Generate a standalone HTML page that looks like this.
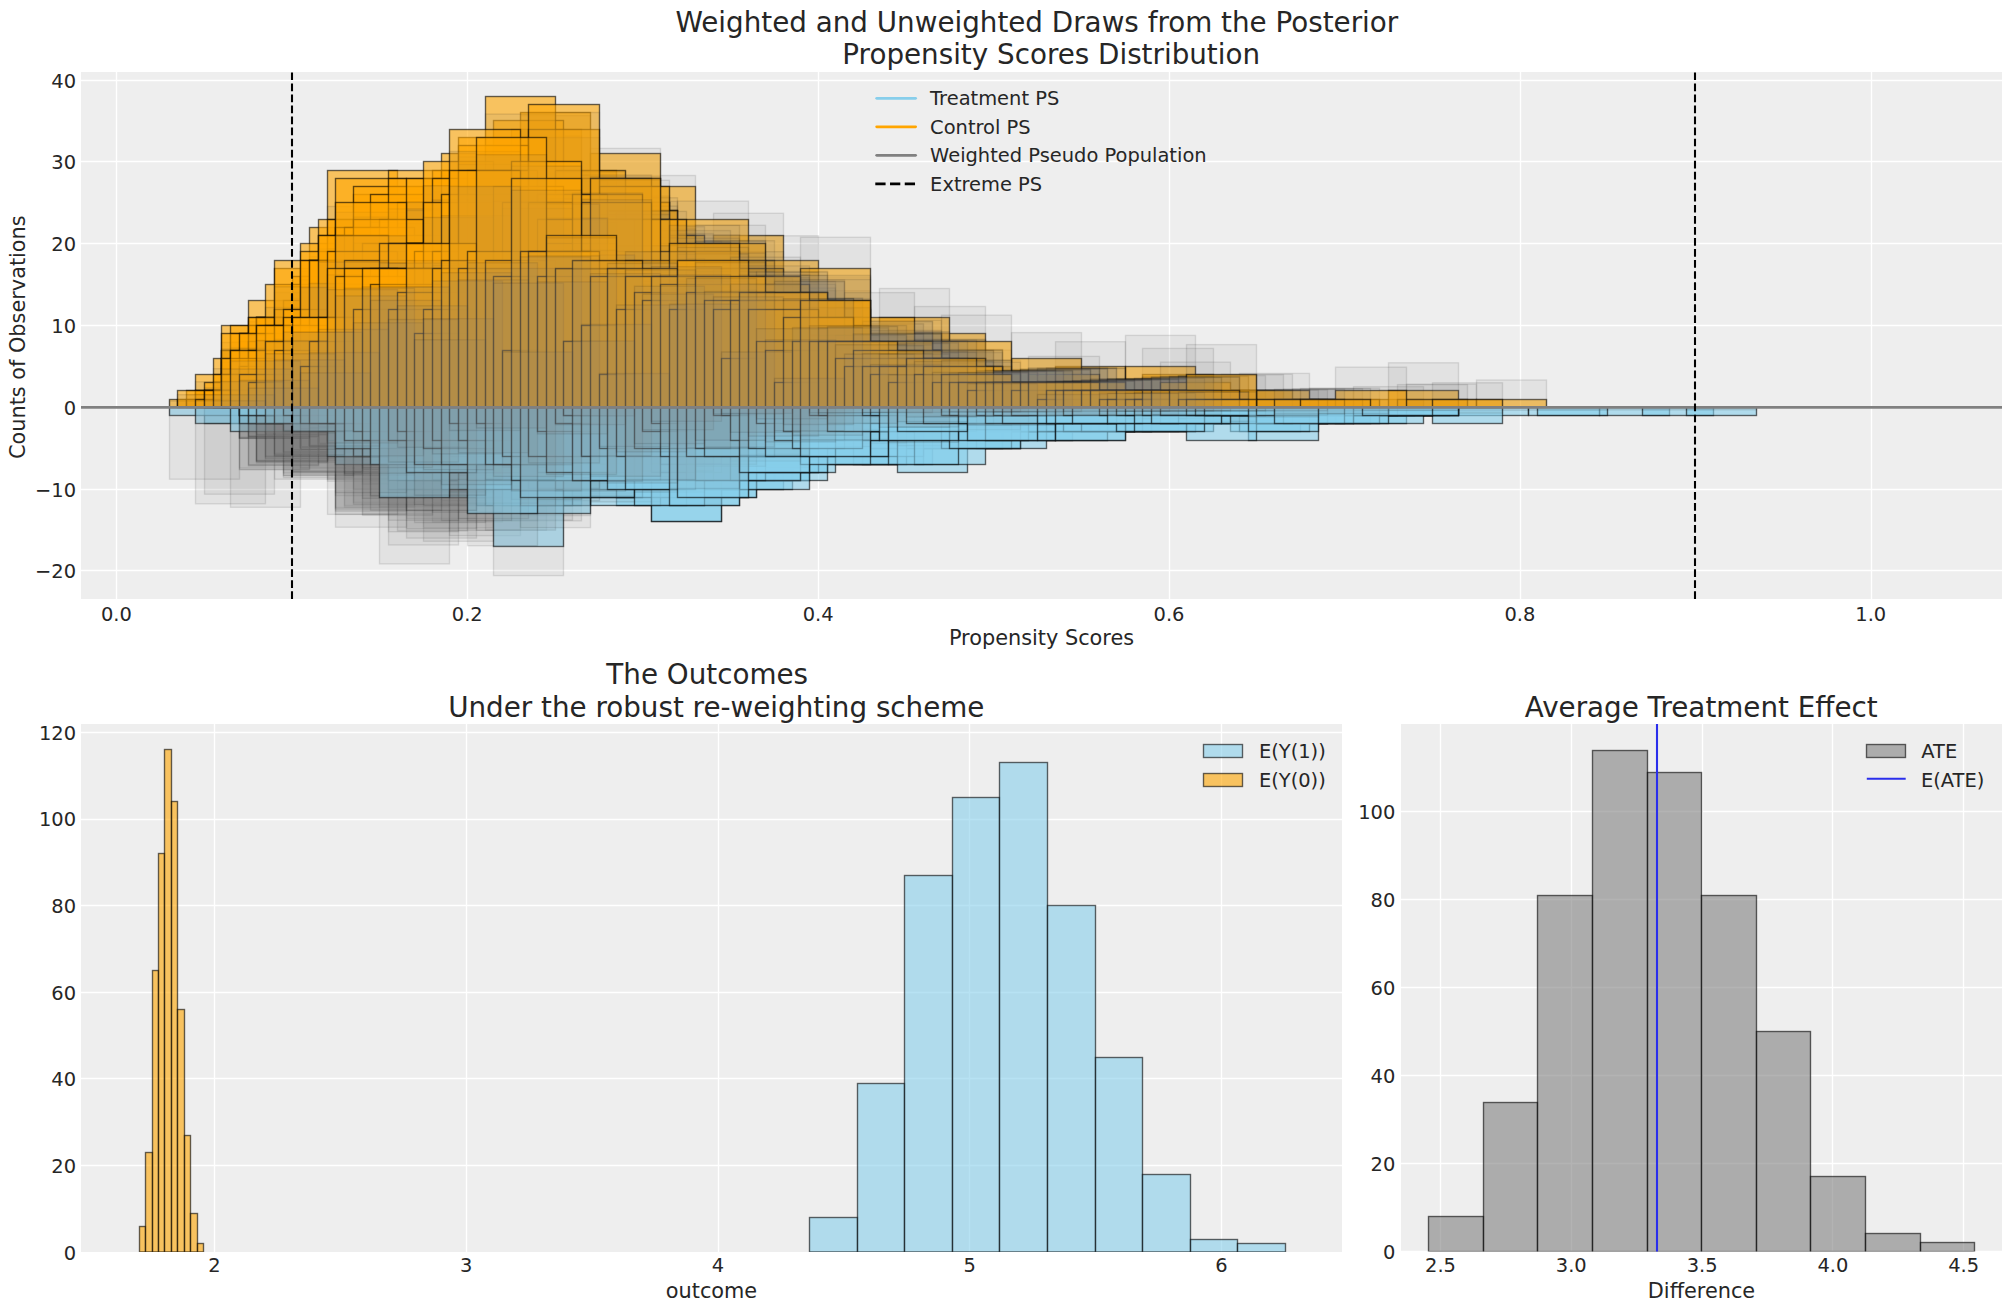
<!DOCTYPE html><html><head><meta charset="utf-8"><title>Propensity Scores</title><style>html,body{margin:0;padding:0;background:#fff}svg{display:block}</style></head><body><svg width="2011" height="1311" viewBox="0 0 2011 1311" font-family='"DejaVu Sans","Liberation Sans",sans-serif' fill="#262626">
<rect width="2011" height="1311" fill="#fff"/>
<rect x="81" y="72" width="1921" height="527" fill="#eee"/>
<g stroke="#fff" stroke-width="1.39"><line x1="116.5" x2="116.5" y1="72" y2="599"/><line x1="467.5" x2="467.5" y1="72" y2="599"/><line x1="818.5" x2="818.5" y1="72" y2="599"/><line x1="1169.5" x2="1169.5" y1="72" y2="599"/><line x1="1520.5" x2="1520.5" y1="72" y2="599"/><line x1="1871.5" x2="1871.5" y1="72" y2="599"/><line x1="81" x2="2002" y1="80.5" y2="80.5"/><line x1="81" x2="2002" y1="161.5" y2="161.5"/><line x1="81" x2="2002" y1="243.5" y2="243.5"/><line x1="81" x2="2002" y1="325.5" y2="325.5"/><line x1="81" x2="2002" y1="407.5" y2="407.5"/><line x1="81" x2="2002" y1="489.5" y2="489.5"/><line x1="81" x2="2002" y1="570.5" y2="570.5"/></g>
<clipPath id="c1"><rect x="81" y="72" width="1921" height="527"/></clipPath>
<g clip-path="url(#c1)" stroke-width="1.39" stroke-linejoin="miter">
<g fill="#ffa500" fill-opacity=".6" stroke="#000" stroke-opacity=".6"><rect x="204.5" y="399.5" width="70" height="7.9"/><rect x="213.5" y="358.5" width="70" height="48.9"/><rect x="221.5" y="325.5" width="71" height="81.9"/><rect x="230.5" y="358.5" width="70" height="48.9"/><rect x="239.5" y="374.5" width="70" height="32.9"/><rect x="248.5" y="300.5" width="70" height="106.9"/><rect x="256.5" y="350.5" width="71" height="56.9"/><rect x="265.5" y="350.5" width="70" height="56.9"/><rect x="274.5" y="374.5" width="70" height="32.9"/><rect x="283.5" y="317.5" width="70" height="89.9"/><rect x="292.5" y="284.5" width="70" height="122.9"/><rect x="300.5" y="341.5" width="70" height="65.9"/><rect x="309.5" y="227.5" width="70" height="179.9"/><rect x="318.5" y="251.5" width="70" height="155.9"/><rect x="327.5" y="170.5" width="70" height="236.9"/><rect x="335.5" y="235.5" width="71" height="171.9"/><rect x="344.5" y="309.5" width="70" height="97.9"/><rect x="353.5" y="260.5" width="70" height="146.9"/><rect x="362.5" y="300.5" width="70" height="106.9"/><rect x="370.5" y="382.5" width="71" height="24.9"/><rect x="379.5" y="317.5" width="70" height="89.9"/><rect x="388.5" y="309.5" width="70" height="97.9"/><rect x="397.5" y="202.5" width="70" height="204.9"/><rect x="406.5" y="235.5" width="70" height="171.9"/><rect x="414.5" y="227.5" width="71" height="179.9"/><rect x="423.5" y="219.5" width="70" height="187.9"/><rect x="432.5" y="268.5" width="70" height="138.9"/><rect x="441.5" y="210.5" width="70" height="196.9"/><rect x="449.5" y="210.5" width="71" height="196.9"/><rect x="458.5" y="366.5" width="70" height="40.9"/><rect x="467.5" y="194.5" width="70" height="212.9"/><rect x="476.5" y="284.5" width="70" height="122.9"/><rect x="485.5" y="260.5" width="70" height="146.9"/><rect x="493.5" y="210.5" width="70" height="196.9"/><rect x="502.5" y="260.5" width="70" height="146.9"/><rect x="511.5" y="309.5" width="70" height="97.9"/><rect x="520.5" y="219.5" width="70" height="187.9"/><rect x="528.5" y="186.5" width="71" height="220.9"/><rect x="537.5" y="243.5" width="70" height="163.9"/><rect x="546.5" y="227.5" width="70" height="179.9"/><rect x="555.5" y="194.5" width="70" height="212.9"/><rect x="563.5" y="292.5" width="71" height="114.9"/><rect x="572.5" y="186.5" width="70" height="220.9"/><rect x="581.5" y="260.5" width="70" height="146.9"/><rect x="590.5" y="178.5" width="70" height="228.9"/><rect x="599.5" y="260.5" width="70" height="146.9"/><rect x="607.5" y="210.5" width="70" height="196.9"/><rect x="616.5" y="366.5" width="70" height="40.9"/><rect x="625.5" y="186.5" width="70" height="220.9"/><rect x="634.5" y="243.5" width="70" height="163.9"/><rect x="642.5" y="317.5" width="71" height="89.9"/><rect x="651.5" y="325.5" width="70" height="81.9"/><rect x="660.5" y="292.5" width="70" height="114.9"/><rect x="669.5" y="366.5" width="70" height="40.9"/><rect x="677.5" y="309.5" width="71" height="97.9"/><rect x="686.5" y="309.5" width="70" height="97.9"/><rect x="695.5" y="284.5" width="70" height="122.9"/><rect x="704.5" y="300.5" width="70" height="106.9"/><rect x="713.5" y="235.5" width="70" height="171.9"/><rect x="721.5" y="317.5" width="71" height="89.9"/><rect x="730.5" y="292.5" width="70" height="114.9"/><rect x="739.5" y="300.5" width="70" height="106.9"/><rect x="748.5" y="317.5" width="70" height="89.9"/><rect x="756.5" y="317.5" width="71" height="89.9"/><rect x="765.5" y="317.5" width="70" height="89.9"/><rect x="774.5" y="358.5" width="70" height="48.9"/><rect x="783.5" y="317.5" width="70" height="89.9"/><rect x="792.5" y="341.5" width="70" height="65.9"/><rect x="800.5" y="309.5" width="70" height="97.9"/><rect x="809.5" y="366.5" width="70" height="40.9"/><rect x="818.5" y="350.5" width="70" height="56.9"/><rect x="827.5" y="366.5" width="70" height="40.9"/><rect x="835.5" y="350.5" width="71" height="56.9"/><rect x="844.5" y="350.5" width="70" height="56.9"/><rect x="853.5" y="341.5" width="70" height="65.9"/><rect x="862.5" y="358.5" width="70" height="48.9"/><rect x="870.5" y="358.5" width="71" height="48.9"/><rect x="879.5" y="358.5" width="70" height="48.9"/><rect x="888.5" y="366.5" width="70" height="40.9"/><rect x="897.5" y="374.5" width="70" height="32.9"/><rect x="906.5" y="358.5" width="70" height="48.9"/><rect x="914.5" y="333.5" width="71" height="73.9"/><rect x="923.5" y="366.5" width="70" height="40.9"/><rect x="932.5" y="399.5" width="70" height="7.9"/><rect x="941.5" y="382.5" width="70" height="24.9"/><rect x="949.5" y="382.5" width="71" height="24.9"/><rect x="958.5" y="382.5" width="70" height="24.9"/><rect x="967.5" y="390.5" width="70" height="16.9"/><rect x="976.5" y="382.5" width="70" height="24.9"/><rect x="985.5" y="399.5" width="70" height="7.9"/><rect x="993.5" y="390.5" width="70" height="16.9"/><rect x="1002.5" y="382.5" width="70" height="24.9"/><rect x="1011.5" y="382.5" width="70" height="24.9"/><rect x="1020.5" y="390.5" width="70" height="16.9"/><rect x="1028.5" y="390.5" width="71" height="16.9"/><rect x="1037.5" y="390.5" width="70" height="16.9"/><rect x="1046.5" y="390.5" width="70" height="16.9"/><rect x="1055.5" y="390.5" width="70" height="16.9"/><rect x="1063.5" y="399.5" width="71" height="7.9"/><rect x="1072.5" y="399.5" width="70" height="7.9"/><rect x="1081.5" y="390.5" width="70" height="16.9"/><rect x="1090.5" y="399.5" width="70" height="7.9"/><rect x="1099.5" y="399.5" width="70" height="7.9"/><rect x="1107.5" y="399.5" width="71" height="7.9"/><rect x="1116.5" y="390.5" width="70" height="16.9"/><rect x="1125.5" y="399.5" width="70" height="7.9"/><rect x="1134.5" y="399.5" width="70" height="7.9"/><rect x="1142.5" y="390.5" width="71" height="16.9"/><rect x="1151.5" y="399.5" width="70" height="7.9"/><rect x="1160.5" y="399.5" width="70" height="7.9"/><rect x="1169.5" y="399.5" width="70" height="7.9"/><rect x="1178.5" y="399.5" width="70" height="7.9"/><rect x="1186.5" y="399.5" width="70" height="7.9"/><rect x="1265.5" y="399.5" width="70" height="7.9"/><rect x="1353.5" y="399.5" width="70" height="7.9"/><rect x="1406.5" y="399.5" width="70" height="7.9"/></g>
<g fill="#87ceeb" fill-opacity=".6" stroke="#000" stroke-opacity=".6"><rect x="239.5" y="407.4" width="70" height="16.1"/><rect x="248.5" y="407.4" width="70" height="16.1"/><rect x="256.5" y="407.4" width="71" height="16.1"/><rect x="265.5" y="407.4" width="70" height="16.1"/><rect x="283.5" y="407.4" width="70" height="16.1"/><rect x="300.5" y="407.4" width="70" height="8.1"/><rect x="309.5" y="407.4" width="70" height="8.1"/><rect x="318.5" y="407.4" width="70" height="8.1"/><rect x="327.5" y="407.4" width="70" height="33.1"/><rect x="335.5" y="407.4" width="71" height="24.1"/><rect x="344.5" y="407.4" width="70" height="49.1"/><rect x="353.5" y="407.4" width="70" height="49.1"/><rect x="362.5" y="407.4" width="70" height="33.1"/><rect x="370.5" y="407.4" width="71" height="41.1"/><rect x="379.5" y="407.4" width="70" height="24.1"/><rect x="388.5" y="407.4" width="70" height="57.1"/><rect x="397.5" y="407.4" width="70" height="16.1"/><rect x="406.5" y="407.4" width="70" height="16.1"/><rect x="414.5" y="407.4" width="71" height="16.1"/><rect x="423.5" y="407.4" width="70" height="90.1"/><rect x="432.5" y="407.4" width="70" height="82.1"/><rect x="441.5" y="407.4" width="70" height="8.1"/><rect x="449.5" y="407.4" width="71" height="57.1"/><rect x="458.5" y="407.4" width="70" height="65.1"/><rect x="467.5" y="407.4" width="70" height="16.1"/><rect x="476.5" y="407.4" width="70" height="65.1"/><rect x="485.5" y="407.4" width="70" height="65.1"/><rect x="493.5" y="407.4" width="70" height="16.1"/><rect x="502.5" y="407.4" width="70" height="57.1"/><rect x="511.5" y="407.4" width="70" height="57.1"/><rect x="520.5" y="407.4" width="70" height="41.1"/><rect x="528.5" y="407.4" width="71" height="57.1"/><rect x="546.5" y="407.4" width="70" height="65.1"/><rect x="555.5" y="407.4" width="70" height="65.1"/><rect x="563.5" y="407.4" width="71" height="82.1"/><rect x="572.5" y="407.4" width="70" height="57.1"/><rect x="581.5" y="407.4" width="70" height="33.1"/><rect x="590.5" y="407.4" width="70" height="73.1"/><rect x="599.5" y="407.4" width="70" height="33.1"/><rect x="607.5" y="407.4" width="70" height="41.1"/><rect x="616.5" y="407.4" width="70" height="16.1"/><rect x="625.5" y="407.4" width="70" height="49.1"/><rect x="634.5" y="407.4" width="70" height="16.1"/><rect x="642.5" y="407.4" width="71" height="73.1"/><rect x="651.5" y="407.4" width="70" height="16.1"/><rect x="660.5" y="407.4" width="70" height="33.1"/><rect x="669.5" y="407.4" width="70" height="57.1"/><rect x="686.5" y="407.4" width="70" height="90.1"/><rect x="695.5" y="407.4" width="70" height="41.1"/><rect x="704.5" y="407.4" width="70" height="41.1"/><rect x="713.5" y="407.4" width="70" height="82.1"/><rect x="721.5" y="407.4" width="71" height="24.1"/><rect x="730.5" y="407.4" width="70" height="41.1"/><rect x="739.5" y="407.4" width="70" height="41.1"/><rect x="748.5" y="407.4" width="70" height="33.1"/><rect x="756.5" y="407.4" width="71" height="16.1"/><rect x="765.5" y="407.4" width="70" height="16.1"/><rect x="774.5" y="407.4" width="70" height="33.1"/><rect x="783.5" y="407.4" width="70" height="33.1"/><rect x="800.5" y="407.4" width="70" height="33.1"/><rect x="809.5" y="407.4" width="70" height="8.1"/><rect x="818.5" y="407.4" width="70" height="57.1"/><rect x="835.5" y="407.4" width="71" height="16.1"/><rect x="844.5" y="407.4" width="70" height="24.1"/><rect x="853.5" y="407.4" width="70" height="33.1"/><rect x="862.5" y="407.4" width="70" height="8.1"/><rect x="870.5" y="407.4" width="71" height="16.1"/><rect x="879.5" y="407.4" width="70" height="16.1"/><rect x="888.5" y="407.4" width="70" height="8.1"/><rect x="897.5" y="407.4" width="70" height="24.1"/><rect x="906.5" y="407.4" width="70" height="24.1"/><rect x="914.5" y="407.4" width="71" height="16.1"/><rect x="923.5" y="407.4" width="70" height="16.1"/><rect x="932.5" y="407.4" width="70" height="8.1"/><rect x="941.5" y="407.4" width="70" height="33.1"/><rect x="949.5" y="407.4" width="71" height="41.1"/><rect x="967.5" y="407.4" width="70" height="24.1"/><rect x="976.5" y="407.4" width="70" height="24.1"/><rect x="985.5" y="407.4" width="70" height="24.1"/><rect x="993.5" y="407.4" width="70" height="24.1"/><rect x="1002.5" y="407.4" width="70" height="16.1"/><rect x="1011.5" y="407.4" width="70" height="24.1"/><rect x="1020.5" y="407.4" width="70" height="8.1"/><rect x="1028.5" y="407.4" width="71" height="8.1"/><rect x="1046.5" y="407.4" width="70" height="8.1"/><rect x="1055.5" y="407.4" width="70" height="8.1"/><rect x="1063.5" y="407.4" width="71" height="16.1"/><rect x="1072.5" y="407.4" width="70" height="8.1"/><rect x="1081.5" y="407.4" width="70" height="24.1"/><rect x="1099.5" y="407.4" width="70" height="16.1"/><rect x="1107.5" y="407.4" width="71" height="8.1"/><rect x="1142.5" y="407.4" width="71" height="8.1"/><rect x="1178.5" y="407.4" width="70" height="16.1"/><rect x="1195.5" y="407.4" width="70" height="8.1"/><rect x="1230.5" y="407.4" width="70" height="24.1"/><rect x="1256.5" y="407.4" width="71" height="8.1"/><rect x="1274.5" y="407.4" width="70" height="8.1"/><rect x="1300.5" y="407.4" width="70" height="16.1"/><rect x="1309.5" y="407.4" width="70" height="8.1"/><rect x="1344.5" y="407.4" width="70" height="8.1"/><rect x="1353.5" y="407.4" width="70" height="8.1"/><rect x="1379.5" y="407.4" width="70" height="8.1"/><rect x="1388.5" y="407.4" width="70" height="8.1"/><rect x="1458.5" y="407.4" width="70" height="8.1"/><rect x="1599.5" y="407.4" width="70" height="8.1"/></g>
<g fill="#808080" fill-opacity=".1" stroke="#000" stroke-opacity=".1"><rect x="204.5" y="400.9" width="70" height="6.4"/><rect x="213.5" y="368.7" width="70" height="38.7"/><rect x="221.5" y="342.5" width="71" height="64.8"/><rect x="230.5" y="367.3" width="70" height="40.1"/><rect x="239.5" y="381.2" width="70" height="26.1"/><rect x="248.5" y="321.7" width="70" height="85.6"/><rect x="256.5" y="360.5" width="71" height="46.8"/><rect x="265.5" y="361.7" width="70" height="45.6"/><rect x="274.5" y="379.9" width="70" height="27.5"/><rect x="283.5" y="332.9" width="70" height="74.5"/><rect x="292.5" y="305.4" width="70" height="101.9"/><rect x="300.5" y="352.6" width="70" height="54.8"/><rect x="309.5" y="256.7" width="70" height="150.6"/><rect x="318.5" y="275.4" width="70" height="131.9"/><rect x="327.5" y="206.5" width="70" height="200.8"/><rect x="335.5" y="261" width="71" height="146.3"/><rect x="344.5" y="324.3" width="70" height="83"/><rect x="353.5" y="280.7" width="70" height="126.6"/><rect x="362.5" y="313.3" width="70" height="94.1"/><rect x="370.5" y="386.2" width="71" height="21.1"/><rect x="379.5" y="328" width="70" height="79.3"/><rect x="388.5" y="319.6" width="70" height="87.7"/><rect x="397.5" y="226" width="70" height="181.4"/><rect x="406.5" y="255.1" width="70" height="152.2"/><rect x="414.5" y="245" width="71" height="162.3"/><rect x="423.5" y="234.2" width="70" height="173.2"/><rect x="432.5" y="280.4" width="70" height="127"/><rect x="441.5" y="229.5" width="70" height="177.8"/><rect x="449.5" y="226.9" width="71" height="180.5"/><rect x="458.5" y="370.5" width="70" height="36.9"/><rect x="467.5" y="207.8" width="70" height="199.6"/><rect x="476.5" y="292.5" width="70" height="114.8"/><rect x="485.5" y="269" width="70" height="138.3"/><rect x="493.5" y="220.9" width="70" height="186.5"/><rect x="502.5" y="266.3" width="70" height="141"/><rect x="511.5" y="314.4" width="70" height="92.9"/><rect x="520.5" y="219.5" width="70" height="187.8"/><rect x="528.5" y="195.8" width="71" height="211.6"/><rect x="537.5" y="246.7" width="70" height="160.7"/><rect x="546.5" y="229.7" width="70" height="177.7"/><rect x="555.5" y="201.4" width="70" height="206"/><rect x="563.5" y="293.3" width="71" height="114"/><rect x="572.5" y="188.4" width="70" height="218.9"/><rect x="581.5" y="261.3" width="70" height="146.1"/><rect x="590.5" y="180.2" width="70" height="227.2"/><rect x="599.5" y="256.3" width="70" height="151"/><rect x="607.5" y="201.4" width="70" height="205.9"/><rect x="616.5" y="364.3" width="70" height="43.1"/><rect x="625.5" y="175.5" width="70" height="231.9"/><rect x="634.5" y="233.6" width="70" height="173.8"/><rect x="642.5" y="314.9" width="71" height="92.5"/><rect x="651.5" y="319.3" width="70" height="88"/><rect x="660.5" y="284.9" width="70" height="122.5"/><rect x="669.5" y="362.5" width="70" height="44.9"/><rect x="677.5" y="298.7" width="71" height="108.6"/><rect x="686.5" y="299" width="70" height="108.3"/><rect x="695.5" y="271.5" width="70" height="135.8"/><rect x="704.5" y="288.8" width="70" height="118.6"/><rect x="713.5" y="213.3" width="70" height="194.1"/><rect x="721.5" y="305.6" width="71" height="101.7"/><rect x="730.5" y="275.5" width="70" height="131.9"/><rect x="739.5" y="283" width="70" height="124.4"/><rect x="748.5" y="300.5" width="70" height="106.9"/><rect x="756.5" y="304.1" width="71" height="103.3"/><rect x="765.5" y="300.8" width="70" height="106.6"/><rect x="774.5" y="349.9" width="70" height="57.4"/><rect x="783.5" y="299.9" width="70" height="107.5"/><rect x="792.5" y="327.3" width="70" height="80.1"/><rect x="800.5" y="290.7" width="70" height="116.7"/><rect x="809.5" y="356.9" width="70" height="50.5"/><rect x="818.5" y="336.4" width="70" height="71"/><rect x="827.5" y="355.5" width="70" height="51.8"/><rect x="835.5" y="335" width="71" height="72.3"/><rect x="844.5" y="334.2" width="70" height="73.2"/><rect x="853.5" y="323.7" width="70" height="83.7"/><rect x="862.5" y="342.7" width="70" height="64.7"/><rect x="870.5" y="342.5" width="71" height="64.8"/><rect x="879.5" y="342.3" width="70" height="65"/><rect x="888.5" y="355.5" width="70" height="51.8"/><rect x="897.5" y="363" width="70" height="44.4"/><rect x="906.5" y="341.5" width="70" height="65.8"/><rect x="914.5" y="306.5" width="71" height="100.8"/><rect x="923.5" y="350.6" width="70" height="56.7"/><rect x="932.5" y="395.9" width="70" height="11.5"/><rect x="941.5" y="373" width="70" height="34.3"/><rect x="949.5" y="372.4" width="71" height="34.9"/><rect x="958.5" y="372.3" width="70" height="35.1"/><rect x="967.5" y="384.2" width="70" height="23.1"/><rect x="976.5" y="371.3" width="70" height="36.1"/><rect x="985.5" y="395.4" width="70" height="11.9"/><rect x="993.5" y="382.9" width="70" height="24.4"/><rect x="1002.5" y="369.9" width="70" height="37.5"/><rect x="1011.5" y="369.3" width="70" height="38.1"/><rect x="1020.5" y="382" width="70" height="25.3"/><rect x="1028.5" y="381.8" width="71" height="25.5"/><rect x="1037.5" y="381.7" width="70" height="25.7"/><rect x="1046.5" y="381.7" width="70" height="25.6"/><rect x="1055.5" y="380.9" width="70" height="26.4"/><rect x="1063.5" y="394" width="71" height="13.3"/><rect x="1072.5" y="394.1" width="70" height="13.3"/><rect x="1081.5" y="380.2" width="70" height="27.2"/><rect x="1090.5" y="393.9" width="70" height="13.5"/><rect x="1099.5" y="393.4" width="70" height="14"/><rect x="1107.5" y="393.5" width="71" height="13.9"/><rect x="1116.5" y="379.3" width="70" height="28"/><rect x="1125.5" y="393.2" width="70" height="14.2"/><rect x="1134.5" y="392.9" width="70" height="14.4"/><rect x="1142.5" y="378.3" width="71" height="29"/><rect x="1151.5" y="392.4" width="70" height="14.9"/><rect x="1160.5" y="392.2" width="70" height="15.1"/><rect x="1169.5" y="391.4" width="70" height="15.9"/><rect x="1178.5" y="392.3" width="70" height="15.1"/><rect x="1186.5" y="391.8" width="70" height="15.6"/><rect x="1265.5" y="389.6" width="70" height="17.7"/><rect x="1353.5" y="386.6" width="70" height="20.8"/><rect x="1406.5" y="384.2" width="70" height="23.1"/><rect x="239.5" y="407.4" width="70" height="62.2"/><rect x="248.5" y="407.4" width="70" height="57.5"/><rect x="256.5" y="407.4" width="71" height="54.1"/><rect x="265.5" y="407.4" width="70" height="48.6"/><rect x="283.5" y="407.4" width="70" height="45.2"/><rect x="300.5" y="407.4" width="70" height="21.1"/><rect x="309.5" y="407.4" width="70" height="19.8"/><rect x="318.5" y="407.4" width="70" height="18"/><rect x="327.5" y="407.4" width="70" height="73.8"/><rect x="335.5" y="407.4" width="71" height="50.6"/><rect x="344.5" y="407.4" width="70" height="98.1"/><rect x="353.5" y="407.4" width="70" height="95"/><rect x="362.5" y="407.4" width="70" height="62.7"/><rect x="370.5" y="407.4" width="71" height="73.4"/><rect x="379.5" y="407.4" width="70" height="43"/><rect x="388.5" y="407.4" width="70" height="98"/><rect x="397.5" y="407.4" width="70" height="26.6"/><rect x="406.5" y="407.4" width="70" height="24.8"/><rect x="414.5" y="407.4" width="71" height="25.8"/><rect x="423.5" y="407.4" width="70" height="133.9"/><rect x="432.5" y="407.4" width="70" height="114.6"/><rect x="441.5" y="407.4" width="70" height="11.4"/><rect x="449.5" y="407.4" width="71" height="77.8"/><rect x="458.5" y="407.4" width="70" height="86.5"/><rect x="467.5" y="407.4" width="70" height="21.2"/><rect x="476.5" y="407.4" width="70" height="83.7"/><rect x="485.5" y="407.4" width="70" height="84"/><rect x="493.5" y="407.4" width="70" height="20.1"/><rect x="502.5" y="407.4" width="70" height="67.9"/><rect x="511.5" y="407.4" width="70" height="69.1"/><rect x="520.5" y="407.4" width="70" height="46.3"/><rect x="528.5" y="407.4" width="71" height="66.4"/><rect x="546.5" y="407.4" width="70" height="67.1"/><rect x="555.5" y="407.4" width="70" height="70"/><rect x="563.5" y="407.4" width="71" height="83.1"/><rect x="572.5" y="407.4" width="70" height="56.9"/><rect x="581.5" y="407.4" width="70" height="32"/><rect x="590.5" y="407.4" width="70" height="71"/><rect x="599.5" y="407.4" width="70" height="31.3"/><rect x="607.5" y="407.4" width="70" height="37.9"/><rect x="616.5" y="407.4" width="70" height="14.5"/><rect x="625.5" y="407.4" width="70" height="44.4"/><rect x="634.5" y="407.4" width="70" height="14.6"/><rect x="642.5" y="407.4" width="71" height="63.4"/><rect x="651.5" y="407.4" width="70" height="14.1"/><rect x="660.5" y="407.4" width="70" height="27.8"/><rect x="669.5" y="407.4" width="70" height="45.6"/><rect x="686.5" y="407.4" width="70" height="70.9"/><rect x="695.5" y="407.4" width="70" height="32.8"/><rect x="704.5" y="407.4" width="70" height="30.8"/><rect x="713.5" y="407.4" width="70" height="62.6"/><rect x="721.5" y="407.4" width="71" height="18.3"/><rect x="730.5" y="407.4" width="70" height="30.7"/><rect x="739.5" y="407.4" width="70" height="29.7"/><rect x="748.5" y="407.4" width="70" height="23.4"/><rect x="756.5" y="407.4" width="71" height="11.6"/><rect x="765.5" y="407.4" width="70" height="11.3"/><rect x="774.5" y="407.4" width="70" height="22.2"/><rect x="783.5" y="407.4" width="70" height="22.1"/><rect x="800.5" y="407.4" width="70" height="21.7"/><rect x="809.5" y="407.4" width="70" height="5.2"/><rect x="818.5" y="407.4" width="70" height="37.3"/><rect x="835.5" y="407.4" width="71" height="10.5"/><rect x="844.5" y="407.4" width="70" height="15.6"/><rect x="853.5" y="407.4" width="70" height="20.3"/><rect x="862.5" y="407.4" width="70" height="5"/><rect x="870.5" y="407.4" width="71" height="9.7"/><rect x="879.5" y="407.4" width="70" height="9.7"/><rect x="888.5" y="407.4" width="70" height="4.9"/><rect x="897.5" y="407.4" width="70" height="14.5"/><rect x="906.5" y="407.4" width="70" height="14.6"/><rect x="914.5" y="407.4" width="71" height="9.8"/><rect x="923.5" y="407.4" width="70" height="9.6"/><rect x="932.5" y="407.4" width="70" height="4.5"/><rect x="941.5" y="407.4" width="70" height="17.9"/><rect x="949.5" y="407.4" width="71" height="22.3"/><rect x="967.5" y="407.4" width="70" height="13.3"/><rect x="976.5" y="407.4" width="70" height="13"/><rect x="985.5" y="407.4" width="70" height="12.6"/><rect x="993.5" y="407.4" width="70" height="12.8"/><rect x="1002.5" y="407.4" width="70" height="8.4"/><rect x="1011.5" y="407.4" width="70" height="12.9"/><rect x="1020.5" y="407.4" width="70" height="4.3"/><rect x="1028.5" y="407.4" width="71" height="4"/><rect x="1046.5" y="407.4" width="70" height="4.1"/><rect x="1055.5" y="407.4" width="70" height="4"/><rect x="1063.5" y="407.4" width="71" height="7.8"/><rect x="1072.5" y="407.4" width="70" height="3.9"/><rect x="1081.5" y="407.4" width="70" height="11.7"/><rect x="1099.5" y="407.4" width="70" height="7.7"/><rect x="1107.5" y="407.4" width="71" height="3.7"/><rect x="1142.5" y="407.4" width="71" height="3.7"/><rect x="1178.5" y="407.4" width="70" height="7.1"/><rect x="1195.5" y="407.4" width="70" height="3.5"/><rect x="1230.5" y="407.4" width="70" height="9.9"/><rect x="1256.5" y="407.4" width="71" height="3.2"/><rect x="1274.5" y="407.4" width="70" height="3.2"/><rect x="1300.5" y="407.4" width="70" height="6.1"/><rect x="1309.5" y="407.4" width="70" height="3.1"/><rect x="1344.5" y="407.4" width="70" height="3"/><rect x="1353.5" y="407.4" width="70" height="3"/><rect x="1379.5" y="407.4" width="70" height="3.1"/><rect x="1388.5" y="407.4" width="70" height="2.9"/><rect x="1458.5" y="407.4" width="70" height="2.8"/><rect x="1599.5" y="407.4" width="70" height="2.5"/></g>
<g fill="#ffa500" fill-opacity=".6" stroke="#000" stroke-opacity=".6"><rect x="195.5" y="374.5" width="70" height="32.9"/><rect x="213.5" y="390.5" width="70" height="16.9"/><rect x="221.5" y="350.5" width="71" height="56.9"/><rect x="230.5" y="325.5" width="70" height="81.9"/><rect x="239.5" y="341.5" width="70" height="65.9"/><rect x="248.5" y="374.5" width="70" height="32.9"/><rect x="256.5" y="317.5" width="71" height="89.9"/><rect x="265.5" y="350.5" width="70" height="56.9"/><rect x="274.5" y="268.5" width="70" height="138.9"/><rect x="283.5" y="333.5" width="70" height="73.9"/><rect x="292.5" y="276.5" width="70" height="130.9"/><rect x="300.5" y="243.5" width="70" height="163.9"/><rect x="309.5" y="300.5" width="70" height="106.9"/><rect x="318.5" y="358.5" width="70" height="48.9"/><rect x="327.5" y="309.5" width="70" height="97.9"/><rect x="335.5" y="235.5" width="71" height="171.9"/><rect x="344.5" y="325.5" width="70" height="81.9"/><rect x="353.5" y="243.5" width="70" height="163.9"/><rect x="362.5" y="260.5" width="70" height="146.9"/><rect x="370.5" y="260.5" width="71" height="146.9"/><rect x="379.5" y="292.5" width="70" height="114.9"/><rect x="388.5" y="186.5" width="70" height="220.9"/><rect x="397.5" y="300.5" width="70" height="106.9"/><rect x="406.5" y="260.5" width="70" height="146.9"/><rect x="414.5" y="276.5" width="71" height="130.9"/><rect x="423.5" y="317.5" width="70" height="89.9"/><rect x="432.5" y="284.5" width="70" height="122.9"/><rect x="441.5" y="219.5" width="70" height="187.9"/><rect x="449.5" y="325.5" width="71" height="81.9"/><rect x="458.5" y="186.5" width="70" height="220.9"/><rect x="467.5" y="284.5" width="70" height="122.9"/><rect x="476.5" y="178.5" width="70" height="228.9"/><rect x="485.5" y="145.5" width="70" height="261.9"/><rect x="493.5" y="284.5" width="70" height="122.9"/><rect x="502.5" y="202.5" width="70" height="204.9"/><rect x="511.5" y="260.5" width="70" height="146.9"/><rect x="520.5" y="194.5" width="70" height="212.9"/><rect x="528.5" y="251.5" width="71" height="155.9"/><rect x="537.5" y="309.5" width="70" height="97.9"/><rect x="546.5" y="170.5" width="70" height="236.9"/><rect x="555.5" y="309.5" width="70" height="97.9"/><rect x="563.5" y="276.5" width="71" height="130.9"/><rect x="572.5" y="227.5" width="70" height="179.9"/><rect x="581.5" y="243.5" width="70" height="163.9"/><rect x="590.5" y="350.5" width="70" height="56.9"/><rect x="599.5" y="202.5" width="70" height="204.9"/><rect x="607.5" y="210.5" width="70" height="196.9"/><rect x="616.5" y="276.5" width="70" height="130.9"/><rect x="625.5" y="309.5" width="70" height="97.9"/><rect x="634.5" y="300.5" width="70" height="106.9"/><rect x="642.5" y="243.5" width="71" height="163.9"/><rect x="651.5" y="251.5" width="70" height="155.9"/><rect x="660.5" y="260.5" width="70" height="146.9"/><rect x="669.5" y="284.5" width="70" height="122.9"/><rect x="677.5" y="219.5" width="71" height="187.9"/><rect x="686.5" y="366.5" width="70" height="40.9"/><rect x="695.5" y="260.5" width="70" height="146.9"/><rect x="704.5" y="260.5" width="70" height="146.9"/><rect x="713.5" y="284.5" width="70" height="122.9"/><rect x="721.5" y="325.5" width="71" height="81.9"/><rect x="730.5" y="325.5" width="70" height="81.9"/><rect x="739.5" y="358.5" width="70" height="48.9"/><rect x="748.5" y="260.5" width="70" height="146.9"/><rect x="756.5" y="382.5" width="71" height="24.9"/><rect x="765.5" y="309.5" width="70" height="97.9"/><rect x="774.5" y="317.5" width="70" height="89.9"/><rect x="783.5" y="366.5" width="70" height="40.9"/><rect x="792.5" y="366.5" width="70" height="40.9"/><rect x="800.5" y="300.5" width="70" height="106.9"/><rect x="809.5" y="358.5" width="70" height="48.9"/><rect x="818.5" y="374.5" width="70" height="32.9"/><rect x="827.5" y="374.5" width="70" height="32.9"/><rect x="835.5" y="366.5" width="71" height="40.9"/><rect x="844.5" y="382.5" width="70" height="24.9"/><rect x="853.5" y="341.5" width="70" height="65.9"/><rect x="862.5" y="366.5" width="70" height="40.9"/><rect x="870.5" y="350.5" width="71" height="56.9"/><rect x="879.5" y="317.5" width="70" height="89.9"/><rect x="888.5" y="374.5" width="70" height="32.9"/><rect x="897.5" y="358.5" width="70" height="48.9"/><rect x="906.5" y="366.5" width="70" height="40.9"/><rect x="914.5" y="358.5" width="71" height="48.9"/><rect x="923.5" y="390.5" width="70" height="16.9"/><rect x="932.5" y="374.5" width="70" height="32.9"/><rect x="941.5" y="390.5" width="70" height="16.9"/><rect x="949.5" y="390.5" width="71" height="16.9"/><rect x="958.5" y="382.5" width="70" height="24.9"/><rect x="967.5" y="399.5" width="70" height="7.9"/><rect x="976.5" y="399.5" width="70" height="7.9"/><rect x="985.5" y="390.5" width="70" height="16.9"/><rect x="993.5" y="390.5" width="70" height="16.9"/><rect x="1002.5" y="382.5" width="70" height="24.9"/><rect x="1011.5" y="390.5" width="70" height="16.9"/><rect x="1020.5" y="399.5" width="70" height="7.9"/><rect x="1028.5" y="382.5" width="71" height="24.9"/><rect x="1037.5" y="382.5" width="70" height="24.9"/><rect x="1046.5" y="382.5" width="70" height="24.9"/><rect x="1055.5" y="366.5" width="70" height="40.9"/><rect x="1063.5" y="390.5" width="71" height="16.9"/><rect x="1072.5" y="399.5" width="70" height="7.9"/><rect x="1081.5" y="390.5" width="70" height="16.9"/><rect x="1090.5" y="390.5" width="70" height="16.9"/><rect x="1099.5" y="390.5" width="70" height="16.9"/><rect x="1125.5" y="399.5" width="70" height="7.9"/><rect x="1134.5" y="399.5" width="70" height="7.9"/><rect x="1142.5" y="374.5" width="71" height="32.9"/><rect x="1151.5" y="390.5" width="70" height="16.9"/><rect x="1160.5" y="399.5" width="70" height="7.9"/><rect x="1169.5" y="390.5" width="70" height="16.9"/><rect x="1178.5" y="399.5" width="70" height="7.9"/><rect x="1186.5" y="399.5" width="70" height="7.9"/><rect x="1195.5" y="390.5" width="70" height="16.9"/><rect x="1309.5" y="399.5" width="70" height="7.9"/><rect x="1388.5" y="390.5" width="70" height="16.9"/><rect x="1397.5" y="399.5" width="70" height="7.9"/></g>
<g fill="#87ceeb" fill-opacity=".6" stroke="#000" stroke-opacity=".6"><rect x="248.5" y="407.4" width="70" height="8.1"/><rect x="256.5" y="407.4" width="71" height="16.1"/><rect x="265.5" y="407.4" width="70" height="16.1"/><rect x="274.5" y="407.4" width="70" height="24.1"/><rect x="283.5" y="407.4" width="70" height="24.1"/><rect x="292.5" y="407.4" width="70" height="8.1"/><rect x="300.5" y="407.4" width="70" height="16.1"/><rect x="309.5" y="407.4" width="70" height="16.1"/><rect x="327.5" y="407.4" width="70" height="24.1"/><rect x="335.5" y="407.4" width="71" height="41.1"/><rect x="344.5" y="407.4" width="70" height="33.1"/><rect x="353.5" y="407.4" width="70" height="33.1"/><rect x="362.5" y="407.4" width="70" height="41.1"/><rect x="370.5" y="407.4" width="71" height="41.1"/><rect x="379.5" y="407.4" width="70" height="24.1"/><rect x="388.5" y="407.4" width="70" height="33.1"/><rect x="397.5" y="407.4" width="70" height="8.1"/><rect x="406.5" y="407.4" width="70" height="82.1"/><rect x="414.5" y="407.4" width="71" height="41.1"/><rect x="423.5" y="407.4" width="70" height="82.1"/><rect x="432.5" y="407.4" width="70" height="65.1"/><rect x="441.5" y="407.4" width="70" height="33.1"/><rect x="449.5" y="407.4" width="71" height="8.1"/><rect x="458.5" y="407.4" width="70" height="65.1"/><rect x="467.5" y="407.4" width="70" height="24.1"/><rect x="476.5" y="407.4" width="70" height="65.1"/><rect x="485.5" y="407.4" width="70" height="41.1"/><rect x="493.5" y="407.4" width="70" height="8.1"/><rect x="502.5" y="407.4" width="70" height="65.1"/><rect x="511.5" y="407.4" width="70" height="24.1"/><rect x="520.5" y="407.4" width="70" height="8.1"/><rect x="528.5" y="407.4" width="71" height="16.1"/><rect x="537.5" y="407.4" width="70" height="57.1"/><rect x="546.5" y="407.4" width="70" height="65.1"/><rect x="555.5" y="407.4" width="70" height="73.1"/><rect x="563.5" y="407.4" width="71" height="33.1"/><rect x="572.5" y="407.4" width="70" height="73.1"/><rect x="581.5" y="407.4" width="70" height="16.1"/><rect x="599.5" y="407.4" width="70" height="41.1"/><rect x="607.5" y="407.4" width="70" height="8.1"/><rect x="616.5" y="407.4" width="70" height="41.1"/><rect x="625.5" y="407.4" width="70" height="65.1"/><rect x="634.5" y="407.4" width="70" height="82.1"/><rect x="642.5" y="407.4" width="71" height="49.1"/><rect x="651.5" y="407.4" width="70" height="114.1"/><rect x="660.5" y="407.4" width="70" height="57.1"/><rect x="669.5" y="407.4" width="70" height="98.1"/><rect x="677.5" y="407.4" width="71" height="90.1"/><rect x="686.5" y="407.4" width="70" height="65.1"/><rect x="695.5" y="407.4" width="70" height="33.1"/><rect x="704.5" y="407.4" width="70" height="65.1"/><rect x="713.5" y="407.4" width="70" height="49.1"/><rect x="730.5" y="407.4" width="70" height="65.1"/><rect x="739.5" y="407.4" width="70" height="41.1"/><rect x="748.5" y="407.4" width="70" height="41.1"/><rect x="756.5" y="407.4" width="71" height="65.1"/><rect x="765.5" y="407.4" width="70" height="41.1"/><rect x="774.5" y="407.4" width="70" height="41.1"/><rect x="783.5" y="407.4" width="70" height="41.1"/><rect x="792.5" y="407.4" width="70" height="8.1"/><rect x="800.5" y="407.4" width="70" height="41.1"/><rect x="809.5" y="407.4" width="70" height="8.1"/><rect x="818.5" y="407.4" width="70" height="8.1"/><rect x="827.5" y="407.4" width="70" height="41.1"/><rect x="835.5" y="407.4" width="71" height="16.1"/><rect x="844.5" y="407.4" width="70" height="16.1"/><rect x="853.5" y="407.4" width="70" height="33.1"/><rect x="862.5" y="407.4" width="70" height="57.1"/><rect x="870.5" y="407.4" width="71" height="16.1"/><rect x="888.5" y="407.4" width="70" height="8.1"/><rect x="897.5" y="407.4" width="70" height="8.1"/><rect x="906.5" y="407.4" width="70" height="16.1"/><rect x="914.5" y="407.4" width="71" height="8.1"/><rect x="932.5" y="407.4" width="70" height="8.1"/><rect x="949.5" y="407.4" width="71" height="8.1"/><rect x="958.5" y="407.4" width="70" height="8.1"/><rect x="967.5" y="407.4" width="70" height="16.1"/><rect x="976.5" y="407.4" width="70" height="8.1"/><rect x="985.5" y="407.4" width="70" height="16.1"/><rect x="993.5" y="407.4" width="70" height="24.1"/><rect x="1002.5" y="407.4" width="70" height="8.1"/><rect x="1011.5" y="407.4" width="70" height="8.1"/><rect x="1028.5" y="407.4" width="71" height="24.1"/><rect x="1055.5" y="407.4" width="70" height="8.1"/><rect x="1116.5" y="407.4" width="70" height="8.1"/><rect x="1151.5" y="407.4" width="70" height="8.1"/><rect x="1178.5" y="407.4" width="70" height="8.1"/><rect x="1195.5" y="407.4" width="70" height="8.1"/><rect x="1274.5" y="407.4" width="70" height="8.1"/><rect x="1292.5" y="407.4" width="70" height="8.1"/><rect x="1335.5" y="407.4" width="71" height="16.1"/><rect x="1344.5" y="407.4" width="70" height="8.1"/><rect x="1379.5" y="407.4" width="70" height="8.1"/><rect x="1388.5" y="407.4" width="70" height="8.1"/><rect x="1528.5" y="407.4" width="71" height="8.1"/></g>
<g fill="#808080" fill-opacity=".1" stroke="#000" stroke-opacity=".1"><rect x="195.5" y="381.8" width="70" height="25.5"/><rect x="213.5" y="394.9" width="70" height="12.5"/><rect x="221.5" y="362.3" width="71" height="45"/><rect x="230.5" y="342.2" width="70" height="65.2"/><rect x="239.5" y="355.3" width="70" height="52.1"/><rect x="248.5" y="381.3" width="70" height="26"/><rect x="256.5" y="334.5" width="71" height="72.9"/><rect x="265.5" y="359.3" width="70" height="48"/><rect x="274.5" y="292.5" width="70" height="114.9"/><rect x="283.5" y="346.2" width="70" height="61.2"/><rect x="292.5" y="298.4" width="70" height="108.9"/><rect x="300.5" y="271.2" width="70" height="136.2"/><rect x="309.5" y="315.9" width="70" height="91.4"/><rect x="318.5" y="366.3" width="70" height="41.1"/><rect x="327.5" y="327.2" width="70" height="80.1"/><rect x="335.5" y="260.3" width="71" height="147.1"/><rect x="344.5" y="336.5" width="70" height="70.9"/><rect x="353.5" y="266.4" width="70" height="140.9"/><rect x="362.5" y="278.8" width="70" height="128.5"/><rect x="370.5" y="278.3" width="71" height="129"/><rect x="379.5" y="306.6" width="70" height="100.8"/><rect x="388.5" y="206.7" width="70" height="200.7"/><rect x="397.5" y="311" width="70" height="96.4"/><rect x="406.5" y="274.9" width="70" height="132.5"/><rect x="414.5" y="289.6" width="71" height="117.8"/><rect x="423.5" y="326.7" width="70" height="80.7"/><rect x="432.5" y="297.9" width="70" height="109.5"/><rect x="441.5" y="238.8" width="70" height="168.5"/><rect x="449.5" y="333.5" width="71" height="73.8"/><rect x="458.5" y="203.9" width="70" height="203.5"/><rect x="467.5" y="293.7" width="70" height="113.7"/><rect x="476.5" y="190.6" width="70" height="216.7"/><rect x="485.5" y="160.1" width="70" height="247.2"/><rect x="493.5" y="294.6" width="70" height="112.8"/><rect x="502.5" y="212" width="70" height="195.4"/><rect x="511.5" y="267.4" width="70" height="140"/><rect x="520.5" y="193.8" width="70" height="213.5"/><rect x="528.5" y="257.1" width="71" height="150.3"/><rect x="537.5" y="310.4" width="70" height="97"/><rect x="546.5" y="172.5" width="70" height="234.9"/><rect x="555.5" y="310.6" width="70" height="96.7"/><rect x="563.5" y="275.1" width="71" height="132.2"/><rect x="572.5" y="232" width="70" height="175.4"/><rect x="581.5" y="244.2" width="70" height="163.1"/><rect x="590.5" y="350.4" width="70" height="57"/><rect x="599.5" y="196.1" width="70" height="211.2"/><rect x="607.5" y="197.8" width="70" height="209.5"/><rect x="616.5" y="272" width="70" height="135.3"/><rect x="625.5" y="306.2" width="70" height="101.1"/><rect x="634.5" y="297" width="70" height="110.3"/><rect x="642.5" y="233.4" width="71" height="173.9"/><rect x="651.5" y="241.4" width="70" height="166"/><rect x="660.5" y="247.6" width="70" height="159.7"/><rect x="669.5" y="275.4" width="70" height="132"/><rect x="677.5" y="201.1" width="71" height="206.3"/><rect x="686.5" y="361.5" width="70" height="45.9"/><rect x="695.5" y="240.5" width="70" height="166.8"/><rect x="704.5" y="240.7" width="70" height="166.6"/><rect x="713.5" y="270.8" width="70" height="136.5"/><rect x="721.5" y="312.5" width="71" height="94.8"/><rect x="730.5" y="309" width="70" height="98.4"/><rect x="739.5" y="351.5" width="70" height="55.9"/><rect x="748.5" y="235.8" width="70" height="171.6"/><rect x="756.5" y="378.6" width="71" height="28.7"/><rect x="765.5" y="290.4" width="70" height="116.9"/><rect x="774.5" y="299.6" width="70" height="107.8"/><rect x="783.5" y="357.7" width="70" height="49.7"/><rect x="792.5" y="358.2" width="70" height="49.1"/><rect x="800.5" y="277" width="70" height="130.3"/><rect x="809.5" y="347.4" width="70" height="59.9"/><rect x="818.5" y="366.5" width="70" height="40.8"/><rect x="827.5" y="366.3" width="70" height="41"/><rect x="835.5" y="356.2" width="71" height="51.1"/><rect x="844.5" y="376.1" width="70" height="31.2"/><rect x="853.5" y="323.9" width="70" height="83.5"/><rect x="862.5" y="354.1" width="70" height="53.3"/><rect x="870.5" y="332.2" width="71" height="75.1"/><rect x="879.5" y="288.5" width="70" height="118.8"/><rect x="888.5" y="365.3" width="70" height="42.1"/><rect x="897.5" y="341.6" width="70" height="65.7"/><rect x="906.5" y="352.5" width="70" height="54.9"/><rect x="914.5" y="340.8" width="71" height="66.5"/><rect x="923.5" y="384.4" width="70" height="22.9"/><rect x="932.5" y="361.2" width="70" height="46.1"/><rect x="941.5" y="384.3" width="70" height="23"/><rect x="949.5" y="383.6" width="71" height="23.8"/><rect x="958.5" y="371.5" width="70" height="35.9"/><rect x="967.5" y="395.4" width="70" height="11.9"/><rect x="976.5" y="395.4" width="70" height="12"/><rect x="985.5" y="382.5" width="70" height="24.8"/><rect x="993.5" y="383.3" width="70" height="24"/><rect x="1002.5" y="371" width="70" height="36.3"/><rect x="1011.5" y="382.8" width="70" height="24.5"/><rect x="1020.5" y="394.8" width="70" height="12.5"/><rect x="1028.5" y="369.2" width="71" height="38.1"/><rect x="1037.5" y="368" width="70" height="39.3"/><rect x="1046.5" y="368.4" width="70" height="39"/><rect x="1055.5" y="341.7" width="70" height="65.7"/><rect x="1063.5" y="380.2" width="71" height="27.1"/><rect x="1072.5" y="393.6" width="70" height="13.7"/><rect x="1081.5" y="380.2" width="70" height="27.2"/><rect x="1090.5" y="380.2" width="70" height="27.1"/><rect x="1099.5" y="379" width="70" height="28.3"/><rect x="1125.5" y="392.8" width="70" height="14.6"/><rect x="1134.5" y="392.7" width="70" height="14.6"/><rect x="1142.5" y="348.4" width="71" height="58.9"/><rect x="1151.5" y="377.3" width="70" height="30.1"/><rect x="1160.5" y="392.2" width="70" height="15.1"/><rect x="1169.5" y="376.8" width="70" height="30.5"/><rect x="1178.5" y="391.8" width="70" height="15.6"/><rect x="1186.5" y="391.9" width="70" height="15.5"/><rect x="1195.5" y="375.6" width="70" height="31.8"/><rect x="1309.5" y="388.2" width="70" height="19.1"/><rect x="1388.5" y="362.8" width="70" height="44.6"/><rect x="1397.5" y="384.6" width="70" height="22.7"/><rect x="248.5" y="407.4" width="70" height="28.9"/><rect x="256.5" y="407.4" width="71" height="53.9"/><rect x="265.5" y="407.4" width="70" height="50.7"/><rect x="274.5" y="407.4" width="70" height="71.8"/><rect x="283.5" y="407.4" width="70" height="65.6"/><rect x="292.5" y="407.4" width="70" height="21.8"/><rect x="300.5" y="407.4" width="70" height="41"/><rect x="309.5" y="407.4" width="70" height="39.2"/><rect x="327.5" y="407.4" width="70" height="53.1"/><rect x="335.5" y="407.4" width="71" height="88.2"/><rect x="344.5" y="407.4" width="70" height="66.9"/><rect x="353.5" y="407.4" width="70" height="63.9"/><rect x="362.5" y="407.4" width="70" height="76.7"/><rect x="370.5" y="407.4" width="71" height="76.5"/><rect x="379.5" y="407.4" width="70" height="43.2"/><rect x="388.5" y="407.4" width="70" height="56"/><rect x="397.5" y="407.4" width="70" height="13.1"/><rect x="406.5" y="407.4" width="70" height="130.7"/><rect x="414.5" y="407.4" width="71" height="61.5"/><rect x="423.5" y="407.4" width="70" height="120.4"/><rect x="432.5" y="407.4" width="70" height="95.7"/><rect x="441.5" y="407.4" width="70" height="45.9"/><rect x="449.5" y="407.4" width="71" height="10.8"/><rect x="458.5" y="407.4" width="70" height="85.7"/><rect x="467.5" y="407.4" width="70" height="31.6"/><rect x="476.5" y="407.4" width="70" height="84.2"/><rect x="485.5" y="407.4" width="70" height="50.2"/><rect x="493.5" y="407.4" width="70" height="10.1"/><rect x="502.5" y="407.4" width="70" height="77.7"/><rect x="511.5" y="407.4" width="70" height="27.9"/><rect x="520.5" y="407.4" width="70" height="9.6"/><rect x="528.5" y="407.4" width="71" height="18.1"/><rect x="537.5" y="407.4" width="70" height="61.6"/><rect x="546.5" y="407.4" width="70" height="68.7"/><rect x="555.5" y="407.4" width="70" height="76.7"/><rect x="563.5" y="407.4" width="71" height="33.2"/><rect x="572.5" y="407.4" width="70" height="74.2"/><rect x="581.5" y="407.4" width="70" height="16.3"/><rect x="599.5" y="407.4" width="70" height="38.2"/><rect x="607.5" y="407.4" width="70" height="7.8"/><rect x="616.5" y="407.4" width="70" height="37.2"/><rect x="625.5" y="407.4" width="70" height="59.3"/><rect x="634.5" y="407.4" width="70" height="69.1"/><rect x="642.5" y="407.4" width="71" height="43.6"/><rect x="651.5" y="407.4" width="70" height="96.7"/><rect x="660.5" y="407.4" width="70" height="49"/><rect x="669.5" y="407.4" width="70" height="79.4"/><rect x="677.5" y="407.4" width="71" height="73.1"/><rect x="686.5" y="407.4" width="70" height="54"/><rect x="695.5" y="407.4" width="70" height="26.5"/><rect x="704.5" y="407.4" width="70" height="51.3"/><rect x="713.5" y="407.4" width="70" height="38.2"/><rect x="730.5" y="407.4" width="70" height="48.1"/><rect x="739.5" y="407.4" width="70" height="30"/><rect x="748.5" y="407.4" width="70" height="28.4"/><rect x="756.5" y="407.4" width="71" height="46.3"/><rect x="765.5" y="407.4" width="70" height="29"/><rect x="774.5" y="407.4" width="70" height="29"/><rect x="783.5" y="407.4" width="70" height="28"/><rect x="792.5" y="407.4" width="70" height="5.7"/><rect x="800.5" y="407.4" width="70" height="28.8"/><rect x="809.5" y="407.4" width="70" height="5.4"/><rect x="818.5" y="407.4" width="70" height="5.4"/><rect x="827.5" y="407.4" width="70" height="26.7"/><rect x="835.5" y="407.4" width="71" height="10.7"/><rect x="844.5" y="407.4" width="70" height="9.9"/><rect x="853.5" y="407.4" width="70" height="20.5"/><rect x="862.5" y="407.4" width="70" height="34.8"/><rect x="870.5" y="407.4" width="71" height="9.7"/><rect x="888.5" y="407.4" width="70" height="4.8"/><rect x="897.5" y="407.4" width="70" height="4.8"/><rect x="906.5" y="407.4" width="70" height="9.4"/><rect x="914.5" y="407.4" width="71" height="4.5"/><rect x="932.5" y="407.4" width="70" height="4.7"/><rect x="949.5" y="407.4" width="71" height="4.6"/><rect x="958.5" y="407.4" width="70" height="4.6"/><rect x="967.5" y="407.4" width="70" height="8.8"/><rect x="976.5" y="407.4" width="70" height="4.3"/><rect x="985.5" y="407.4" width="70" height="8.5"/><rect x="993.5" y="407.4" width="70" height="13.1"/><rect x="1002.5" y="407.4" width="70" height="4.3"/><rect x="1011.5" y="407.4" width="70" height="4.2"/><rect x="1028.5" y="407.4" width="71" height="12.2"/><rect x="1055.5" y="407.4" width="70" height="4"/><rect x="1116.5" y="407.4" width="70" height="3.7"/><rect x="1151.5" y="407.4" width="70" height="3.6"/><rect x="1178.5" y="407.4" width="70" height="3.5"/><rect x="1195.5" y="407.4" width="70" height="3.4"/><rect x="1274.5" y="407.4" width="70" height="3.2"/><rect x="1292.5" y="407.4" width="70" height="3.2"/><rect x="1335.5" y="407.4" width="71" height="6.2"/><rect x="1344.5" y="407.4" width="70" height="3.1"/><rect x="1379.5" y="407.4" width="70" height="3"/><rect x="1388.5" y="407.4" width="70" height="2.9"/><rect x="1528.5" y="407.4" width="71" height="2.7"/></g>
<g fill="#ffa500" fill-opacity=".6" stroke="#000" stroke-opacity=".6"><rect x="195.5" y="390.5" width="70" height="16.9"/><rect x="204.5" y="399.5" width="70" height="7.9"/><rect x="213.5" y="390.5" width="70" height="16.9"/><rect x="221.5" y="350.5" width="71" height="56.9"/><rect x="230.5" y="390.5" width="70" height="16.9"/><rect x="239.5" y="333.5" width="70" height="73.9"/><rect x="248.5" y="317.5" width="70" height="89.9"/><rect x="256.5" y="317.5" width="71" height="89.9"/><rect x="265.5" y="366.5" width="70" height="40.9"/><rect x="274.5" y="317.5" width="70" height="89.9"/><rect x="283.5" y="300.5" width="70" height="106.9"/><rect x="292.5" y="309.5" width="70" height="97.9"/><rect x="300.5" y="276.5" width="70" height="130.9"/><rect x="309.5" y="366.5" width="70" height="40.9"/><rect x="318.5" y="219.5" width="70" height="187.9"/><rect x="327.5" y="219.5" width="70" height="187.9"/><rect x="335.5" y="325.5" width="71" height="81.9"/><rect x="344.5" y="268.5" width="70" height="138.9"/><rect x="353.5" y="194.5" width="70" height="212.9"/><rect x="362.5" y="260.5" width="70" height="146.9"/><rect x="370.5" y="276.5" width="71" height="130.9"/><rect x="379.5" y="243.5" width="70" height="163.9"/><rect x="388.5" y="170.5" width="70" height="236.9"/><rect x="397.5" y="317.5" width="70" height="89.9"/><rect x="406.5" y="309.5" width="70" height="97.9"/><rect x="414.5" y="227.5" width="71" height="179.9"/><rect x="423.5" y="251.5" width="70" height="155.9"/><rect x="432.5" y="210.5" width="70" height="196.9"/><rect x="441.5" y="153.5" width="70" height="253.9"/><rect x="449.5" y="202.5" width="71" height="204.9"/><rect x="458.5" y="268.5" width="70" height="138.9"/><rect x="467.5" y="235.5" width="70" height="171.9"/><rect x="476.5" y="202.5" width="70" height="204.9"/><rect x="485.5" y="202.5" width="70" height="204.9"/><rect x="493.5" y="251.5" width="70" height="155.9"/><rect x="502.5" y="202.5" width="70" height="204.9"/><rect x="511.5" y="129.5" width="70" height="277.9"/><rect x="520.5" y="112.5" width="70" height="294.9"/><rect x="528.5" y="227.5" width="71" height="179.9"/><rect x="537.5" y="276.5" width="70" height="130.9"/><rect x="546.5" y="350.5" width="70" height="56.9"/><rect x="555.5" y="235.5" width="70" height="171.9"/><rect x="563.5" y="276.5" width="71" height="130.9"/><rect x="572.5" y="292.5" width="70" height="114.9"/><rect x="581.5" y="227.5" width="70" height="179.9"/><rect x="590.5" y="235.5" width="70" height="171.9"/><rect x="599.5" y="251.5" width="70" height="155.9"/><rect x="607.5" y="309.5" width="70" height="97.9"/><rect x="616.5" y="251.5" width="70" height="155.9"/><rect x="625.5" y="325.5" width="70" height="81.9"/><rect x="634.5" y="235.5" width="70" height="171.9"/><rect x="642.5" y="276.5" width="71" height="130.9"/><rect x="651.5" y="333.5" width="70" height="73.9"/><rect x="660.5" y="300.5" width="70" height="106.9"/><rect x="669.5" y="325.5" width="70" height="81.9"/><rect x="677.5" y="292.5" width="71" height="114.9"/><rect x="686.5" y="309.5" width="70" height="97.9"/><rect x="695.5" y="309.5" width="70" height="97.9"/><rect x="704.5" y="325.5" width="70" height="81.9"/><rect x="713.5" y="268.5" width="70" height="138.9"/><rect x="721.5" y="333.5" width="71" height="73.9"/><rect x="730.5" y="300.5" width="70" height="106.9"/><rect x="739.5" y="309.5" width="70" height="97.9"/><rect x="748.5" y="399.5" width="70" height="7.9"/><rect x="756.5" y="333.5" width="71" height="73.9"/><rect x="765.5" y="309.5" width="70" height="97.9"/><rect x="774.5" y="333.5" width="70" height="73.9"/><rect x="783.5" y="333.5" width="70" height="73.9"/><rect x="792.5" y="317.5" width="70" height="89.9"/><rect x="800.5" y="268.5" width="70" height="138.9"/><rect x="809.5" y="350.5" width="70" height="56.9"/><rect x="818.5" y="358.5" width="70" height="48.9"/><rect x="827.5" y="341.5" width="70" height="65.9"/><rect x="835.5" y="374.5" width="71" height="32.9"/><rect x="844.5" y="358.5" width="70" height="48.9"/><rect x="853.5" y="358.5" width="70" height="48.9"/><rect x="862.5" y="350.5" width="70" height="56.9"/><rect x="870.5" y="341.5" width="71" height="65.9"/><rect x="879.5" y="358.5" width="70" height="48.9"/><rect x="888.5" y="366.5" width="70" height="40.9"/><rect x="897.5" y="374.5" width="70" height="32.9"/><rect x="906.5" y="366.5" width="70" height="40.9"/><rect x="914.5" y="358.5" width="71" height="48.9"/><rect x="923.5" y="366.5" width="70" height="40.9"/><rect x="932.5" y="399.5" width="70" height="7.9"/><rect x="941.5" y="366.5" width="70" height="40.9"/><rect x="949.5" y="390.5" width="71" height="16.9"/><rect x="967.5" y="382.5" width="70" height="24.9"/><rect x="976.5" y="390.5" width="70" height="16.9"/><rect x="985.5" y="382.5" width="70" height="24.9"/><rect x="993.5" y="390.5" width="70" height="16.9"/><rect x="1002.5" y="382.5" width="70" height="24.9"/><rect x="1011.5" y="382.5" width="70" height="24.9"/><rect x="1020.5" y="390.5" width="70" height="16.9"/><rect x="1028.5" y="390.5" width="71" height="16.9"/><rect x="1037.5" y="390.5" width="70" height="16.9"/><rect x="1046.5" y="382.5" width="70" height="24.9"/><rect x="1055.5" y="399.5" width="70" height="7.9"/><rect x="1063.5" y="399.5" width="71" height="7.9"/><rect x="1072.5" y="399.5" width="70" height="7.9"/><rect x="1081.5" y="390.5" width="70" height="16.9"/><rect x="1090.5" y="399.5" width="70" height="7.9"/><rect x="1099.5" y="399.5" width="70" height="7.9"/><rect x="1107.5" y="390.5" width="71" height="16.9"/><rect x="1116.5" y="390.5" width="70" height="16.9"/><rect x="1125.5" y="366.5" width="70" height="40.9"/><rect x="1142.5" y="399.5" width="71" height="7.9"/><rect x="1151.5" y="399.5" width="70" height="7.9"/><rect x="1160.5" y="399.5" width="70" height="7.9"/><rect x="1178.5" y="390.5" width="70" height="16.9"/><rect x="1186.5" y="399.5" width="70" height="7.9"/><rect x="1213.5" y="390.5" width="70" height="16.9"/><rect x="1283.5" y="399.5" width="70" height="7.9"/></g>
<g fill="#87ceeb" fill-opacity=".6" stroke="#000" stroke-opacity=".6"><rect x="239.5" y="407.4" width="70" height="8.1"/><rect x="256.5" y="407.4" width="71" height="16.1"/><rect x="265.5" y="407.4" width="70" height="8.1"/><rect x="274.5" y="407.4" width="70" height="16.1"/><rect x="283.5" y="407.4" width="70" height="24.1"/><rect x="292.5" y="407.4" width="70" height="24.1"/><rect x="309.5" y="407.4" width="70" height="16.1"/><rect x="318.5" y="407.4" width="70" height="16.1"/><rect x="327.5" y="407.4" width="70" height="16.1"/><rect x="335.5" y="407.4" width="71" height="49.1"/><rect x="344.5" y="407.4" width="70" height="49.1"/><rect x="353.5" y="407.4" width="70" height="24.1"/><rect x="362.5" y="407.4" width="70" height="57.1"/><rect x="370.5" y="407.4" width="71" height="33.1"/><rect x="379.5" y="407.4" width="70" height="57.1"/><rect x="388.5" y="407.4" width="70" height="33.1"/><rect x="397.5" y="407.4" width="70" height="8.1"/><rect x="406.5" y="407.4" width="70" height="73.1"/><rect x="414.5" y="407.4" width="71" height="24.1"/><rect x="423.5" y="407.4" width="70" height="8.1"/><rect x="432.5" y="407.4" width="70" height="49.1"/><rect x="441.5" y="407.4" width="70" height="8.1"/><rect x="449.5" y="407.4" width="71" height="41.1"/><rect x="458.5" y="407.4" width="70" height="73.1"/><rect x="467.5" y="407.4" width="70" height="41.1"/><rect x="476.5" y="407.4" width="70" height="24.1"/><rect x="493.5" y="407.4" width="70" height="8.1"/><rect x="502.5" y="407.4" width="70" height="57.1"/><rect x="511.5" y="407.4" width="70" height="98.1"/><rect x="520.5" y="407.4" width="70" height="73.1"/><rect x="528.5" y="407.4" width="71" height="24.1"/><rect x="537.5" y="407.4" width="70" height="16.1"/><rect x="546.5" y="407.4" width="70" height="24.1"/><rect x="555.5" y="407.4" width="70" height="33.1"/><rect x="563.5" y="407.4" width="71" height="41.1"/><rect x="572.5" y="407.4" width="70" height="73.1"/><rect x="581.5" y="407.4" width="70" height="65.1"/><rect x="590.5" y="407.4" width="70" height="33.1"/><rect x="599.5" y="407.4" width="70" height="24.1"/><rect x="607.5" y="407.4" width="70" height="65.1"/><rect x="616.5" y="407.4" width="70" height="82.1"/><rect x="625.5" y="407.4" width="70" height="73.1"/><rect x="634.5" y="407.4" width="70" height="24.1"/><rect x="642.5" y="407.4" width="71" height="65.1"/><rect x="651.5" y="407.4" width="70" height="90.1"/><rect x="660.5" y="407.4" width="70" height="8.1"/><rect x="669.5" y="407.4" width="70" height="57.1"/><rect x="677.5" y="407.4" width="71" height="33.1"/><rect x="686.5" y="407.4" width="70" height="57.1"/><rect x="695.5" y="407.4" width="70" height="49.1"/><rect x="704.5" y="407.4" width="70" height="8.1"/><rect x="713.5" y="407.4" width="70" height="16.1"/><rect x="721.5" y="407.4" width="71" height="82.1"/><rect x="730.5" y="407.4" width="70" height="57.1"/><rect x="739.5" y="407.4" width="70" height="73.1"/><rect x="748.5" y="407.4" width="70" height="41.1"/><rect x="765.5" y="407.4" width="70" height="24.1"/><rect x="783.5" y="407.4" width="70" height="49.1"/><rect x="792.5" y="407.4" width="70" height="41.1"/><rect x="800.5" y="407.4" width="70" height="33.1"/><rect x="809.5" y="407.4" width="70" height="24.1"/><rect x="818.5" y="407.4" width="70" height="41.1"/><rect x="827.5" y="407.4" width="70" height="33.1"/><rect x="835.5" y="407.4" width="71" height="33.1"/><rect x="844.5" y="407.4" width="70" height="8.1"/><rect x="853.5" y="407.4" width="70" height="8.1"/><rect x="862.5" y="407.4" width="70" height="8.1"/><rect x="870.5" y="407.4" width="71" height="16.1"/><rect x="879.5" y="407.4" width="70" height="8.1"/><rect x="888.5" y="407.4" width="70" height="24.1"/><rect x="897.5" y="407.4" width="70" height="24.1"/><rect x="906.5" y="407.4" width="70" height="24.1"/><rect x="914.5" y="407.4" width="71" height="8.1"/><rect x="923.5" y="407.4" width="70" height="16.1"/><rect x="932.5" y="407.4" width="70" height="41.1"/><rect x="941.5" y="407.4" width="70" height="24.1"/><rect x="958.5" y="407.4" width="70" height="16.1"/><rect x="967.5" y="407.4" width="70" height="16.1"/><rect x="976.5" y="407.4" width="70" height="8.1"/><rect x="985.5" y="407.4" width="70" height="33.1"/><rect x="1002.5" y="407.4" width="70" height="8.1"/><rect x="1011.5" y="407.4" width="70" height="24.1"/><rect x="1020.5" y="407.4" width="70" height="16.1"/><rect x="1037.5" y="407.4" width="70" height="8.1"/><rect x="1055.5" y="407.4" width="70" height="8.1"/><rect x="1063.5" y="407.4" width="71" height="24.1"/><rect x="1072.5" y="407.4" width="70" height="8.1"/><rect x="1090.5" y="407.4" width="70" height="8.1"/><rect x="1107.5" y="407.4" width="71" height="24.1"/><rect x="1116.5" y="407.4" width="70" height="16.1"/><rect x="1142.5" y="407.4" width="71" height="16.1"/><rect x="1151.5" y="407.4" width="70" height="8.1"/><rect x="1169.5" y="407.4" width="70" height="16.1"/><rect x="1178.5" y="407.4" width="70" height="16.1"/><rect x="1195.5" y="407.4" width="70" height="8.1"/><rect x="1213.5" y="407.4" width="70" height="8.1"/><rect x="1221.5" y="407.4" width="71" height="8.1"/><rect x="1239.5" y="407.4" width="70" height="8.1"/><rect x="1248.5" y="407.4" width="70" height="33.1"/><rect x="1256.5" y="407.4" width="71" height="8.1"/><rect x="1283.5" y="407.4" width="70" height="8.1"/><rect x="1300.5" y="407.4" width="70" height="8.1"/><rect x="1318.5" y="407.4" width="70" height="8.1"/></g>
<g fill="#808080" fill-opacity=".1" stroke="#000" stroke-opacity=".1"><rect x="195.5" y="394.3" width="70" height="13"/><rect x="204.5" y="401" width="70" height="6.4"/><rect x="213.5" y="394.4" width="70" height="12.9"/><rect x="221.5" y="362.2" width="71" height="45.1"/><rect x="230.5" y="394.3" width="70" height="13.1"/><rect x="239.5" y="346.8" width="70" height="60.5"/><rect x="248.5" y="334.1" width="70" height="73.2"/><rect x="256.5" y="333.8" width="71" height="73.5"/><rect x="265.5" y="374.2" width="70" height="33.1"/><rect x="274.5" y="334.4" width="70" height="73"/><rect x="283.5" y="318.6" width="70" height="88.8"/><rect x="292.5" y="324.6" width="70" height="82.8"/><rect x="300.5" y="299.6" width="70" height="107.8"/><rect x="309.5" y="373.2" width="70" height="34.1"/><rect x="318.5" y="249" width="70" height="158.4"/><rect x="327.5" y="248.8" width="70" height="158.6"/><rect x="335.5" y="336.8" width="71" height="70.6"/><rect x="344.5" y="290.2" width="70" height="117.2"/><rect x="353.5" y="221.1" width="70" height="186.2"/><rect x="362.5" y="276.8" width="70" height="130.5"/><rect x="370.5" y="295.6" width="71" height="111.8"/><rect x="379.5" y="263.6" width="70" height="143.7"/><rect x="388.5" y="198.2" width="70" height="209.2"/><rect x="397.5" y="328.7" width="70" height="78.7"/><rect x="406.5" y="317.2" width="70" height="90.2"/><rect x="414.5" y="242.1" width="71" height="165.2"/><rect x="423.5" y="268" width="70" height="139.3"/><rect x="432.5" y="229" width="70" height="178.4"/><rect x="441.5" y="175.5" width="70" height="231.8"/><rect x="449.5" y="215.5" width="71" height="191.9"/><rect x="458.5" y="276.4" width="70" height="130.9"/><rect x="467.5" y="246.6" width="70" height="160.7"/><rect x="476.5" y="218.7" width="70" height="188.7"/><rect x="485.5" y="219" width="70" height="188.4"/><rect x="493.5" y="259.8" width="70" height="147.5"/><rect x="502.5" y="210" width="70" height="197.4"/><rect x="511.5" y="136.1" width="70" height="271.2"/><rect x="520.5" y="115.6" width="70" height="291.7"/><rect x="528.5" y="231.9" width="71" height="175.4"/><rect x="537.5" y="279.1" width="70" height="128.3"/><rect x="546.5" y="349.8" width="70" height="57.6"/><rect x="555.5" y="236.8" width="70" height="170.6"/><rect x="563.5" y="274.6" width="71" height="132.7"/><rect x="572.5" y="295.9" width="70" height="111.4"/><rect x="581.5" y="221.2" width="70" height="186.1"/><rect x="590.5" y="230.9" width="70" height="176.4"/><rect x="599.5" y="246.5" width="70" height="160.9"/><rect x="607.5" y="304.2" width="70" height="103.2"/><rect x="616.5" y="244.9" width="70" height="162.5"/><rect x="625.5" y="323.3" width="70" height="84.1"/><rect x="634.5" y="226.7" width="70" height="180.7"/><rect x="642.5" y="264.3" width="71" height="143.1"/><rect x="651.5" y="328.5" width="70" height="78.9"/><rect x="660.5" y="292.3" width="70" height="115"/><rect x="669.5" y="318.9" width="70" height="88.5"/><rect x="677.5" y="282" width="71" height="125.4"/><rect x="686.5" y="299.8" width="70" height="107.5"/><rect x="695.5" y="299.8" width="70" height="107.6"/><rect x="704.5" y="315.6" width="70" height="91.8"/><rect x="713.5" y="251.7" width="70" height="155.7"/><rect x="721.5" y="324.9" width="71" height="82.5"/><rect x="730.5" y="283.2" width="70" height="124.2"/><rect x="739.5" y="294.1" width="70" height="113.2"/><rect x="748.5" y="397.8" width="70" height="9.6"/><rect x="756.5" y="318.7" width="71" height="88.6"/><rect x="765.5" y="288" width="70" height="119.3"/><rect x="774.5" y="320.1" width="70" height="87.3"/><rect x="783.5" y="318.1" width="70" height="89.2"/><rect x="792.5" y="298.1" width="70" height="109.2"/><rect x="800.5" y="237.3" width="70" height="170"/><rect x="809.5" y="336.4" width="70" height="71"/><rect x="818.5" y="346.8" width="70" height="60.6"/><rect x="827.5" y="326.1" width="70" height="81.2"/><rect x="835.5" y="365.9" width="71" height="41.4"/><rect x="844.5" y="344.4" width="70" height="62.9"/><rect x="853.5" y="343.6" width="70" height="63.8"/><rect x="862.5" y="333.1" width="70" height="74.2"/><rect x="870.5" y="320.3" width="71" height="87"/><rect x="879.5" y="342.9" width="70" height="64.5"/><rect x="888.5" y="353.1" width="70" height="54.2"/><rect x="897.5" y="362.8" width="70" height="44.5"/><rect x="906.5" y="352.5" width="70" height="54.9"/><rect x="914.5" y="339.5" width="71" height="67.8"/><rect x="923.5" y="350.1" width="70" height="57.2"/><rect x="932.5" y="396" width="70" height="11.3"/><rect x="941.5" y="350.2" width="70" height="57.1"/><rect x="949.5" y="384" width="71" height="23.3"/><rect x="967.5" y="372" width="70" height="35.4"/><rect x="976.5" y="383.5" width="70" height="23.8"/><rect x="985.5" y="371.9" width="70" height="35.5"/><rect x="993.5" y="382.8" width="70" height="24.5"/><rect x="1002.5" y="369.9" width="70" height="37.5"/><rect x="1011.5" y="369.4" width="70" height="37.9"/><rect x="1020.5" y="382.2" width="70" height="25.2"/><rect x="1028.5" y="381.7" width="71" height="25.7"/><rect x="1037.5" y="381" width="70" height="26.3"/><rect x="1046.5" y="367.9" width="70" height="39.5"/><rect x="1055.5" y="394.2" width="70" height="13.2"/><rect x="1063.5" y="394" width="71" height="13.3"/><rect x="1072.5" y="393.8" width="70" height="13.5"/><rect x="1081.5" y="380" width="70" height="27.3"/><rect x="1090.5" y="393.6" width="70" height="13.7"/><rect x="1099.5" y="393.2" width="70" height="14.1"/><rect x="1107.5" y="379.2" width="71" height="28.1"/><rect x="1116.5" y="378.6" width="70" height="28.8"/><rect x="1125.5" y="335.4" width="70" height="71.9"/><rect x="1142.5" y="392.6" width="71" height="14.8"/><rect x="1151.5" y="392.5" width="70" height="14.8"/><rect x="1160.5" y="392.4" width="70" height="15"/><rect x="1178.5" y="376.1" width="70" height="31.3"/><rect x="1186.5" y="391.4" width="70" height="15.9"/><rect x="1213.5" y="374.7" width="70" height="32.6"/><rect x="1283.5" y="389.1" width="70" height="18.3"/><rect x="239.5" y="407.4" width="70" height="31.3"/><rect x="256.5" y="407.4" width="71" height="55.4"/><rect x="265.5" y="407.4" width="70" height="24.9"/><rect x="274.5" y="407.4" width="70" height="45.6"/><rect x="283.5" y="407.4" width="70" height="67.9"/><rect x="292.5" y="407.4" width="70" height="64.7"/><rect x="309.5" y="407.4" width="70" height="39.6"/><rect x="318.5" y="407.4" width="70" height="38.5"/><rect x="327.5" y="407.4" width="70" height="36.4"/><rect x="335.5" y="407.4" width="71" height="100.1"/><rect x="344.5" y="407.4" width="70" height="99.8"/><rect x="353.5" y="407.4" width="70" height="48"/><rect x="362.5" y="407.4" width="70" height="106.7"/><rect x="370.5" y="407.4" width="71" height="59.1"/><rect x="379.5" y="407.4" width="70" height="99.5"/><rect x="388.5" y="407.4" width="70" height="56"/><rect x="397.5" y="407.4" width="70" height="13.1"/><rect x="406.5" y="407.4" width="70" height="111.1"/><rect x="414.5" y="407.4" width="71" height="37.6"/><rect x="423.5" y="407.4" width="70" height="12"/><rect x="432.5" y="407.4" width="70" height="70.7"/><rect x="441.5" y="407.4" width="70" height="11.7"/><rect x="449.5" y="407.4" width="71" height="54.9"/><rect x="458.5" y="407.4" width="70" height="98.5"/><rect x="467.5" y="407.4" width="70" height="52.1"/><rect x="476.5" y="407.4" width="70" height="30.6"/><rect x="493.5" y="407.4" width="70" height="9.7"/><rect x="502.5" y="407.4" width="70" height="68.4"/><rect x="511.5" y="407.4" width="70" height="113.5"/><rect x="520.5" y="407.4" width="70" height="83.1"/><rect x="528.5" y="407.4" width="71" height="27.1"/><rect x="537.5" y="407.4" width="70" height="17.6"/><rect x="546.5" y="407.4" width="70" height="26.5"/><rect x="555.5" y="407.4" width="70" height="34.8"/><rect x="563.5" y="407.4" width="71" height="42.3"/><rect x="572.5" y="407.4" width="70" height="75.5"/><rect x="581.5" y="407.4" width="70" height="64.3"/><rect x="590.5" y="407.4" width="70" height="32.3"/><rect x="599.5" y="407.4" width="70" height="23.6"/><rect x="607.5" y="407.4" width="70" height="61"/><rect x="616.5" y="407.4" width="70" height="76.5"/><rect x="625.5" y="407.4" width="70" height="65"/><rect x="634.5" y="407.4" width="70" height="21.3"/><rect x="642.5" y="407.4" width="71" height="55.5"/><rect x="651.5" y="407.4" width="70" height="77.4"/><rect x="660.5" y="407.4" width="70" height="6.7"/><rect x="669.5" y="407.4" width="70" height="48.2"/><rect x="677.5" y="407.4" width="71" height="26"/><rect x="686.5" y="407.4" width="70" height="45.6"/><rect x="695.5" y="407.4" width="70" height="38.7"/><rect x="704.5" y="407.4" width="70" height="6.4"/><rect x="713.5" y="407.4" width="70" height="12.4"/><rect x="721.5" y="407.4" width="71" height="62.5"/><rect x="730.5" y="407.4" width="70" height="43.3"/><rect x="739.5" y="407.4" width="70" height="54"/><rect x="748.5" y="407.4" width="70" height="28.6"/><rect x="765.5" y="407.4" width="70" height="17.2"/><rect x="783.5" y="407.4" width="70" height="33.8"/><rect x="792.5" y="407.4" width="70" height="26.6"/><rect x="800.5" y="407.4" width="70" height="22.2"/><rect x="809.5" y="407.4" width="70" height="15.8"/><rect x="818.5" y="407.4" width="70" height="26.9"/><rect x="827.5" y="407.4" width="70" height="21.1"/><rect x="835.5" y="407.4" width="71" height="20.5"/><rect x="844.5" y="407.4" width="70" height="5.2"/><rect x="853.5" y="407.4" width="70" height="5.1"/><rect x="862.5" y="407.4" width="70" height="5"/><rect x="870.5" y="407.4" width="71" height="9.9"/><rect x="879.5" y="407.4" width="70" height="4.9"/><rect x="888.5" y="407.4" width="70" height="14.4"/><rect x="897.5" y="407.4" width="70" height="14.1"/><rect x="906.5" y="407.4" width="70" height="14.2"/><rect x="914.5" y="407.4" width="71" height="4.5"/><rect x="923.5" y="407.4" width="70" height="9.1"/><rect x="932.5" y="407.4" width="70" height="22.9"/><rect x="941.5" y="407.4" width="70" height="13.8"/><rect x="958.5" y="407.4" width="70" height="9"/><rect x="967.5" y="407.4" width="70" height="8.8"/><rect x="976.5" y="407.4" width="70" height="4.3"/><rect x="985.5" y="407.4" width="70" height="17.4"/><rect x="1002.5" y="407.4" width="70" height="4.2"/><rect x="1011.5" y="407.4" width="70" height="12.5"/><rect x="1020.5" y="407.4" width="70" height="8.7"/><rect x="1037.5" y="407.4" width="70" height="4.1"/><rect x="1055.5" y="407.4" width="70" height="4"/><rect x="1063.5" y="407.4" width="71" height="11.7"/><rect x="1072.5" y="407.4" width="70" height="3.9"/><rect x="1090.5" y="407.4" width="70" height="3.8"/><rect x="1107.5" y="407.4" width="71" height="11.2"/><rect x="1116.5" y="407.4" width="70" height="7.6"/><rect x="1142.5" y="407.4" width="71" height="7.6"/><rect x="1151.5" y="407.4" width="70" height="3.6"/><rect x="1169.5" y="407.4" width="70" height="7.3"/><rect x="1178.5" y="407.4" width="70" height="7.2"/><rect x="1195.5" y="407.4" width="70" height="3.5"/><rect x="1213.5" y="407.4" width="70" height="3.4"/><rect x="1221.5" y="407.4" width="71" height="3.5"/><rect x="1239.5" y="407.4" width="70" height="3.3"/><rect x="1248.5" y="407.4" width="70" height="13.2"/><rect x="1256.5" y="407.4" width="71" height="3.3"/><rect x="1283.5" y="407.4" width="70" height="3.3"/><rect x="1300.5" y="407.4" width="70" height="3.3"/><rect x="1318.5" y="407.4" width="70" height="3"/></g>
<g fill="#ffa500" fill-opacity=".6" stroke="#000" stroke-opacity=".6"><rect x="169.5" y="399.5" width="70" height="7.9"/><rect x="204.5" y="382.5" width="70" height="24.9"/><rect x="221.5" y="358.5" width="71" height="48.9"/><rect x="230.5" y="350.5" width="70" height="56.9"/><rect x="248.5" y="366.5" width="70" height="40.9"/><rect x="256.5" y="317.5" width="71" height="89.9"/><rect x="265.5" y="358.5" width="70" height="48.9"/><rect x="274.5" y="341.5" width="70" height="65.9"/><rect x="283.5" y="350.5" width="70" height="56.9"/><rect x="292.5" y="309.5" width="70" height="97.9"/><rect x="300.5" y="292.5" width="70" height="114.9"/><rect x="309.5" y="292.5" width="70" height="114.9"/><rect x="318.5" y="292.5" width="70" height="114.9"/><rect x="327.5" y="292.5" width="70" height="114.9"/><rect x="335.5" y="276.5" width="71" height="130.9"/><rect x="344.5" y="260.5" width="70" height="146.9"/><rect x="353.5" y="243.5" width="70" height="163.9"/><rect x="362.5" y="358.5" width="70" height="48.9"/><rect x="370.5" y="276.5" width="71" height="130.9"/><rect x="379.5" y="309.5" width="70" height="97.9"/><rect x="388.5" y="292.5" width="70" height="114.9"/><rect x="397.5" y="210.5" width="70" height="196.9"/><rect x="406.5" y="325.5" width="70" height="81.9"/><rect x="414.5" y="219.5" width="71" height="187.9"/><rect x="423.5" y="284.5" width="70" height="122.9"/><rect x="432.5" y="276.5" width="70" height="130.9"/><rect x="441.5" y="202.5" width="70" height="204.9"/><rect x="449.5" y="227.5" width="71" height="179.9"/><rect x="458.5" y="260.5" width="70" height="146.9"/><rect x="467.5" y="260.5" width="70" height="146.9"/><rect x="476.5" y="276.5" width="70" height="130.9"/><rect x="485.5" y="309.5" width="70" height="97.9"/><rect x="493.5" y="325.5" width="70" height="81.9"/><rect x="502.5" y="300.5" width="70" height="106.9"/><rect x="511.5" y="251.5" width="70" height="155.9"/><rect x="520.5" y="186.5" width="70" height="220.9"/><rect x="528.5" y="227.5" width="71" height="179.9"/><rect x="537.5" y="235.5" width="70" height="171.9"/><rect x="546.5" y="300.5" width="70" height="106.9"/><rect x="555.5" y="194.5" width="70" height="212.9"/><rect x="563.5" y="268.5" width="71" height="138.9"/><rect x="572.5" y="243.5" width="70" height="163.9"/><rect x="581.5" y="227.5" width="70" height="179.9"/><rect x="590.5" y="268.5" width="70" height="138.9"/><rect x="599.5" y="202.5" width="70" height="204.9"/><rect x="607.5" y="210.5" width="70" height="196.9"/><rect x="616.5" y="260.5" width="70" height="146.9"/><rect x="625.5" y="243.5" width="70" height="163.9"/><rect x="634.5" y="284.5" width="70" height="122.9"/><rect x="642.5" y="309.5" width="71" height="97.9"/><rect x="651.5" y="292.5" width="70" height="114.9"/><rect x="660.5" y="251.5" width="70" height="155.9"/><rect x="669.5" y="317.5" width="70" height="89.9"/><rect x="677.5" y="276.5" width="71" height="130.9"/><rect x="686.5" y="300.5" width="70" height="106.9"/><rect x="695.5" y="300.5" width="70" height="106.9"/><rect x="704.5" y="292.5" width="70" height="114.9"/><rect x="713.5" y="309.5" width="70" height="97.9"/><rect x="721.5" y="341.5" width="71" height="65.9"/><rect x="730.5" y="300.5" width="70" height="106.9"/><rect x="739.5" y="292.5" width="70" height="114.9"/><rect x="748.5" y="350.5" width="70" height="56.9"/><rect x="756.5" y="292.5" width="71" height="114.9"/><rect x="765.5" y="350.5" width="70" height="56.9"/><rect x="774.5" y="300.5" width="70" height="106.9"/><rect x="783.5" y="317.5" width="70" height="89.9"/><rect x="792.5" y="317.5" width="70" height="89.9"/><rect x="800.5" y="317.5" width="70" height="89.9"/><rect x="809.5" y="350.5" width="70" height="56.9"/><rect x="818.5" y="374.5" width="70" height="32.9"/><rect x="827.5" y="350.5" width="70" height="56.9"/><rect x="835.5" y="350.5" width="71" height="56.9"/><rect x="844.5" y="358.5" width="70" height="48.9"/><rect x="853.5" y="374.5" width="70" height="32.9"/><rect x="862.5" y="350.5" width="70" height="56.9"/><rect x="870.5" y="350.5" width="71" height="56.9"/><rect x="879.5" y="350.5" width="70" height="56.9"/><rect x="888.5" y="374.5" width="70" height="32.9"/><rect x="897.5" y="382.5" width="70" height="24.9"/><rect x="906.5" y="366.5" width="70" height="40.9"/><rect x="923.5" y="366.5" width="70" height="40.9"/><rect x="932.5" y="366.5" width="70" height="40.9"/><rect x="941.5" y="390.5" width="70" height="16.9"/><rect x="949.5" y="374.5" width="71" height="32.9"/><rect x="958.5" y="390.5" width="70" height="16.9"/><rect x="967.5" y="390.5" width="70" height="16.9"/><rect x="976.5" y="390.5" width="70" height="16.9"/><rect x="985.5" y="382.5" width="70" height="24.9"/><rect x="993.5" y="382.5" width="70" height="24.9"/><rect x="1002.5" y="390.5" width="70" height="16.9"/><rect x="1011.5" y="382.5" width="70" height="24.9"/><rect x="1020.5" y="390.5" width="70" height="16.9"/><rect x="1028.5" y="390.5" width="71" height="16.9"/><rect x="1037.5" y="399.5" width="70" height="7.9"/><rect x="1046.5" y="390.5" width="70" height="16.9"/><rect x="1055.5" y="390.5" width="70" height="16.9"/><rect x="1063.5" y="390.5" width="71" height="16.9"/><rect x="1072.5" y="390.5" width="70" height="16.9"/><rect x="1081.5" y="399.5" width="70" height="7.9"/><rect x="1090.5" y="399.5" width="70" height="7.9"/><rect x="1099.5" y="399.5" width="70" height="7.9"/><rect x="1107.5" y="390.5" width="71" height="16.9"/><rect x="1116.5" y="399.5" width="70" height="7.9"/><rect x="1125.5" y="390.5" width="70" height="16.9"/><rect x="1142.5" y="390.5" width="71" height="16.9"/><rect x="1151.5" y="399.5" width="70" height="7.9"/><rect x="1169.5" y="399.5" width="70" height="7.9"/><rect x="1178.5" y="399.5" width="70" height="7.9"/><rect x="1186.5" y="390.5" width="70" height="16.9"/><rect x="1230.5" y="399.5" width="70" height="7.9"/><rect x="1292.5" y="399.5" width="70" height="7.9"/></g>
<g fill="#87ceeb" fill-opacity=".6" stroke="#000" stroke-opacity=".6"><rect x="204.5" y="407.4" width="70" height="16.1"/><rect x="239.5" y="407.4" width="70" height="8.1"/><rect x="248.5" y="407.4" width="70" height="8.1"/><rect x="265.5" y="407.4" width="70" height="8.1"/><rect x="274.5" y="407.4" width="70" height="16.1"/><rect x="283.5" y="407.4" width="70" height="24.1"/><rect x="292.5" y="407.4" width="70" height="24.1"/><rect x="309.5" y="407.4" width="70" height="16.1"/><rect x="318.5" y="407.4" width="70" height="16.1"/><rect x="335.5" y="407.4" width="71" height="49.1"/><rect x="344.5" y="407.4" width="70" height="33.1"/><rect x="353.5" y="407.4" width="70" height="16.1"/><rect x="362.5" y="407.4" width="70" height="24.1"/><rect x="370.5" y="407.4" width="71" height="49.1"/><rect x="379.5" y="407.4" width="70" height="16.1"/><rect x="388.5" y="407.4" width="70" height="49.1"/><rect x="397.5" y="407.4" width="70" height="49.1"/><rect x="406.5" y="407.4" width="70" height="16.1"/><rect x="414.5" y="407.4" width="71" height="49.1"/><rect x="423.5" y="407.4" width="70" height="41.1"/><rect x="432.5" y="407.4" width="70" height="41.1"/><rect x="441.5" y="407.4" width="70" height="49.1"/><rect x="449.5" y="407.4" width="71" height="90.1"/><rect x="467.5" y="407.4" width="70" height="8.1"/><rect x="476.5" y="407.4" width="70" height="73.1"/><rect x="485.5" y="407.4" width="70" height="33.1"/><rect x="493.5" y="407.4" width="70" height="57.1"/><rect x="502.5" y="407.4" width="70" height="82.1"/><rect x="511.5" y="407.4" width="70" height="49.1"/><rect x="520.5" y="407.4" width="70" height="16.1"/><rect x="537.5" y="407.4" width="70" height="8.1"/><rect x="546.5" y="407.4" width="70" height="82.1"/><rect x="555.5" y="407.4" width="70" height="49.1"/><rect x="563.5" y="407.4" width="71" height="41.1"/><rect x="572.5" y="407.4" width="70" height="73.1"/><rect x="581.5" y="407.4" width="70" height="49.1"/><rect x="590.5" y="407.4" width="70" height="82.1"/><rect x="599.5" y="407.4" width="70" height="16.1"/><rect x="607.5" y="407.4" width="70" height="16.1"/><rect x="616.5" y="407.4" width="70" height="98.1"/><rect x="625.5" y="407.4" width="70" height="24.1"/><rect x="634.5" y="407.4" width="70" height="24.1"/><rect x="642.5" y="407.4" width="71" height="65.1"/><rect x="651.5" y="407.4" width="70" height="16.1"/><rect x="660.5" y="407.4" width="70" height="41.1"/><rect x="669.5" y="407.4" width="70" height="82.1"/><rect x="677.5" y="407.4" width="71" height="24.1"/><rect x="686.5" y="407.4" width="70" height="41.1"/><rect x="695.5" y="407.4" width="70" height="49.1"/><rect x="704.5" y="407.4" width="70" height="24.1"/><rect x="713.5" y="407.4" width="70" height="33.1"/><rect x="721.5" y="407.4" width="71" height="73.1"/><rect x="730.5" y="407.4" width="70" height="57.1"/><rect x="739.5" y="407.4" width="70" height="41.1"/><rect x="748.5" y="407.4" width="70" height="65.1"/><rect x="756.5" y="407.4" width="71" height="33.1"/><rect x="774.5" y="407.4" width="70" height="8.1"/><rect x="783.5" y="407.4" width="70" height="24.1"/><rect x="792.5" y="407.4" width="70" height="33.1"/><rect x="800.5" y="407.4" width="70" height="24.1"/><rect x="809.5" y="407.4" width="70" height="16.1"/><rect x="818.5" y="407.4" width="70" height="16.1"/><rect x="835.5" y="407.4" width="71" height="16.1"/><rect x="844.5" y="407.4" width="70" height="16.1"/><rect x="853.5" y="407.4" width="70" height="16.1"/><rect x="862.5" y="407.4" width="70" height="24.1"/><rect x="879.5" y="407.4" width="70" height="41.1"/><rect x="888.5" y="407.4" width="70" height="41.1"/><rect x="897.5" y="407.4" width="70" height="24.1"/><rect x="906.5" y="407.4" width="70" height="24.1"/><rect x="914.5" y="407.4" width="71" height="16.1"/><rect x="923.5" y="407.4" width="70" height="24.1"/><rect x="949.5" y="407.4" width="71" height="41.1"/><rect x="958.5" y="407.4" width="70" height="24.1"/><rect x="967.5" y="407.4" width="70" height="24.1"/><rect x="985.5" y="407.4" width="70" height="33.1"/><rect x="993.5" y="407.4" width="70" height="16.1"/><rect x="1002.5" y="407.4" width="70" height="33.1"/><rect x="1011.5" y="407.4" width="70" height="8.1"/><rect x="1020.5" y="407.4" width="70" height="16.1"/><rect x="1055.5" y="407.4" width="70" height="8.1"/><rect x="1063.5" y="407.4" width="71" height="24.1"/><rect x="1072.5" y="407.4" width="70" height="16.1"/><rect x="1125.5" y="407.4" width="70" height="24.1"/><rect x="1142.5" y="407.4" width="71" height="8.1"/><rect x="1151.5" y="407.4" width="70" height="16.1"/><rect x="1160.5" y="407.4" width="70" height="16.1"/><rect x="1221.5" y="407.4" width="71" height="16.1"/><rect x="1230.5" y="407.4" width="70" height="8.1"/><rect x="1265.5" y="407.4" width="70" height="8.1"/><rect x="1300.5" y="407.4" width="70" height="8.1"/><rect x="1309.5" y="407.4" width="70" height="8.1"/><rect x="1344.5" y="407.4" width="70" height="8.1"/><rect x="1362.5" y="407.4" width="70" height="8.1"/><rect x="1388.5" y="407.4" width="70" height="8.1"/></g>
<g fill="#808080" fill-opacity=".1" stroke="#000" stroke-opacity=".1"><rect x="169.5" y="401.1" width="70" height="6.3"/><rect x="204.5" y="388.1" width="70" height="19.2"/><rect x="221.5" y="368.5" width="71" height="38.9"/><rect x="230.5" y="361.8" width="70" height="45.5"/><rect x="248.5" y="375.1" width="70" height="32.2"/><rect x="256.5" y="335.3" width="71" height="72"/><rect x="265.5" y="367.7" width="70" height="39.7"/><rect x="274.5" y="353.2" width="70" height="54.2"/><rect x="283.5" y="359.4" width="70" height="47.9"/><rect x="292.5" y="329.3" width="70" height="78"/><rect x="300.5" y="311.8" width="70" height="95.5"/><rect x="309.5" y="311.7" width="70" height="95.6"/><rect x="318.5" y="310.8" width="70" height="96.6"/><rect x="327.5" y="310.4" width="70" height="96.9"/><rect x="335.5" y="297.3" width="71" height="110.1"/><rect x="344.5" y="286.2" width="70" height="121.2"/><rect x="353.5" y="265.7" width="70" height="141.7"/><rect x="362.5" y="364.9" width="70" height="42.4"/><rect x="370.5" y="292.2" width="71" height="115.1"/><rect x="379.5" y="320.8" width="70" height="86.6"/><rect x="388.5" y="306.8" width="70" height="100.5"/><rect x="397.5" y="231.6" width="70" height="175.8"/><rect x="406.5" y="334.6" width="70" height="72.7"/><rect x="414.5" y="238.5" width="71" height="168.9"/><rect x="423.5" y="297.8" width="70" height="109.5"/><rect x="432.5" y="287.9" width="70" height="119.4"/><rect x="441.5" y="219.5" width="70" height="187.8"/><rect x="449.5" y="243.4" width="71" height="164"/><rect x="458.5" y="271" width="70" height="136.4"/><rect x="467.5" y="266.8" width="70" height="140.5"/><rect x="476.5" y="285.4" width="70" height="121.9"/><rect x="485.5" y="316.4" width="70" height="91"/><rect x="493.5" y="328" width="70" height="79.3"/><rect x="502.5" y="302.7" width="70" height="104.7"/><rect x="511.5" y="257.4" width="70" height="150"/><rect x="520.5" y="193.6" width="70" height="213.8"/><rect x="528.5" y="230.2" width="71" height="177.2"/><rect x="537.5" y="239.6" width="70" height="167.7"/><rect x="546.5" y="301" width="70" height="106.3"/><rect x="555.5" y="196.7" width="70" height="210.7"/><rect x="563.5" y="272.9" width="71" height="134.5"/><rect x="572.5" y="243.5" width="70" height="163.9"/><rect x="581.5" y="224.1" width="70" height="183.3"/><rect x="590.5" y="261.5" width="70" height="145.9"/><rect x="599.5" y="197.5" width="70" height="209.9"/><rect x="607.5" y="206.1" width="70" height="201.2"/><rect x="616.5" y="253.7" width="70" height="153.7"/><rect x="625.5" y="235.9" width="70" height="171.5"/><rect x="634.5" y="278.7" width="70" height="128.7"/><rect x="642.5" y="300.9" width="71" height="106.4"/><rect x="651.5" y="283.7" width="70" height="123.6"/><rect x="660.5" y="241.4" width="70" height="166"/><rect x="669.5" y="309.2" width="70" height="98.1"/><rect x="677.5" y="262" width="71" height="145.3"/><rect x="686.5" y="292.4" width="70" height="114.9"/><rect x="695.5" y="291.8" width="70" height="115.5"/><rect x="704.5" y="279.4" width="70" height="127.9"/><rect x="713.5" y="297.4" width="70" height="110"/><rect x="721.5" y="334" width="71" height="73.4"/><rect x="730.5" y="286.3" width="70" height="121.1"/><rect x="739.5" y="277.7" width="70" height="129.7"/><rect x="748.5" y="338.8" width="70" height="68.5"/><rect x="756.5" y="272.4" width="71" height="135"/><rect x="765.5" y="339" width="70" height="68.4"/><rect x="774.5" y="281.7" width="70" height="125.7"/><rect x="783.5" y="298.3" width="70" height="109.1"/><rect x="792.5" y="302.5" width="70" height="104.9"/><rect x="800.5" y="298.5" width="70" height="108.8"/><rect x="809.5" y="336.4" width="70" height="70.9"/><rect x="818.5" y="367.1" width="70" height="40.3"/><rect x="827.5" y="335.6" width="70" height="71.7"/><rect x="835.5" y="337.2" width="71" height="70.1"/><rect x="844.5" y="345" width="70" height="62.3"/><rect x="853.5" y="365.1" width="70" height="42.3"/><rect x="862.5" y="332.5" width="70" height="74.9"/><rect x="870.5" y="332.5" width="71" height="74.8"/><rect x="879.5" y="332.5" width="70" height="74.8"/><rect x="888.5" y="362.9" width="70" height="44.4"/><rect x="897.5" y="374.8" width="70" height="32.5"/><rect x="906.5" y="352.4" width="70" height="55"/><rect x="923.5" y="350.7" width="70" height="56.7"/><rect x="932.5" y="349.9" width="70" height="57.5"/><rect x="941.5" y="384.6" width="70" height="22.8"/><rect x="949.5" y="360.5" width="71" height="46.9"/><rect x="958.5" y="383.7" width="70" height="23.6"/><rect x="967.5" y="384.1" width="70" height="23.3"/><rect x="976.5" y="383.2" width="70" height="24.1"/><rect x="985.5" y="371.6" width="70" height="35.8"/><rect x="993.5" y="370" width="70" height="37.4"/><rect x="1002.5" y="382.1" width="70" height="25.3"/><rect x="1011.5" y="370.7" width="70" height="36.7"/><rect x="1020.5" y="383" width="70" height="24.4"/><rect x="1028.5" y="382.2" width="71" height="25.1"/><rect x="1037.5" y="394.6" width="70" height="12.8"/><rect x="1046.5" y="381.4" width="70" height="25.9"/><rect x="1055.5" y="381.2" width="70" height="26.1"/><rect x="1063.5" y="380.3" width="71" height="27.1"/><rect x="1072.5" y="380.4" width="70" height="27"/><rect x="1081.5" y="393.7" width="70" height="13.7"/><rect x="1090.5" y="394" width="70" height="13.3"/><rect x="1099.5" y="393.4" width="70" height="14"/><rect x="1107.5" y="379.4" width="71" height="27.9"/><rect x="1116.5" y="393.1" width="70" height="14.2"/><rect x="1125.5" y="378.6" width="70" height="28.7"/><rect x="1142.5" y="378.5" width="71" height="28.9"/><rect x="1151.5" y="392.3" width="70" height="15"/><rect x="1169.5" y="392" width="70" height="15.4"/><rect x="1178.5" y="391.9" width="70" height="15.5"/><rect x="1186.5" y="375.3" width="70" height="32"/><rect x="1230.5" y="390.6" width="70" height="16.8"/><rect x="1292.5" y="388.8" width="70" height="18.6"/><rect x="204.5" y="407.4" width="70" height="86.8"/><rect x="239.5" y="407.4" width="70" height="30.9"/><rect x="248.5" y="407.4" width="70" height="28.7"/><rect x="265.5" y="407.4" width="70" height="25.7"/><rect x="274.5" y="407.4" width="70" height="48"/><rect x="283.5" y="407.4" width="70" height="70.2"/><rect x="292.5" y="407.4" width="70" height="63.5"/><rect x="309.5" y="407.4" width="70" height="39.3"/><rect x="318.5" y="407.4" width="70" height="37.5"/><rect x="335.5" y="407.4" width="71" height="101.2"/><rect x="344.5" y="407.4" width="70" height="65.8"/><rect x="353.5" y="407.4" width="70" height="32"/><rect x="362.5" y="407.4" width="70" height="46.3"/><rect x="370.5" y="407.4" width="71" height="89.1"/><rect x="379.5" y="407.4" width="70" height="28.6"/><rect x="388.5" y="407.4" width="70" height="87.4"/><rect x="397.5" y="407.4" width="70" height="80.1"/><rect x="406.5" y="407.4" width="70" height="25.4"/><rect x="414.5" y="407.4" width="71" height="74.7"/><rect x="423.5" y="407.4" width="70" height="57.5"/><rect x="432.5" y="407.4" width="70" height="59.8"/><rect x="441.5" y="407.4" width="70" height="68.5"/><rect x="449.5" y="407.4" width="71" height="123"/><rect x="467.5" y="407.4" width="70" height="10.8"/><rect x="476.5" y="407.4" width="70" height="97.2"/><rect x="485.5" y="407.4" width="70" height="39.9"/><rect x="493.5" y="407.4" width="70" height="70.7"/><rect x="502.5" y="407.4" width="70" height="98"/><rect x="511.5" y="407.4" width="70" height="57.6"/><rect x="520.5" y="407.4" width="70" height="18.6"/><rect x="537.5" y="407.4" width="70" height="9.1"/><rect x="546.5" y="407.4" width="70" height="86.3"/><rect x="555.5" y="407.4" width="70" height="48.5"/><rect x="563.5" y="407.4" width="71" height="42.2"/><rect x="572.5" y="407.4" width="70" height="73"/><rect x="581.5" y="407.4" width="70" height="49.5"/><rect x="590.5" y="407.4" width="70" height="78.1"/><rect x="599.5" y="407.4" width="70" height="15.6"/><rect x="607.5" y="407.4" width="70" height="14.5"/><rect x="616.5" y="407.4" width="70" height="90.3"/><rect x="625.5" y="407.4" width="70" height="22.1"/><rect x="634.5" y="407.4" width="70" height="22.2"/><rect x="642.5" y="407.4" width="71" height="57.3"/><rect x="651.5" y="407.4" width="70" height="14.1"/><rect x="660.5" y="407.4" width="70" height="34.6"/><rect x="669.5" y="407.4" width="70" height="65.1"/><rect x="677.5" y="407.4" width="71" height="20.4"/><rect x="686.5" y="407.4" width="70" height="32.9"/><rect x="695.5" y="407.4" width="70" height="39"/><rect x="704.5" y="407.4" width="70" height="19.3"/><rect x="713.5" y="407.4" width="70" height="24.8"/><rect x="721.5" y="407.4" width="71" height="55.4"/><rect x="730.5" y="407.4" width="70" height="42.7"/><rect x="739.5" y="407.4" width="70" height="30.3"/><rect x="748.5" y="407.4" width="70" height="48.6"/><rect x="756.5" y="407.4" width="71" height="23.5"/><rect x="774.5" y="407.4" width="70" height="5.6"/><rect x="783.5" y="407.4" width="70" height="17.5"/><rect x="792.5" y="407.4" width="70" height="22.7"/><rect x="800.5" y="407.4" width="70" height="16.7"/><rect x="809.5" y="407.4" width="70" height="10.6"/><rect x="818.5" y="407.4" width="70" height="10.8"/><rect x="835.5" y="407.4" width="71" height="10.3"/><rect x="844.5" y="407.4" width="70" height="10.2"/><rect x="853.5" y="407.4" width="70" height="9.9"/><rect x="862.5" y="407.4" width="70" height="15.1"/><rect x="879.5" y="407.4" width="70" height="24.2"/><rect x="888.5" y="407.4" width="70" height="24.7"/><rect x="897.5" y="407.4" width="70" height="14.4"/><rect x="906.5" y="407.4" width="70" height="14.2"/><rect x="914.5" y="407.4" width="71" height="9.4"/><rect x="923.5" y="407.4" width="70" height="14.1"/><rect x="949.5" y="407.4" width="71" height="22.2"/><rect x="958.5" y="407.4" width="70" height="12.6"/><rect x="967.5" y="407.4" width="70" height="12.4"/><rect x="985.5" y="407.4" width="70" height="17.3"/><rect x="993.5" y="407.4" width="70" height="8.5"/><rect x="1002.5" y="407.4" width="70" height="16.9"/><rect x="1011.5" y="407.4" width="70" height="4.1"/><rect x="1020.5" y="407.4" width="70" height="8.1"/><rect x="1055.5" y="407.4" width="70" height="4"/><rect x="1063.5" y="407.4" width="71" height="12"/><rect x="1072.5" y="407.4" width="70" height="7.6"/><rect x="1125.5" y="407.4" width="70" height="11.1"/><rect x="1142.5" y="407.4" width="71" height="3.6"/><rect x="1151.5" y="407.4" width="70" height="7.3"/><rect x="1160.5" y="407.4" width="70" height="7.2"/><rect x="1221.5" y="407.4" width="71" height="6.8"/><rect x="1230.5" y="407.4" width="70" height="3.3"/><rect x="1265.5" y="407.4" width="70" height="3.3"/><rect x="1300.5" y="407.4" width="70" height="3.2"/><rect x="1309.5" y="407.4" width="70" height="3.1"/><rect x="1344.5" y="407.4" width="70" height="3"/><rect x="1362.5" y="407.4" width="70" height="3"/><rect x="1388.5" y="407.4" width="70" height="3"/></g>
<g fill="#ffa500" fill-opacity=".6" stroke="#000" stroke-opacity=".6"><rect x="177.5" y="399.5" width="71" height="7.9"/><rect x="186.5" y="390.5" width="70" height="16.9"/><rect x="204.5" y="399.5" width="70" height="7.9"/><rect x="213.5" y="390.5" width="70" height="16.9"/><rect x="221.5" y="382.5" width="71" height="24.9"/><rect x="230.5" y="333.5" width="70" height="73.9"/><rect x="239.5" y="350.5" width="70" height="56.9"/><rect x="248.5" y="325.5" width="70" height="81.9"/><rect x="256.5" y="333.5" width="71" height="73.9"/><rect x="265.5" y="317.5" width="70" height="89.9"/><rect x="274.5" y="366.5" width="70" height="40.9"/><rect x="283.5" y="317.5" width="70" height="89.9"/><rect x="292.5" y="325.5" width="70" height="81.9"/><rect x="300.5" y="276.5" width="70" height="130.9"/><rect x="309.5" y="341.5" width="70" height="65.9"/><rect x="318.5" y="292.5" width="70" height="114.9"/><rect x="327.5" y="309.5" width="70" height="97.9"/><rect x="335.5" y="178.5" width="71" height="228.9"/><rect x="344.5" y="284.5" width="70" height="122.9"/><rect x="353.5" y="186.5" width="70" height="220.9"/><rect x="362.5" y="235.5" width="70" height="171.9"/><rect x="370.5" y="194.5" width="71" height="212.9"/><rect x="379.5" y="317.5" width="70" height="89.9"/><rect x="388.5" y="309.5" width="70" height="97.9"/><rect x="397.5" y="350.5" width="70" height="56.9"/><rect x="406.5" y="227.5" width="70" height="179.9"/><rect x="414.5" y="276.5" width="71" height="130.9"/><rect x="423.5" y="186.5" width="70" height="220.9"/><rect x="432.5" y="276.5" width="70" height="130.9"/><rect x="441.5" y="235.5" width="70" height="171.9"/><rect x="449.5" y="374.5" width="71" height="32.9"/><rect x="458.5" y="194.5" width="70" height="212.9"/><rect x="467.5" y="399.5" width="70" height="7.9"/><rect x="476.5" y="194.5" width="70" height="212.9"/><rect x="485.5" y="276.5" width="70" height="130.9"/><rect x="493.5" y="120.5" width="70" height="286.9"/><rect x="502.5" y="300.5" width="70" height="106.9"/><rect x="511.5" y="210.5" width="70" height="196.9"/><rect x="520.5" y="186.5" width="70" height="220.9"/><rect x="528.5" y="276.5" width="71" height="130.9"/><rect x="537.5" y="178.5" width="70" height="228.9"/><rect x="546.5" y="219.5" width="70" height="187.9"/><rect x="555.5" y="178.5" width="70" height="228.9"/><rect x="563.5" y="276.5" width="71" height="130.9"/><rect x="572.5" y="219.5" width="70" height="187.9"/><rect x="581.5" y="284.5" width="70" height="122.9"/><rect x="590.5" y="153.5" width="70" height="253.9"/><rect x="599.5" y="219.5" width="70" height="187.9"/><rect x="607.5" y="292.5" width="70" height="114.9"/><rect x="616.5" y="300.5" width="70" height="106.9"/><rect x="625.5" y="235.5" width="70" height="171.9"/><rect x="634.5" y="333.5" width="70" height="73.9"/><rect x="642.5" y="317.5" width="71" height="89.9"/><rect x="651.5" y="284.5" width="70" height="122.9"/><rect x="660.5" y="276.5" width="70" height="130.9"/><rect x="669.5" y="251.5" width="70" height="155.9"/><rect x="677.5" y="317.5" width="71" height="89.9"/><rect x="686.5" y="284.5" width="70" height="122.9"/><rect x="695.5" y="243.5" width="70" height="163.9"/><rect x="704.5" y="300.5" width="70" height="106.9"/><rect x="713.5" y="309.5" width="70" height="97.9"/><rect x="721.5" y="333.5" width="71" height="73.9"/><rect x="730.5" y="300.5" width="70" height="106.9"/><rect x="739.5" y="333.5" width="70" height="73.9"/><rect x="748.5" y="325.5" width="70" height="81.9"/><rect x="756.5" y="333.5" width="71" height="73.9"/><rect x="765.5" y="317.5" width="70" height="89.9"/><rect x="774.5" y="374.5" width="70" height="32.9"/><rect x="783.5" y="317.5" width="70" height="89.9"/><rect x="792.5" y="317.5" width="70" height="89.9"/><rect x="800.5" y="350.5" width="70" height="56.9"/><rect x="809.5" y="366.5" width="70" height="40.9"/><rect x="818.5" y="350.5" width="70" height="56.9"/><rect x="827.5" y="358.5" width="70" height="48.9"/><rect x="835.5" y="358.5" width="71" height="48.9"/><rect x="844.5" y="366.5" width="70" height="40.9"/><rect x="853.5" y="374.5" width="70" height="32.9"/><rect x="862.5" y="350.5" width="70" height="56.9"/><rect x="870.5" y="358.5" width="71" height="48.9"/><rect x="879.5" y="366.5" width="70" height="40.9"/><rect x="888.5" y="366.5" width="70" height="40.9"/><rect x="897.5" y="374.5" width="70" height="32.9"/><rect x="906.5" y="374.5" width="70" height="32.9"/><rect x="914.5" y="366.5" width="71" height="40.9"/><rect x="923.5" y="382.5" width="70" height="24.9"/><rect x="932.5" y="366.5" width="70" height="40.9"/><rect x="941.5" y="374.5" width="70" height="32.9"/><rect x="949.5" y="390.5" width="71" height="16.9"/><rect x="958.5" y="390.5" width="70" height="16.9"/><rect x="967.5" y="390.5" width="70" height="16.9"/><rect x="976.5" y="390.5" width="70" height="16.9"/><rect x="985.5" y="382.5" width="70" height="24.9"/><rect x="993.5" y="382.5" width="70" height="24.9"/><rect x="1011.5" y="358.5" width="70" height="48.9"/><rect x="1020.5" y="390.5" width="70" height="16.9"/><rect x="1028.5" y="374.5" width="71" height="32.9"/><rect x="1037.5" y="382.5" width="70" height="24.9"/><rect x="1046.5" y="399.5" width="70" height="7.9"/><rect x="1063.5" y="390.5" width="71" height="16.9"/><rect x="1072.5" y="390.5" width="70" height="16.9"/><rect x="1081.5" y="390.5" width="70" height="16.9"/><rect x="1090.5" y="399.5" width="70" height="7.9"/><rect x="1099.5" y="390.5" width="70" height="16.9"/><rect x="1107.5" y="399.5" width="71" height="7.9"/><rect x="1116.5" y="390.5" width="70" height="16.9"/><rect x="1125.5" y="399.5" width="70" height="7.9"/><rect x="1134.5" y="399.5" width="70" height="7.9"/><rect x="1142.5" y="399.5" width="71" height="7.9"/><rect x="1169.5" y="390.5" width="70" height="16.9"/><rect x="1178.5" y="390.5" width="70" height="16.9"/><rect x="1186.5" y="399.5" width="70" height="7.9"/><rect x="1221.5" y="390.5" width="71" height="16.9"/><rect x="1239.5" y="390.5" width="70" height="16.9"/><rect x="1256.5" y="399.5" width="71" height="7.9"/></g>
<g fill="#87ceeb" fill-opacity=".6" stroke="#000" stroke-opacity=".6"><rect x="239.5" y="407.4" width="70" height="16.1"/><rect x="256.5" y="407.4" width="71" height="8.1"/><rect x="274.5" y="407.4" width="70" height="8.1"/><rect x="292.5" y="407.4" width="70" height="16.1"/><rect x="300.5" y="407.4" width="70" height="8.1"/><rect x="309.5" y="407.4" width="70" height="16.1"/><rect x="318.5" y="407.4" width="70" height="16.1"/><rect x="327.5" y="407.4" width="70" height="24.1"/><rect x="335.5" y="407.4" width="71" height="49.1"/><rect x="344.5" y="407.4" width="70" height="24.1"/><rect x="353.5" y="407.4" width="70" height="41.1"/><rect x="362.5" y="407.4" width="70" height="8.1"/><rect x="370.5" y="407.4" width="71" height="24.1"/><rect x="379.5" y="407.4" width="70" height="24.1"/><rect x="388.5" y="407.4" width="70" height="82.1"/><rect x="397.5" y="407.4" width="70" height="73.1"/><rect x="406.5" y="407.4" width="70" height="73.1"/><rect x="414.5" y="407.4" width="71" height="16.1"/><rect x="423.5" y="407.4" width="70" height="49.1"/><rect x="432.5" y="407.4" width="70" height="8.1"/><rect x="441.5" y="407.4" width="70" height="65.1"/><rect x="449.5" y="407.4" width="71" height="8.1"/><rect x="458.5" y="407.4" width="70" height="41.1"/><rect x="467.5" y="407.4" width="70" height="41.1"/><rect x="476.5" y="407.4" width="70" height="33.1"/><rect x="485.5" y="407.4" width="70" height="65.1"/><rect x="493.5" y="407.4" width="70" height="24.1"/><rect x="502.5" y="407.4" width="70" height="41.1"/><rect x="511.5" y="407.4" width="70" height="16.1"/><rect x="520.5" y="407.4" width="70" height="24.1"/><rect x="528.5" y="407.4" width="71" height="65.1"/><rect x="537.5" y="407.4" width="70" height="8.1"/><rect x="546.5" y="407.4" width="70" height="57.1"/><rect x="555.5" y="407.4" width="70" height="41.1"/><rect x="563.5" y="407.4" width="71" height="65.1"/><rect x="572.5" y="407.4" width="70" height="49.1"/><rect x="581.5" y="407.4" width="70" height="65.1"/><rect x="590.5" y="407.4" width="70" height="8.1"/><rect x="599.5" y="407.4" width="70" height="33.1"/><rect x="607.5" y="407.4" width="70" height="49.1"/><rect x="616.5" y="407.4" width="70" height="49.1"/><rect x="625.5" y="407.4" width="70" height="82.1"/><rect x="634.5" y="407.4" width="70" height="73.1"/><rect x="642.5" y="407.4" width="71" height="82.1"/><rect x="651.5" y="407.4" width="70" height="73.1"/><rect x="660.5" y="407.4" width="70" height="41.1"/><rect x="669.5" y="407.4" width="70" height="65.1"/><rect x="677.5" y="407.4" width="71" height="8.1"/><rect x="686.5" y="407.4" width="70" height="82.1"/><rect x="695.5" y="407.4" width="70" height="49.1"/><rect x="704.5" y="407.4" width="70" height="73.1"/><rect x="713.5" y="407.4" width="70" height="65.1"/><rect x="721.5" y="407.4" width="71" height="33.1"/><rect x="730.5" y="407.4" width="70" height="73.1"/><rect x="739.5" y="407.4" width="70" height="73.1"/><rect x="748.5" y="407.4" width="70" height="41.1"/><rect x="756.5" y="407.4" width="71" height="73.1"/><rect x="765.5" y="407.4" width="70" height="8.1"/><rect x="774.5" y="407.4" width="70" height="41.1"/><rect x="783.5" y="407.4" width="70" height="33.1"/><rect x="792.5" y="407.4" width="70" height="33.1"/><rect x="800.5" y="407.4" width="70" height="16.1"/><rect x="835.5" y="407.4" width="71" height="33.1"/><rect x="844.5" y="407.4" width="70" height="8.1"/><rect x="853.5" y="407.4" width="70" height="57.1"/><rect x="862.5" y="407.4" width="70" height="41.1"/><rect x="879.5" y="407.4" width="70" height="16.1"/><rect x="888.5" y="407.4" width="70" height="24.1"/><rect x="897.5" y="407.4" width="70" height="8.1"/><rect x="906.5" y="407.4" width="70" height="16.1"/><rect x="914.5" y="407.4" width="71" height="16.1"/><rect x="923.5" y="407.4" width="70" height="8.1"/><rect x="941.5" y="407.4" width="70" height="8.1"/><rect x="967.5" y="407.4" width="70" height="16.1"/><rect x="976.5" y="407.4" width="70" height="41.1"/><rect x="993.5" y="407.4" width="70" height="16.1"/><rect x="1002.5" y="407.4" width="70" height="24.1"/><rect x="1011.5" y="407.4" width="70" height="16.1"/><rect x="1020.5" y="407.4" width="70" height="24.1"/><rect x="1028.5" y="407.4" width="71" height="24.1"/><rect x="1037.5" y="407.4" width="70" height="16.1"/><rect x="1046.5" y="407.4" width="70" height="8.1"/><rect x="1063.5" y="407.4" width="71" height="24.1"/><rect x="1081.5" y="407.4" width="70" height="16.1"/><rect x="1125.5" y="407.4" width="70" height="24.1"/><rect x="1134.5" y="407.4" width="70" height="8.1"/><rect x="1142.5" y="407.4" width="71" height="8.1"/><rect x="1151.5" y="407.4" width="70" height="8.1"/><rect x="1169.5" y="407.4" width="70" height="8.1"/><rect x="1178.5" y="407.4" width="70" height="8.1"/><rect x="1186.5" y="407.4" width="70" height="16.1"/><rect x="1213.5" y="407.4" width="70" height="8.1"/><rect x="1230.5" y="407.4" width="70" height="8.1"/><rect x="1239.5" y="407.4" width="70" height="8.1"/><rect x="1248.5" y="407.4" width="70" height="8.1"/><rect x="1256.5" y="407.4" width="71" height="16.1"/><rect x="1283.5" y="407.4" width="70" height="8.1"/><rect x="1353.5" y="407.4" width="70" height="8.1"/><rect x="1432.5" y="407.4" width="70" height="16.1"/></g>
<g fill="#808080" fill-opacity=".1" stroke="#000" stroke-opacity=".1"><rect x="177.5" y="401.1" width="71" height="6.3"/><rect x="186.5" y="394.7" width="70" height="12.7"/><rect x="204.5" y="400.9" width="70" height="6.4"/><rect x="213.5" y="394.4" width="70" height="13"/><rect x="221.5" y="388.3" width="71" height="19"/><rect x="230.5" y="347.6" width="70" height="59.8"/><rect x="239.5" y="362.3" width="70" height="45.1"/><rect x="248.5" y="340.8" width="70" height="66.6"/><rect x="256.5" y="347.1" width="71" height="60.2"/><rect x="265.5" y="335.2" width="70" height="72.1"/><rect x="274.5" y="373.3" width="70" height="34.1"/><rect x="283.5" y="332.6" width="70" height="74.8"/><rect x="292.5" y="339.1" width="70" height="68.2"/><rect x="300.5" y="297.9" width="70" height="109.5"/><rect x="309.5" y="352.3" width="70" height="55.1"/><rect x="318.5" y="309.9" width="70" height="97.5"/><rect x="327.5" y="322.7" width="70" height="84.7"/><rect x="335.5" y="212.3" width="71" height="195"/><rect x="344.5" y="302.3" width="70" height="105.1"/><rect x="353.5" y="217.1" width="70" height="190.2"/><rect x="362.5" y="257.3" width="70" height="150.1"/><rect x="370.5" y="222" width="71" height="185.3"/><rect x="379.5" y="328.8" width="70" height="78.5"/><rect x="388.5" y="319.9" width="70" height="87.4"/><rect x="397.5" y="357.1" width="70" height="50.2"/><rect x="406.5" y="249.5" width="70" height="157.9"/><rect x="414.5" y="288.4" width="71" height="118.9"/><rect x="423.5" y="206.8" width="70" height="200.5"/><rect x="432.5" y="288.9" width="70" height="118.4"/><rect x="441.5" y="245.9" width="70" height="161.5"/><rect x="449.5" y="377.1" width="71" height="30.3"/><rect x="458.5" y="208.8" width="70" height="198.5"/><rect x="467.5" y="399.7" width="70" height="7.6"/><rect x="476.5" y="207.3" width="70" height="200"/><rect x="485.5" y="285" width="70" height="122.4"/><rect x="493.5" y="129.3" width="70" height="278.1"/><rect x="502.5" y="307.8" width="70" height="99.5"/><rect x="511.5" y="218.6" width="70" height="188.8"/><rect x="520.5" y="199.1" width="70" height="208.3"/><rect x="528.5" y="280.2" width="71" height="127.1"/><rect x="537.5" y="181.6" width="70" height="225.7"/><rect x="546.5" y="221.1" width="70" height="186.3"/><rect x="555.5" y="177.1" width="70" height="230.3"/><rect x="563.5" y="277.3" width="71" height="130.1"/><rect x="572.5" y="216.2" width="70" height="191.2"/><rect x="581.5" y="284" width="70" height="123.3"/><rect x="590.5" y="148.4" width="70" height="258.9"/><rect x="599.5" y="213.8" width="70" height="193.5"/><rect x="607.5" y="287" width="70" height="120.3"/><rect x="616.5" y="299.6" width="70" height="107.8"/><rect x="625.5" y="229" width="70" height="178.3"/><rect x="634.5" y="330.4" width="70" height="77"/><rect x="642.5" y="310.8" width="71" height="96.6"/><rect x="651.5" y="276.4" width="70" height="131"/><rect x="660.5" y="265.1" width="70" height="142.3"/><rect x="669.5" y="234.9" width="70" height="172.5"/><rect x="677.5" y="308.1" width="71" height="99.3"/><rect x="686.5" y="271.5" width="70" height="135.9"/><rect x="695.5" y="225.3" width="70" height="182.1"/><rect x="704.5" y="290.5" width="70" height="116.9"/><rect x="713.5" y="296.9" width="70" height="110.5"/><rect x="721.5" y="321.4" width="71" height="85.9"/><rect x="730.5" y="287.1" width="70" height="120.2"/><rect x="739.5" y="322.2" width="70" height="85.2"/><rect x="748.5" y="313.3" width="70" height="94.1"/><rect x="756.5" y="320.2" width="71" height="87.1"/><rect x="765.5" y="299" width="70" height="108.3"/><rect x="774.5" y="369" width="70" height="38.4"/><rect x="783.5" y="298.9" width="70" height="108.4"/><rect x="792.5" y="298.5" width="70" height="108.9"/><rect x="800.5" y="337.8" width="70" height="69.6"/><rect x="809.5" y="357.6" width="70" height="49.7"/><rect x="818.5" y="335.7" width="70" height="71.6"/><rect x="827.5" y="345.5" width="70" height="61.9"/><rect x="835.5" y="343.8" width="71" height="63.5"/><rect x="844.5" y="355.7" width="70" height="51.7"/><rect x="853.5" y="365.2" width="70" height="42.2"/><rect x="862.5" y="333.8" width="70" height="73.6"/><rect x="870.5" y="343.6" width="71" height="63.8"/><rect x="879.5" y="351.7" width="70" height="55.7"/><rect x="888.5" y="351.9" width="70" height="55.5"/><rect x="897.5" y="363.5" width="70" height="43.9"/><rect x="906.5" y="363" width="70" height="44.3"/><rect x="914.5" y="351.2" width="71" height="56.2"/><rect x="923.5" y="372.6" width="70" height="34.7"/><rect x="932.5" y="349.3" width="70" height="58"/><rect x="941.5" y="361.2" width="70" height="46.1"/><rect x="949.5" y="384.5" width="71" height="22.9"/><rect x="958.5" y="384" width="70" height="23.4"/><rect x="967.5" y="383" width="70" height="24.3"/><rect x="976.5" y="383.7" width="70" height="23.7"/><rect x="985.5" y="371.2" width="70" height="36.2"/><rect x="993.5" y="371.7" width="70" height="35.7"/><rect x="1011.5" y="332.6" width="70" height="74.8"/><rect x="1020.5" y="381.5" width="70" height="25.9"/><rect x="1028.5" y="356.4" width="71" height="50.9"/><rect x="1037.5" y="369.3" width="70" height="38"/><rect x="1046.5" y="394.5" width="70" height="12.8"/><rect x="1063.5" y="380.8" width="71" height="26.6"/><rect x="1072.5" y="381" width="70" height="26.4"/><rect x="1081.5" y="379.9" width="70" height="27.4"/><rect x="1090.5" y="394.2" width="70" height="13.1"/><rect x="1099.5" y="379" width="70" height="28.3"/><rect x="1107.5" y="393.1" width="71" height="14.3"/><rect x="1116.5" y="379.6" width="70" height="27.8"/><rect x="1125.5" y="393.1" width="70" height="14.2"/><rect x="1134.5" y="393.1" width="70" height="14.2"/><rect x="1142.5" y="392.6" width="71" height="14.8"/><rect x="1169.5" y="376.1" width="70" height="31.3"/><rect x="1178.5" y="376.4" width="70" height="31"/><rect x="1186.5" y="391.5" width="70" height="15.8"/><rect x="1221.5" y="374.3" width="71" height="33.1"/><rect x="1239.5" y="373.4" width="70" height="34"/><rect x="1256.5" y="389.9" width="71" height="17.5"/><rect x="239.5" y="407.4" width="70" height="60.6"/><rect x="256.5" y="407.4" width="71" height="26.8"/><rect x="274.5" y="407.4" width="70" height="23.9"/><rect x="292.5" y="407.4" width="70" height="42.3"/><rect x="300.5" y="407.4" width="70" height="20.3"/><rect x="309.5" y="407.4" width="70" height="37.9"/><rect x="318.5" y="407.4" width="70" height="37.3"/><rect x="327.5" y="407.4" width="70" height="53.4"/><rect x="335.5" y="407.4" width="71" height="103.9"/><rect x="344.5" y="407.4" width="70" height="48.9"/><rect x="353.5" y="407.4" width="70" height="81.8"/><rect x="362.5" y="407.4" width="70" height="15.2"/><rect x="370.5" y="407.4" width="71" height="43.7"/><rect x="379.5" y="407.4" width="70" height="43.5"/><rect x="388.5" y="407.4" width="70" height="137.6"/><rect x="397.5" y="407.4" width="70" height="123.5"/><rect x="406.5" y="407.4" width="70" height="121.3"/><rect x="414.5" y="407.4" width="71" height="24.5"/><rect x="423.5" y="407.4" width="70" height="71"/><rect x="432.5" y="407.4" width="70" height="11.9"/><rect x="441.5" y="407.4" width="70" height="93.4"/><rect x="449.5" y="407.4" width="71" height="11.4"/><rect x="458.5" y="407.4" width="70" height="53.5"/><rect x="467.5" y="407.4" width="70" height="51.8"/><rect x="476.5" y="407.4" width="70" height="39.7"/><rect x="485.5" y="407.4" width="70" height="81.6"/><rect x="493.5" y="407.4" width="70" height="29.2"/><rect x="502.5" y="407.4" width="70" height="46.2"/><rect x="511.5" y="407.4" width="70" height="19"/><rect x="520.5" y="407.4" width="70" height="28.1"/><rect x="528.5" y="407.4" width="71" height="72.8"/><rect x="537.5" y="407.4" width="70" height="8.8"/><rect x="546.5" y="407.4" width="70" height="61.6"/><rect x="555.5" y="407.4" width="70" height="40.4"/><rect x="563.5" y="407.4" width="71" height="66.9"/><rect x="572.5" y="407.4" width="70" height="49.6"/><rect x="581.5" y="407.4" width="70" height="63.8"/><rect x="590.5" y="407.4" width="70" height="7.7"/><rect x="599.5" y="407.4" width="70" height="30.6"/><rect x="607.5" y="407.4" width="70" height="46.8"/><rect x="616.5" y="407.4" width="70" height="44.1"/><rect x="625.5" y="407.4" width="70" height="69.9"/><rect x="634.5" y="407.4" width="70" height="65"/><rect x="642.5" y="407.4" width="71" height="68.7"/><rect x="651.5" y="407.4" width="70" height="62.5"/><rect x="660.5" y="407.4" width="70" height="33.8"/><rect x="669.5" y="407.4" width="70" height="53.9"/><rect x="677.5" y="407.4" width="71" height="6.5"/><rect x="686.5" y="407.4" width="70" height="66.2"/><rect x="695.5" y="407.4" width="70" height="39.1"/><rect x="704.5" y="407.4" width="70" height="57.4"/><rect x="713.5" y="407.4" width="70" height="50.4"/><rect x="721.5" y="407.4" width="71" height="24.8"/><rect x="730.5" y="407.4" width="70" height="54.2"/><rect x="739.5" y="407.4" width="70" height="53.8"/><rect x="748.5" y="407.4" width="70" height="29.9"/><rect x="756.5" y="407.4" width="71" height="52.5"/><rect x="765.5" y="407.4" width="70" height="5.6"/><rect x="774.5" y="407.4" width="70" height="26.9"/><rect x="783.5" y="407.4" width="70" height="22.6"/><rect x="792.5" y="407.4" width="70" height="22.7"/><rect x="800.5" y="407.4" width="70" height="10.9"/><rect x="835.5" y="407.4" width="71" height="21.1"/><rect x="844.5" y="407.4" width="70" height="5.3"/><rect x="853.5" y="407.4" width="70" height="36"/><rect x="862.5" y="407.4" width="70" height="25.1"/><rect x="879.5" y="407.4" width="70" height="10.1"/><rect x="888.5" y="407.4" width="70" height="13.9"/><rect x="897.5" y="407.4" width="70" height="4.7"/><rect x="906.5" y="407.4" width="70" height="9.1"/><rect x="914.5" y="407.4" width="71" height="8.9"/><rect x="923.5" y="407.4" width="70" height="4.6"/><rect x="941.5" y="407.4" width="70" height="4.5"/><rect x="967.5" y="407.4" width="70" height="8.8"/><rect x="976.5" y="407.4" width="70" height="21.8"/><rect x="993.5" y="407.4" width="70" height="8.9"/><rect x="1002.5" y="407.4" width="70" height="12.9"/><rect x="1011.5" y="407.4" width="70" height="8.4"/><rect x="1020.5" y="407.4" width="70" height="12.5"/><rect x="1028.5" y="407.4" width="71" height="12.2"/><rect x="1037.5" y="407.4" width="70" height="8.2"/><rect x="1046.5" y="407.4" width="70" height="4.1"/><rect x="1063.5" y="407.4" width="71" height="11.7"/><rect x="1081.5" y="407.4" width="70" height="7.6"/><rect x="1125.5" y="407.4" width="70" height="10.8"/><rect x="1134.5" y="407.4" width="70" height="3.8"/><rect x="1142.5" y="407.4" width="71" height="3.7"/><rect x="1151.5" y="407.4" width="70" height="3.6"/><rect x="1169.5" y="407.4" width="70" height="3.5"/><rect x="1178.5" y="407.4" width="70" height="3.6"/><rect x="1186.5" y="407.4" width="70" height="7"/><rect x="1213.5" y="407.4" width="70" height="3.4"/><rect x="1230.5" y="407.4" width="70" height="3.4"/><rect x="1239.5" y="407.4" width="70" height="3.3"/><rect x="1248.5" y="407.4" width="70" height="3.3"/><rect x="1256.5" y="407.4" width="71" height="6.5"/><rect x="1283.5" y="407.4" width="70" height="3.2"/><rect x="1353.5" y="407.4" width="70" height="3"/><rect x="1432.5" y="407.4" width="70" height="5.7"/></g>
<g fill="#ffa500" fill-opacity=".6" stroke="#000" stroke-opacity=".6"><rect x="213.5" y="399.5" width="70" height="7.9"/><rect x="221.5" y="333.5" width="71" height="73.9"/><rect x="230.5" y="382.5" width="70" height="24.9"/><rect x="239.5" y="382.5" width="70" height="24.9"/><rect x="248.5" y="341.5" width="70" height="65.9"/><rect x="256.5" y="317.5" width="71" height="89.9"/><rect x="265.5" y="284.5" width="70" height="122.9"/><rect x="274.5" y="317.5" width="70" height="89.9"/><rect x="283.5" y="341.5" width="70" height="65.9"/><rect x="292.5" y="358.5" width="70" height="48.9"/><rect x="300.5" y="374.5" width="70" height="32.9"/><rect x="309.5" y="341.5" width="70" height="65.9"/><rect x="318.5" y="350.5" width="70" height="56.9"/><rect x="327.5" y="374.5" width="70" height="32.9"/><rect x="335.5" y="227.5" width="71" height="179.9"/><rect x="344.5" y="350.5" width="70" height="56.9"/><rect x="353.5" y="292.5" width="70" height="114.9"/><rect x="362.5" y="325.5" width="70" height="81.9"/><rect x="370.5" y="251.5" width="71" height="155.9"/><rect x="379.5" y="219.5" width="70" height="187.9"/><rect x="388.5" y="219.5" width="70" height="187.9"/><rect x="397.5" y="202.5" width="70" height="204.9"/><rect x="406.5" y="210.5" width="70" height="196.9"/><rect x="414.5" y="276.5" width="71" height="130.9"/><rect x="423.5" y="260.5" width="70" height="146.9"/><rect x="432.5" y="170.5" width="70" height="236.9"/><rect x="441.5" y="210.5" width="70" height="196.9"/><rect x="449.5" y="210.5" width="71" height="196.9"/><rect x="458.5" y="137.5" width="70" height="269.9"/><rect x="467.5" y="210.5" width="70" height="196.9"/><rect x="476.5" y="170.5" width="70" height="236.9"/><rect x="485.5" y="96.5" width="70" height="310.9"/><rect x="493.5" y="219.5" width="70" height="187.9"/><rect x="502.5" y="260.5" width="70" height="146.9"/><rect x="511.5" y="219.5" width="70" height="187.9"/><rect x="520.5" y="227.5" width="70" height="179.9"/><rect x="528.5" y="129.5" width="71" height="277.9"/><rect x="537.5" y="210.5" width="70" height="196.9"/><rect x="546.5" y="243.5" width="70" height="163.9"/><rect x="555.5" y="170.5" width="70" height="236.9"/><rect x="563.5" y="300.5" width="71" height="106.9"/><rect x="572.5" y="309.5" width="70" height="97.9"/><rect x="581.5" y="178.5" width="70" height="228.9"/><rect x="590.5" y="276.5" width="70" height="130.9"/><rect x="599.5" y="186.5" width="70" height="220.9"/><rect x="607.5" y="243.5" width="70" height="163.9"/><rect x="616.5" y="219.5" width="70" height="187.9"/><rect x="625.5" y="325.5" width="70" height="81.9"/><rect x="634.5" y="268.5" width="70" height="138.9"/><rect x="642.5" y="276.5" width="71" height="130.9"/><rect x="651.5" y="300.5" width="70" height="106.9"/><rect x="660.5" y="243.5" width="70" height="163.9"/><rect x="669.5" y="317.5" width="70" height="89.9"/><rect x="677.5" y="300.5" width="71" height="106.9"/><rect x="686.5" y="309.5" width="70" height="97.9"/><rect x="695.5" y="317.5" width="70" height="89.9"/><rect x="704.5" y="284.5" width="70" height="122.9"/><rect x="713.5" y="292.5" width="70" height="114.9"/><rect x="721.5" y="292.5" width="71" height="114.9"/><rect x="730.5" y="333.5" width="70" height="73.9"/><rect x="739.5" y="333.5" width="70" height="73.9"/><rect x="748.5" y="300.5" width="70" height="106.9"/><rect x="756.5" y="317.5" width="71" height="89.9"/><rect x="765.5" y="300.5" width="70" height="106.9"/><rect x="774.5" y="350.5" width="70" height="56.9"/><rect x="783.5" y="325.5" width="70" height="81.9"/><rect x="792.5" y="358.5" width="70" height="48.9"/><rect x="800.5" y="341.5" width="70" height="65.9"/><rect x="809.5" y="358.5" width="70" height="48.9"/><rect x="818.5" y="341.5" width="70" height="65.9"/><rect x="827.5" y="358.5" width="70" height="48.9"/><rect x="835.5" y="374.5" width="71" height="32.9"/><rect x="844.5" y="350.5" width="70" height="56.9"/><rect x="853.5" y="382.5" width="70" height="24.9"/><rect x="862.5" y="374.5" width="70" height="32.9"/><rect x="870.5" y="350.5" width="71" height="56.9"/><rect x="879.5" y="350.5" width="70" height="56.9"/><rect x="888.5" y="358.5" width="70" height="48.9"/><rect x="897.5" y="382.5" width="70" height="24.9"/><rect x="906.5" y="366.5" width="70" height="40.9"/><rect x="914.5" y="358.5" width="71" height="48.9"/><rect x="923.5" y="374.5" width="70" height="32.9"/><rect x="932.5" y="366.5" width="70" height="40.9"/><rect x="941.5" y="341.5" width="70" height="65.9"/><rect x="949.5" y="374.5" width="71" height="32.9"/><rect x="958.5" y="382.5" width="70" height="24.9"/><rect x="967.5" y="390.5" width="70" height="16.9"/><rect x="976.5" y="390.5" width="70" height="16.9"/><rect x="985.5" y="399.5" width="70" height="7.9"/><rect x="993.5" y="382.5" width="70" height="24.9"/><rect x="1002.5" y="390.5" width="70" height="16.9"/><rect x="1011.5" y="390.5" width="70" height="16.9"/><rect x="1020.5" y="390.5" width="70" height="16.9"/><rect x="1028.5" y="390.5" width="71" height="16.9"/><rect x="1037.5" y="399.5" width="70" height="7.9"/><rect x="1046.5" y="382.5" width="70" height="24.9"/><rect x="1055.5" y="382.5" width="70" height="24.9"/><rect x="1072.5" y="399.5" width="70" height="7.9"/><rect x="1081.5" y="399.5" width="70" height="7.9"/><rect x="1099.5" y="399.5" width="70" height="7.9"/><rect x="1116.5" y="399.5" width="70" height="7.9"/><rect x="1125.5" y="399.5" width="70" height="7.9"/><rect x="1134.5" y="399.5" width="70" height="7.9"/><rect x="1142.5" y="390.5" width="71" height="16.9"/><rect x="1151.5" y="390.5" width="70" height="16.9"/><rect x="1160.5" y="390.5" width="70" height="16.9"/><rect x="1169.5" y="399.5" width="70" height="7.9"/><rect x="1178.5" y="390.5" width="70" height="16.9"/><rect x="1186.5" y="399.5" width="70" height="7.9"/><rect x="1335.5" y="390.5" width="71" height="16.9"/></g>
<g fill="#87ceeb" fill-opacity=".6" stroke="#000" stroke-opacity=".6"><rect x="169.5" y="407.4" width="70" height="8.1"/><rect x="195.5" y="407.4" width="70" height="16.1"/><rect x="239.5" y="407.4" width="70" height="8.1"/><rect x="248.5" y="407.4" width="70" height="8.1"/><rect x="256.5" y="407.4" width="71" height="16.1"/><rect x="265.5" y="407.4" width="70" height="16.1"/><rect x="274.5" y="407.4" width="70" height="8.1"/><rect x="283.5" y="407.4" width="70" height="16.1"/><rect x="292.5" y="407.4" width="70" height="16.1"/><rect x="300.5" y="407.4" width="70" height="24.1"/><rect x="309.5" y="407.4" width="70" height="16.1"/><rect x="318.5" y="407.4" width="70" height="24.1"/><rect x="335.5" y="407.4" width="71" height="16.1"/><rect x="344.5" y="407.4" width="70" height="24.1"/><rect x="353.5" y="407.4" width="70" height="33.1"/><rect x="362.5" y="407.4" width="70" height="57.1"/><rect x="370.5" y="407.4" width="71" height="24.1"/><rect x="379.5" y="407.4" width="70" height="24.1"/><rect x="397.5" y="407.4" width="70" height="24.1"/><rect x="406.5" y="407.4" width="70" height="8.1"/><rect x="414.5" y="407.4" width="71" height="73.1"/><rect x="423.5" y="407.4" width="70" height="24.1"/><rect x="432.5" y="407.4" width="70" height="49.1"/><rect x="441.5" y="407.4" width="70" height="57.1"/><rect x="449.5" y="407.4" width="71" height="90.1"/><rect x="458.5" y="407.4" width="70" height="57.1"/><rect x="467.5" y="407.4" width="70" height="90.1"/><rect x="476.5" y="407.4" width="70" height="98.1"/><rect x="485.5" y="407.4" width="70" height="49.1"/><rect x="493.5" y="407.4" width="70" height="24.1"/><rect x="502.5" y="407.4" width="70" height="33.1"/><rect x="511.5" y="407.4" width="70" height="41.1"/><rect x="520.5" y="407.4" width="70" height="98.1"/><rect x="528.5" y="407.4" width="71" height="82.1"/><rect x="537.5" y="407.4" width="70" height="16.1"/><rect x="546.5" y="407.4" width="70" height="24.1"/><rect x="555.5" y="407.4" width="70" height="57.1"/><rect x="563.5" y="407.4" width="71" height="33.1"/><rect x="572.5" y="407.4" width="70" height="33.1"/><rect x="581.5" y="407.4" width="70" height="24.1"/><rect x="590.5" y="407.4" width="70" height="98.1"/><rect x="599.5" y="407.4" width="70" height="49.1"/><rect x="616.5" y="407.4" width="70" height="49.1"/><rect x="625.5" y="407.4" width="70" height="49.1"/><rect x="634.5" y="407.4" width="70" height="41.1"/><rect x="642.5" y="407.4" width="71" height="16.1"/><rect x="651.5" y="407.4" width="70" height="33.1"/><rect x="660.5" y="407.4" width="70" height="8.1"/><rect x="669.5" y="407.4" width="70" height="16.1"/><rect x="677.5" y="407.4" width="71" height="49.1"/><rect x="686.5" y="407.4" width="70" height="57.1"/><rect x="695.5" y="407.4" width="70" height="24.1"/><rect x="704.5" y="407.4" width="70" height="49.1"/><rect x="713.5" y="407.4" width="70" height="8.1"/><rect x="721.5" y="407.4" width="71" height="65.1"/><rect x="730.5" y="407.4" width="70" height="41.1"/><rect x="739.5" y="407.4" width="70" height="57.1"/><rect x="756.5" y="407.4" width="71" height="41.1"/><rect x="765.5" y="407.4" width="70" height="65.1"/><rect x="774.5" y="407.4" width="70" height="33.1"/><rect x="783.5" y="407.4" width="70" height="16.1"/><rect x="800.5" y="407.4" width="70" height="16.1"/><rect x="809.5" y="407.4" width="70" height="8.1"/><rect x="818.5" y="407.4" width="70" height="8.1"/><rect x="827.5" y="407.4" width="70" height="57.1"/><rect x="835.5" y="407.4" width="71" height="16.1"/><rect x="844.5" y="407.4" width="70" height="33.1"/><rect x="853.5" y="407.4" width="70" height="8.1"/><rect x="862.5" y="407.4" width="70" height="16.1"/><rect x="870.5" y="407.4" width="71" height="41.1"/><rect x="879.5" y="407.4" width="70" height="8.1"/><rect x="897.5" y="407.4" width="70" height="8.1"/><rect x="923.5" y="407.4" width="70" height="16.1"/><rect x="932.5" y="407.4" width="70" height="16.1"/><rect x="941.5" y="407.4" width="70" height="16.1"/><rect x="949.5" y="407.4" width="71" height="16.1"/><rect x="958.5" y="407.4" width="70" height="8.1"/><rect x="967.5" y="407.4" width="70" height="8.1"/><rect x="976.5" y="407.4" width="70" height="24.1"/><rect x="993.5" y="407.4" width="70" height="16.1"/><rect x="1002.5" y="407.4" width="70" height="16.1"/><rect x="1011.5" y="407.4" width="70" height="24.1"/><rect x="1028.5" y="407.4" width="71" height="24.1"/><rect x="1037.5" y="407.4" width="70" height="16.1"/><rect x="1046.5" y="407.4" width="70" height="16.1"/><rect x="1055.5" y="407.4" width="70" height="33.1"/><rect x="1063.5" y="407.4" width="71" height="8.1"/><rect x="1081.5" y="407.4" width="70" height="8.1"/><rect x="1099.5" y="407.4" width="70" height="8.1"/><rect x="1107.5" y="407.4" width="71" height="8.1"/><rect x="1134.5" y="407.4" width="70" height="8.1"/><rect x="1160.5" y="407.4" width="70" height="16.1"/><rect x="1204.5" y="407.4" width="70" height="8.1"/><rect x="1239.5" y="407.4" width="70" height="8.1"/><rect x="1248.5" y="407.4" width="70" height="16.1"/><rect x="1256.5" y="407.4" width="71" height="8.1"/><rect x="1265.5" y="407.4" width="70" height="8.1"/><rect x="1283.5" y="407.4" width="70" height="16.1"/><rect x="1353.5" y="407.4" width="70" height="16.1"/><rect x="1362.5" y="407.4" width="70" height="8.1"/><rect x="1388.5" y="407.4" width="70" height="8.1"/><rect x="1642.5" y="407.4" width="71" height="8.1"/></g>
<g fill="#808080" fill-opacity=".1" stroke="#000" stroke-opacity=".1"><rect x="213.5" y="400.8" width="70" height="6.6"/><rect x="221.5" y="349.1" width="71" height="58.3"/><rect x="230.5" y="387.9" width="70" height="19.5"/><rect x="239.5" y="387.9" width="70" height="19.5"/><rect x="248.5" y="354.5" width="70" height="52.9"/><rect x="256.5" y="334.7" width="71" height="72.7"/><rect x="265.5" y="307.5" width="70" height="99.9"/><rect x="274.5" y="334" width="70" height="73.3"/><rect x="283.5" y="353.5" width="70" height="53.9"/><rect x="292.5" y="365.7" width="70" height="41.7"/><rect x="300.5" y="380.1" width="70" height="27.3"/><rect x="309.5" y="353.1" width="70" height="54.3"/><rect x="318.5" y="359.7" width="70" height="47.7"/><rect x="327.5" y="379.4" width="70" height="27.9"/><rect x="335.5" y="254.9" width="71" height="152.5"/><rect x="344.5" y="358.1" width="70" height="49.2"/><rect x="353.5" y="308.5" width="70" height="98.8"/><rect x="362.5" y="337.1" width="70" height="70.2"/><rect x="370.5" y="275.6" width="71" height="131.7"/><rect x="379.5" y="242.6" width="70" height="164.8"/><rect x="388.5" y="246.5" width="70" height="160.8"/><rect x="397.5" y="223.6" width="70" height="183.8"/><rect x="406.5" y="235.3" width="70" height="172.1"/><rect x="414.5" y="290.7" width="71" height="116.6"/><rect x="423.5" y="274.7" width="70" height="132.6"/><rect x="432.5" y="191.8" width="70" height="215.6"/><rect x="441.5" y="225.2" width="70" height="182.2"/><rect x="449.5" y="228.8" width="71" height="178.6"/><rect x="458.5" y="157" width="70" height="250.4"/><rect x="467.5" y="223.5" width="70" height="183.9"/><rect x="476.5" y="180.1" width="70" height="227.2"/><rect x="485.5" y="114.1" width="70" height="293.2"/><rect x="493.5" y="224.7" width="70" height="182.6"/><rect x="502.5" y="264.9" width="70" height="142.4"/><rect x="511.5" y="231.5" width="70" height="175.9"/><rect x="520.5" y="231.9" width="70" height="175.5"/><rect x="528.5" y="137.6" width="71" height="269.7"/><rect x="537.5" y="214.2" width="70" height="193.2"/><rect x="546.5" y="245.5" width="70" height="161.8"/><rect x="555.5" y="171.6" width="70" height="235.7"/><rect x="563.5" y="303.6" width="71" height="103.7"/><rect x="572.5" y="307.8" width="70" height="99.5"/><rect x="581.5" y="175.1" width="70" height="232.3"/><rect x="590.5" y="276.3" width="70" height="131.1"/><rect x="599.5" y="180.3" width="70" height="227.1"/><rect x="607.5" y="237.1" width="70" height="170.2"/><rect x="616.5" y="211.4" width="70" height="196"/><rect x="625.5" y="321.4" width="70" height="85.9"/><rect x="634.5" y="261.6" width="70" height="145.8"/><rect x="642.5" y="267.4" width="71" height="140"/><rect x="651.5" y="293.4" width="70" height="113.9"/><rect x="660.5" y="230.6" width="70" height="176.8"/><rect x="669.5" y="306.9" width="70" height="100.5"/><rect x="677.5" y="293.1" width="71" height="114.2"/><rect x="686.5" y="297" width="70" height="110.4"/><rect x="695.5" y="308.3" width="70" height="99.1"/><rect x="704.5" y="271.5" width="70" height="135.9"/><rect x="713.5" y="276.9" width="70" height="130.5"/><rect x="721.5" y="278.6" width="71" height="128.7"/><rect x="730.5" y="324.6" width="70" height="82.8"/><rect x="739.5" y="323.1" width="70" height="84.2"/><rect x="748.5" y="281.6" width="70" height="125.8"/><rect x="756.5" y="304.1" width="71" height="103.2"/><rect x="765.5" y="281.5" width="70" height="125.9"/><rect x="774.5" y="338" width="70" height="69.3"/><rect x="783.5" y="307.5" width="70" height="99.9"/><rect x="792.5" y="347.4" width="70" height="60"/><rect x="800.5" y="328.3" width="70" height="79"/><rect x="809.5" y="347.2" width="70" height="60.2"/><rect x="818.5" y="325.4" width="70" height="82"/><rect x="827.5" y="345" width="70" height="62.3"/><rect x="835.5" y="365.5" width="71" height="41.9"/><rect x="844.5" y="334.3" width="70" height="73.1"/><rect x="853.5" y="376" width="70" height="31.4"/><rect x="862.5" y="363.3" width="70" height="44.1"/><rect x="870.5" y="333.6" width="71" height="73.7"/><rect x="879.5" y="331.6" width="70" height="75.7"/><rect x="888.5" y="343" width="70" height="64.3"/><rect x="897.5" y="373.7" width="70" height="33.6"/><rect x="906.5" y="352.2" width="70" height="55.1"/><rect x="914.5" y="339.4" width="71" height="67.9"/><rect x="923.5" y="361.1" width="70" height="46.3"/><rect x="932.5" y="352.5" width="70" height="54.9"/><rect x="941.5" y="315.2" width="70" height="92.2"/><rect x="949.5" y="362.3" width="71" height="45.1"/><rect x="958.5" y="372.9" width="70" height="34.5"/><rect x="967.5" y="384.2" width="70" height="23.2"/><rect x="976.5" y="383.7" width="70" height="23.6"/><rect x="985.5" y="395" width="70" height="12.3"/><rect x="993.5" y="370.8" width="70" height="36.6"/><rect x="1002.5" y="382.5" width="70" height="24.8"/><rect x="1011.5" y="381.8" width="70" height="25.5"/><rect x="1020.5" y="382.1" width="70" height="25.2"/><rect x="1028.5" y="382" width="71" height="25.4"/><rect x="1037.5" y="394.3" width="70" height="13.1"/><rect x="1046.5" y="368.2" width="70" height="39.2"/><rect x="1055.5" y="368.5" width="70" height="38.8"/><rect x="1072.5" y="394.1" width="70" height="13.3"/><rect x="1081.5" y="393.8" width="70" height="13.6"/><rect x="1099.5" y="393.3" width="70" height="14"/><rect x="1116.5" y="392.9" width="70" height="14.4"/><rect x="1125.5" y="393.5" width="70" height="13.8"/><rect x="1134.5" y="392.9" width="70" height="14.5"/><rect x="1142.5" y="378.3" width="71" height="29"/><rect x="1151.5" y="377.1" width="70" height="30.2"/><rect x="1160.5" y="376.9" width="70" height="30.5"/><rect x="1169.5" y="392.1" width="70" height="15.3"/><rect x="1178.5" y="376.4" width="70" height="30.9"/><rect x="1186.5" y="391.8" width="70" height="15.6"/><rect x="1335.5" y="367.2" width="71" height="40.2"/><rect x="169.5" y="407.4" width="70" height="71.8"/><rect x="195.5" y="407.4" width="70" height="96.4"/><rect x="239.5" y="407.4" width="70" height="30.5"/><rect x="248.5" y="407.4" width="70" height="29.5"/><rect x="256.5" y="407.4" width="71" height="55.3"/><rect x="265.5" y="407.4" width="70" height="50.6"/><rect x="274.5" y="407.4" width="70" height="22.5"/><rect x="283.5" y="407.4" width="70" height="45.8"/><rect x="292.5" y="407.4" width="70" height="42.6"/><rect x="300.5" y="407.4" width="70" height="60.6"/><rect x="309.5" y="407.4" width="70" height="39.4"/><rect x="318.5" y="407.4" width="70" height="54.9"/><rect x="335.5" y="407.4" width="71" height="34.9"/><rect x="344.5" y="407.4" width="70" height="50.4"/><rect x="353.5" y="407.4" width="70" height="64.8"/><rect x="362.5" y="407.4" width="70" height="108"/><rect x="370.5" y="407.4" width="71" height="44.3"/><rect x="379.5" y="407.4" width="70" height="43.3"/><rect x="397.5" y="407.4" width="70" height="41.4"/><rect x="406.5" y="407.4" width="70" height="13.1"/><rect x="414.5" y="407.4" width="71" height="115.2"/><rect x="423.5" y="407.4" width="70" height="36.4"/><rect x="432.5" y="407.4" width="70" height="72.8"/><rect x="441.5" y="407.4" width="70" height="83.9"/><rect x="449.5" y="407.4" width="71" height="128.2"/><rect x="458.5" y="407.4" width="70" height="76.9"/><rect x="467.5" y="407.4" width="70" height="113.3"/><rect x="476.5" y="407.4" width="70" height="122.9"/><rect x="485.5" y="407.4" width="70" height="61.4"/><rect x="493.5" y="407.4" width="70" height="29.1"/><rect x="502.5" y="407.4" width="70" height="38.3"/><rect x="511.5" y="407.4" width="70" height="49.2"/><rect x="520.5" y="407.4" width="70" height="108.2"/><rect x="528.5" y="407.4" width="71" height="88.2"/><rect x="537.5" y="407.4" width="70" height="17.8"/><rect x="546.5" y="407.4" width="70" height="26.1"/><rect x="555.5" y="407.4" width="70" height="62.4"/><rect x="563.5" y="407.4" width="71" height="33.7"/><rect x="572.5" y="407.4" width="70" height="33.2"/><rect x="581.5" y="407.4" width="70" height="24.3"/><rect x="590.5" y="407.4" width="70" height="94.5"/><rect x="599.5" y="407.4" width="70" height="44.8"/><rect x="616.5" y="407.4" width="70" height="44.7"/><rect x="625.5" y="407.4" width="70" height="42.6"/><rect x="634.5" y="407.4" width="70" height="36.7"/><rect x="642.5" y="407.4" width="71" height="14.2"/><rect x="651.5" y="407.4" width="70" height="28.3"/><rect x="660.5" y="407.4" width="70" height="7"/><rect x="669.5" y="407.4" width="70" height="13.6"/><rect x="677.5" y="407.4" width="71" height="38.6"/><rect x="686.5" y="407.4" width="70" height="45.1"/><rect x="695.5" y="407.4" width="70" height="19.4"/><rect x="704.5" y="407.4" width="70" height="37"/><rect x="713.5" y="407.4" width="70" height="6.2"/><rect x="721.5" y="407.4" width="71" height="48.1"/><rect x="730.5" y="407.4" width="70" height="30.8"/><rect x="739.5" y="407.4" width="70" height="42.4"/><rect x="756.5" y="407.4" width="71" height="29.5"/><rect x="765.5" y="407.4" width="70" height="46.1"/><rect x="774.5" y="407.4" width="70" height="22.7"/><rect x="783.5" y="407.4" width="70" height="11.3"/><rect x="800.5" y="407.4" width="70" height="11"/><rect x="809.5" y="407.4" width="70" height="5.4"/><rect x="818.5" y="407.4" width="70" height="5.3"/><rect x="827.5" y="407.4" width="70" height="36.8"/><rect x="835.5" y="407.4" width="71" height="10.3"/><rect x="844.5" y="407.4" width="70" height="20.8"/><rect x="853.5" y="407.4" width="70" height="5.1"/><rect x="862.5" y="407.4" width="70" height="10"/><rect x="870.5" y="407.4" width="71" height="25.3"/><rect x="879.5" y="407.4" width="70" height="5"/><rect x="897.5" y="407.4" width="70" height="4.7"/><rect x="923.5" y="407.4" width="70" height="9.4"/><rect x="932.5" y="407.4" width="70" height="9.2"/><rect x="941.5" y="407.4" width="70" height="9.3"/><rect x="949.5" y="407.4" width="71" height="8.8"/><rect x="958.5" y="407.4" width="70" height="4.4"/><rect x="967.5" y="407.4" width="70" height="4.4"/><rect x="976.5" y="407.4" width="70" height="13.2"/><rect x="993.5" y="407.4" width="70" height="8.4"/><rect x="1002.5" y="407.4" width="70" height="8.2"/><rect x="1011.5" y="407.4" width="70" height="12.6"/><rect x="1028.5" y="407.4" width="71" height="12.7"/><rect x="1037.5" y="407.4" width="70" height="8.1"/><rect x="1046.5" y="407.4" width="70" height="8.1"/><rect x="1055.5" y="407.4" width="70" height="16.1"/><rect x="1063.5" y="407.4" width="71" height="3.8"/><rect x="1081.5" y="407.4" width="70" height="4"/><rect x="1099.5" y="407.4" width="70" height="3.7"/><rect x="1107.5" y="407.4" width="71" height="3.7"/><rect x="1134.5" y="407.4" width="70" height="3.7"/><rect x="1160.5" y="407.4" width="70" height="7.1"/><rect x="1204.5" y="407.4" width="70" height="3.4"/><rect x="1239.5" y="407.4" width="70" height="3.3"/><rect x="1248.5" y="407.4" width="70" height="6.6"/><rect x="1256.5" y="407.4" width="71" height="3.2"/><rect x="1265.5" y="407.4" width="70" height="3.3"/><rect x="1283.5" y="407.4" width="70" height="6.5"/><rect x="1353.5" y="407.4" width="70" height="6.1"/><rect x="1362.5" y="407.4" width="70" height="3.1"/><rect x="1388.5" y="407.4" width="70" height="3"/><rect x="1642.5" y="407.4" width="71" height="2.5"/></g>
<g fill="#ffa500" fill-opacity=".6" stroke="#000" stroke-opacity=".6"><rect x="195.5" y="390.5" width="70" height="16.9"/><rect x="204.5" y="399.5" width="70" height="7.9"/><rect x="213.5" y="399.5" width="70" height="7.9"/><rect x="221.5" y="399.5" width="71" height="7.9"/><rect x="230.5" y="350.5" width="70" height="56.9"/><rect x="239.5" y="366.5" width="70" height="40.9"/><rect x="248.5" y="317.5" width="70" height="89.9"/><rect x="256.5" y="325.5" width="71" height="81.9"/><rect x="265.5" y="358.5" width="70" height="48.9"/><rect x="274.5" y="309.5" width="70" height="97.9"/><rect x="283.5" y="341.5" width="70" height="65.9"/><rect x="292.5" y="341.5" width="70" height="65.9"/><rect x="300.5" y="251.5" width="70" height="155.9"/><rect x="309.5" y="260.5" width="70" height="146.9"/><rect x="318.5" y="276.5" width="70" height="130.9"/><rect x="327.5" y="333.5" width="70" height="73.9"/><rect x="335.5" y="235.5" width="71" height="171.9"/><rect x="344.5" y="227.5" width="70" height="179.9"/><rect x="353.5" y="300.5" width="70" height="106.9"/><rect x="362.5" y="317.5" width="70" height="89.9"/><rect x="370.5" y="350.5" width="71" height="56.9"/><rect x="379.5" y="235.5" width="70" height="171.9"/><rect x="388.5" y="178.5" width="70" height="228.9"/><rect x="397.5" y="309.5" width="70" height="97.9"/><rect x="406.5" y="178.5" width="70" height="228.9"/><rect x="414.5" y="341.5" width="71" height="65.9"/><rect x="423.5" y="268.5" width="70" height="138.9"/><rect x="432.5" y="251.5" width="70" height="155.9"/><rect x="441.5" y="170.5" width="70" height="236.9"/><rect x="449.5" y="219.5" width="71" height="187.9"/><rect x="458.5" y="227.5" width="70" height="179.9"/><rect x="467.5" y="341.5" width="70" height="65.9"/><rect x="476.5" y="341.5" width="70" height="65.9"/><rect x="485.5" y="317.5" width="70" height="89.9"/><rect x="493.5" y="358.5" width="70" height="48.9"/><rect x="502.5" y="210.5" width="70" height="196.9"/><rect x="511.5" y="202.5" width="70" height="204.9"/><rect x="520.5" y="194.5" width="70" height="212.9"/><rect x="528.5" y="300.5" width="71" height="106.9"/><rect x="537.5" y="341.5" width="70" height="65.9"/><rect x="546.5" y="276.5" width="70" height="130.9"/><rect x="555.5" y="227.5" width="70" height="179.9"/><rect x="563.5" y="251.5" width="71" height="155.9"/><rect x="572.5" y="292.5" width="70" height="114.9"/><rect x="581.5" y="268.5" width="70" height="138.9"/><rect x="590.5" y="251.5" width="70" height="155.9"/><rect x="599.5" y="219.5" width="70" height="187.9"/><rect x="607.5" y="366.5" width="70" height="40.9"/><rect x="616.5" y="292.5" width="70" height="114.9"/><rect x="625.5" y="300.5" width="70" height="106.9"/><rect x="634.5" y="268.5" width="70" height="138.9"/><rect x="642.5" y="317.5" width="71" height="89.9"/><rect x="651.5" y="317.5" width="70" height="89.9"/><rect x="660.5" y="374.5" width="70" height="32.9"/><rect x="669.5" y="251.5" width="70" height="155.9"/><rect x="677.5" y="284.5" width="71" height="122.9"/><rect x="686.5" y="317.5" width="70" height="89.9"/><rect x="695.5" y="260.5" width="70" height="146.9"/><rect x="704.5" y="276.5" width="70" height="130.9"/><rect x="713.5" y="300.5" width="70" height="106.9"/><rect x="721.5" y="317.5" width="71" height="89.9"/><rect x="730.5" y="317.5" width="70" height="89.9"/><rect x="739.5" y="317.5" width="70" height="89.9"/><rect x="748.5" y="309.5" width="70" height="97.9"/><rect x="756.5" y="341.5" width="71" height="65.9"/><rect x="765.5" y="300.5" width="70" height="106.9"/><rect x="774.5" y="317.5" width="70" height="89.9"/><rect x="783.5" y="333.5" width="70" height="73.9"/><rect x="792.5" y="325.5" width="70" height="81.9"/><rect x="800.5" y="325.5" width="70" height="81.9"/><rect x="809.5" y="358.5" width="70" height="48.9"/><rect x="818.5" y="390.5" width="70" height="16.9"/><rect x="827.5" y="358.5" width="70" height="48.9"/><rect x="835.5" y="350.5" width="71" height="56.9"/><rect x="844.5" y="317.5" width="70" height="89.9"/><rect x="853.5" y="366.5" width="70" height="40.9"/><rect x="862.5" y="341.5" width="70" height="65.9"/><rect x="870.5" y="350.5" width="71" height="56.9"/><rect x="879.5" y="358.5" width="70" height="48.9"/><rect x="888.5" y="366.5" width="70" height="40.9"/><rect x="897.5" y="399.5" width="70" height="7.9"/><rect x="906.5" y="374.5" width="70" height="32.9"/><rect x="914.5" y="382.5" width="71" height="24.9"/><rect x="923.5" y="382.5" width="70" height="24.9"/><rect x="932.5" y="366.5" width="70" height="40.9"/><rect x="941.5" y="399.5" width="70" height="7.9"/><rect x="949.5" y="382.5" width="71" height="24.9"/><rect x="958.5" y="382.5" width="70" height="24.9"/><rect x="967.5" y="382.5" width="70" height="24.9"/><rect x="976.5" y="390.5" width="70" height="16.9"/><rect x="985.5" y="390.5" width="70" height="16.9"/><rect x="993.5" y="390.5" width="70" height="16.9"/><rect x="1002.5" y="390.5" width="70" height="16.9"/><rect x="1011.5" y="390.5" width="70" height="16.9"/><rect x="1020.5" y="390.5" width="70" height="16.9"/><rect x="1028.5" y="390.5" width="71" height="16.9"/><rect x="1037.5" y="382.5" width="70" height="24.9"/><rect x="1046.5" y="399.5" width="70" height="7.9"/><rect x="1055.5" y="399.5" width="70" height="7.9"/><rect x="1063.5" y="390.5" width="71" height="16.9"/><rect x="1081.5" y="390.5" width="70" height="16.9"/><rect x="1099.5" y="399.5" width="70" height="7.9"/><rect x="1107.5" y="390.5" width="71" height="16.9"/><rect x="1116.5" y="399.5" width="70" height="7.9"/><rect x="1134.5" y="390.5" width="70" height="16.9"/><rect x="1142.5" y="390.5" width="71" height="16.9"/><rect x="1160.5" y="390.5" width="70" height="16.9"/><rect x="1178.5" y="390.5" width="70" height="16.9"/><rect x="1186.5" y="390.5" width="70" height="16.9"/><rect x="1476.5" y="399.5" width="70" height="7.9"/></g>
<g fill="#87ceeb" fill-opacity=".6" stroke="#000" stroke-opacity=".6"><rect x="230.5" y="407.4" width="70" height="24.1"/><rect x="239.5" y="407.4" width="70" height="8.1"/><rect x="248.5" y="407.4" width="70" height="16.1"/><rect x="256.5" y="407.4" width="71" height="16.1"/><rect x="274.5" y="407.4" width="70" height="8.1"/><rect x="283.5" y="407.4" width="70" height="16.1"/><rect x="292.5" y="407.4" width="70" height="8.1"/><rect x="300.5" y="407.4" width="70" height="16.1"/><rect x="309.5" y="407.4" width="70" height="8.1"/><rect x="318.5" y="407.4" width="70" height="16.1"/><rect x="327.5" y="407.4" width="70" height="33.1"/><rect x="335.5" y="407.4" width="71" height="49.1"/><rect x="344.5" y="407.4" width="70" height="33.1"/><rect x="353.5" y="407.4" width="70" height="8.1"/><rect x="362.5" y="407.4" width="70" height="24.1"/><rect x="370.5" y="407.4" width="71" height="8.1"/><rect x="379.5" y="407.4" width="70" height="16.1"/><rect x="388.5" y="407.4" width="70" height="49.1"/><rect x="397.5" y="407.4" width="70" height="41.1"/><rect x="406.5" y="407.4" width="70" height="24.1"/><rect x="414.5" y="407.4" width="71" height="8.1"/><rect x="423.5" y="407.4" width="70" height="57.1"/><rect x="432.5" y="407.4" width="70" height="49.1"/><rect x="441.5" y="407.4" width="70" height="16.1"/><rect x="449.5" y="407.4" width="71" height="24.1"/><rect x="458.5" y="407.4" width="70" height="49.1"/><rect x="476.5" y="407.4" width="70" height="33.1"/><rect x="485.5" y="407.4" width="70" height="24.1"/><rect x="493.5" y="407.4" width="70" height="24.1"/><rect x="502.5" y="407.4" width="70" height="98.1"/><rect x="511.5" y="407.4" width="70" height="41.1"/><rect x="520.5" y="407.4" width="70" height="41.1"/><rect x="528.5" y="407.4" width="71" height="82.1"/><rect x="537.5" y="407.4" width="70" height="8.1"/><rect x="546.5" y="407.4" width="70" height="41.1"/><rect x="555.5" y="407.4" width="70" height="16.1"/><rect x="563.5" y="407.4" width="71" height="73.1"/><rect x="572.5" y="407.4" width="70" height="90.1"/><rect x="581.5" y="407.4" width="70" height="24.1"/><rect x="590.5" y="407.4" width="70" height="49.1"/><rect x="599.5" y="407.4" width="70" height="82.1"/><rect x="607.5" y="407.4" width="70" height="41.1"/><rect x="616.5" y="407.4" width="70" height="90.1"/><rect x="625.5" y="407.4" width="70" height="49.1"/><rect x="634.5" y="407.4" width="70" height="24.1"/><rect x="642.5" y="407.4" width="71" height="82.1"/><rect x="651.5" y="407.4" width="70" height="114.1"/><rect x="660.5" y="407.4" width="70" height="57.1"/><rect x="669.5" y="407.4" width="70" height="82.1"/><rect x="677.5" y="407.4" width="71" height="33.1"/><rect x="686.5" y="407.4" width="70" height="33.1"/><rect x="695.5" y="407.4" width="70" height="16.1"/><rect x="704.5" y="407.4" width="70" height="49.1"/><rect x="713.5" y="407.4" width="70" height="24.1"/><rect x="721.5" y="407.4" width="71" height="33.1"/><rect x="730.5" y="407.4" width="70" height="73.1"/><rect x="739.5" y="407.4" width="70" height="16.1"/><rect x="748.5" y="407.4" width="70" height="41.1"/><rect x="756.5" y="407.4" width="71" height="16.1"/><rect x="774.5" y="407.4" width="70" height="8.1"/><rect x="783.5" y="407.4" width="70" height="8.1"/><rect x="792.5" y="407.4" width="70" height="33.1"/><rect x="800.5" y="407.4" width="70" height="24.1"/><rect x="818.5" y="407.4" width="70" height="41.1"/><rect x="827.5" y="407.4" width="70" height="16.1"/><rect x="835.5" y="407.4" width="71" height="57.1"/><rect x="844.5" y="407.4" width="70" height="8.1"/><rect x="853.5" y="407.4" width="70" height="49.1"/><rect x="862.5" y="407.4" width="70" height="8.1"/><rect x="870.5" y="407.4" width="71" height="8.1"/><rect x="879.5" y="407.4" width="70" height="8.1"/><rect x="888.5" y="407.4" width="70" height="16.1"/><rect x="897.5" y="407.4" width="70" height="65.1"/><rect x="906.5" y="407.4" width="70" height="24.1"/><rect x="914.5" y="407.4" width="71" height="8.1"/><rect x="923.5" y="407.4" width="70" height="16.1"/><rect x="932.5" y="407.4" width="70" height="24.1"/><rect x="949.5" y="407.4" width="71" height="16.1"/><rect x="958.5" y="407.4" width="70" height="16.1"/><rect x="967.5" y="407.4" width="70" height="8.1"/><rect x="976.5" y="407.4" width="70" height="24.1"/><rect x="993.5" y="407.4" width="70" height="16.1"/><rect x="1011.5" y="407.4" width="70" height="16.1"/><rect x="1028.5" y="407.4" width="71" height="8.1"/><rect x="1037.5" y="407.4" width="70" height="33.1"/><rect x="1046.5" y="407.4" width="70" height="24.1"/><rect x="1055.5" y="407.4" width="70" height="8.1"/><rect x="1063.5" y="407.4" width="71" height="24.1"/><rect x="1081.5" y="407.4" width="70" height="24.1"/><rect x="1090.5" y="407.4" width="70" height="8.1"/><rect x="1099.5" y="407.4" width="70" height="8.1"/><rect x="1142.5" y="407.4" width="71" height="24.1"/><rect x="1151.5" y="407.4" width="70" height="16.1"/><rect x="1160.5" y="407.4" width="70" height="16.1"/><rect x="1178.5" y="407.4" width="70" height="8.1"/><rect x="1213.5" y="407.4" width="70" height="8.1"/><rect x="1230.5" y="407.4" width="70" height="8.1"/><rect x="1239.5" y="407.4" width="70" height="24.1"/><rect x="1256.5" y="407.4" width="71" height="8.1"/><rect x="1292.5" y="407.4" width="70" height="8.1"/><rect x="1318.5" y="407.4" width="70" height="8.1"/><rect x="1335.5" y="407.4" width="71" height="8.1"/><rect x="1537.5" y="407.4" width="70" height="8.1"/></g>
<g fill="#808080" fill-opacity=".1" stroke="#000" stroke-opacity=".1"><rect x="195.5" y="394.3" width="70" height="13"/><rect x="204.5" y="401" width="70" height="6.3"/><rect x="213.5" y="401" width="70" height="6.4"/><rect x="221.5" y="400.8" width="71" height="6.5"/><rect x="230.5" y="361.7" width="70" height="45.7"/><rect x="239.5" y="375.1" width="70" height="32.2"/><rect x="248.5" y="334.8" width="70" height="72.5"/><rect x="256.5" y="339.9" width="71" height="67.4"/><rect x="265.5" y="367.4" width="70" height="40"/><rect x="274.5" y="328.5" width="70" height="78.8"/><rect x="283.5" y="353.7" width="70" height="53.7"/><rect x="292.5" y="354.1" width="70" height="53.3"/><rect x="300.5" y="279.8" width="70" height="127.6"/><rect x="309.5" y="282.6" width="70" height="124.8"/><rect x="318.5" y="297.2" width="70" height="110.2"/><rect x="327.5" y="343.8" width="70" height="63.5"/><rect x="335.5" y="262.9" width="71" height="144.5"/><rect x="344.5" y="253.8" width="70" height="153.6"/><rect x="353.5" y="317.3" width="70" height="90.1"/><rect x="362.5" y="329.4" width="70" height="77.9"/><rect x="370.5" y="358.2" width="71" height="49.2"/><rect x="379.5" y="259" width="70" height="148.3"/><rect x="388.5" y="208.9" width="70" height="198.4"/><rect x="397.5" y="319.6" width="70" height="87.8"/><rect x="406.5" y="202" width="70" height="205.3"/><rect x="414.5" y="348.5" width="71" height="58.8"/><rect x="423.5" y="279.4" width="70" height="127.9"/><rect x="432.5" y="265.9" width="70" height="141.5"/><rect x="441.5" y="192.8" width="70" height="214.6"/><rect x="449.5" y="234.3" width="71" height="173.1"/><rect x="458.5" y="240.8" width="70" height="166.6"/><rect x="467.5" y="346.9" width="70" height="60.5"/><rect x="476.5" y="344.8" width="70" height="62.5"/><rect x="485.5" y="322.3" width="70" height="85"/><rect x="493.5" y="360.5" width="70" height="46.8"/><rect x="502.5" y="224" width="70" height="183.4"/><rect x="511.5" y="212.7" width="70" height="194.7"/><rect x="520.5" y="204.1" width="70" height="203.3"/><rect x="528.5" y="303.1" width="71" height="104.3"/><rect x="537.5" y="343.4" width="70" height="64"/><rect x="546.5" y="277.2" width="70" height="130.2"/><rect x="555.5" y="230.4" width="70" height="177"/><rect x="563.5" y="252.4" width="71" height="155"/><rect x="572.5" y="291.3" width="70" height="116"/><rect x="581.5" y="268.8" width="70" height="138.6"/><rect x="590.5" y="250.8" width="70" height="156.6"/><rect x="599.5" y="210.6" width="70" height="196.7"/><rect x="607.5" y="365.3" width="70" height="42"/><rect x="616.5" y="283.9" width="70" height="123.4"/><rect x="625.5" y="294.3" width="70" height="113"/><rect x="634.5" y="258.7" width="70" height="148.7"/><rect x="642.5" y="311.6" width="71" height="95.7"/><rect x="651.5" y="310.2" width="70" height="97.1"/><rect x="660.5" y="371.9" width="70" height="35.4"/><rect x="669.5" y="238.2" width="70" height="169.2"/><rect x="677.5" y="273.7" width="71" height="133.6"/><rect x="686.5" y="308.4" width="70" height="98.9"/><rect x="695.5" y="241.4" width="70" height="165.9"/><rect x="704.5" y="261" width="70" height="146.3"/><rect x="713.5" y="291.6" width="70" height="115.8"/><rect x="721.5" y="304.6" width="71" height="102.8"/><rect x="730.5" y="304.5" width="70" height="102.9"/><rect x="739.5" y="302.4" width="70" height="104.9"/><rect x="748.5" y="292.5" width="70" height="114.8"/><rect x="756.5" y="332" width="71" height="75.4"/><rect x="765.5" y="284.3" width="70" height="123"/><rect x="774.5" y="301" width="70" height="106.3"/><rect x="783.5" y="320.1" width="70" height="87.3"/><rect x="792.5" y="308.3" width="70" height="99.1"/><rect x="800.5" y="308.2" width="70" height="99.1"/><rect x="809.5" y="347" width="70" height="60.3"/><rect x="818.5" y="386.9" width="70" height="20.5"/><rect x="827.5" y="346.1" width="70" height="61.3"/><rect x="835.5" y="335.5" width="71" height="71.9"/><rect x="844.5" y="292.6" width="70" height="114.7"/><rect x="853.5" y="354" width="70" height="53.4"/><rect x="862.5" y="321.7" width="70" height="85.6"/><rect x="870.5" y="334.1" width="71" height="73.2"/><rect x="879.5" y="342.4" width="70" height="65"/><rect x="888.5" y="353" width="70" height="54.3"/><rect x="897.5" y="396.2" width="70" height="11.2"/><rect x="906.5" y="364.6" width="70" height="42.8"/><rect x="914.5" y="373.8" width="71" height="33.6"/><rect x="923.5" y="373.4" width="70" height="33.9"/><rect x="932.5" y="349.9" width="70" height="57.4"/><rect x="941.5" y="395.9" width="70" height="11.5"/><rect x="949.5" y="372.7" width="71" height="34.7"/><rect x="958.5" y="372.1" width="70" height="35.3"/><rect x="967.5" y="372.6" width="70" height="34.8"/><rect x="976.5" y="383.4" width="70" height="24"/><rect x="985.5" y="383.7" width="70" height="23.6"/><rect x="993.5" y="383.2" width="70" height="24.1"/><rect x="1002.5" y="382.4" width="70" height="25"/><rect x="1011.5" y="382.3" width="70" height="25.1"/><rect x="1020.5" y="382" width="70" height="25.3"/><rect x="1028.5" y="381.5" width="71" height="25.9"/><rect x="1037.5" y="368.5" width="70" height="38.8"/><rect x="1046.5" y="394.3" width="70" height="13.1"/><rect x="1055.5" y="394.4" width="70" height="13"/><rect x="1063.5" y="381" width="71" height="26.3"/><rect x="1081.5" y="380.5" width="70" height="26.9"/><rect x="1099.5" y="393.4" width="70" height="14"/><rect x="1107.5" y="378.6" width="71" height="28.8"/><rect x="1116.5" y="393.3" width="70" height="14.1"/><rect x="1134.5" y="378.5" width="70" height="28.9"/><rect x="1142.5" y="378" width="71" height="29.3"/><rect x="1160.5" y="376.4" width="70" height="31"/><rect x="1178.5" y="375.7" width="70" height="31.7"/><rect x="1186.5" y="375.7" width="70" height="31.6"/><rect x="1476.5" y="380" width="70" height="27.3"/><rect x="230.5" y="407.4" width="70" height="99.9"/><rect x="239.5" y="407.4" width="70" height="30.6"/><rect x="248.5" y="407.4" width="70" height="58.5"/><rect x="256.5" y="407.4" width="71" height="53"/><rect x="274.5" y="407.4" width="70" height="23.9"/><rect x="283.5" y="407.4" width="70" height="44.5"/><rect x="292.5" y="407.4" width="70" height="21.2"/><rect x="300.5" y="407.4" width="70" height="39.7"/><rect x="309.5" y="407.4" width="70" height="19.5"/><rect x="318.5" y="407.4" width="70" height="36.1"/><rect x="327.5" y="407.4" width="70" height="71.7"/><rect x="335.5" y="407.4" width="71" height="102.5"/><rect x="344.5" y="407.4" width="70" height="64.2"/><rect x="353.5" y="407.4" width="70" height="15.6"/><rect x="362.5" y="407.4" width="70" height="44.7"/><rect x="370.5" y="407.4" width="71" height="15"/><rect x="379.5" y="407.4" width="70" height="28"/><rect x="388.5" y="407.4" width="70" height="82.6"/><rect x="397.5" y="407.4" width="70" height="67.1"/><rect x="406.5" y="407.4" width="70" height="39.2"/><rect x="414.5" y="407.4" width="71" height="12.8"/><rect x="423.5" y="407.4" width="70" height="84.8"/><rect x="432.5" y="407.4" width="70" height="68.7"/><rect x="441.5" y="407.4" width="70" height="23.3"/><rect x="449.5" y="407.4" width="71" height="34"/><rect x="458.5" y="407.4" width="70" height="63.2"/><rect x="476.5" y="407.4" width="70" height="41.8"/><rect x="485.5" y="407.4" width="70" height="30.2"/><rect x="493.5" y="407.4" width="70" height="29.7"/><rect x="502.5" y="407.4" width="70" height="112.8"/><rect x="511.5" y="407.4" width="70" height="46.4"/><rect x="520.5" y="407.4" width="70" height="45.2"/><rect x="528.5" y="407.4" width="71" height="93.3"/><rect x="537.5" y="407.4" width="70" height="8.9"/><rect x="546.5" y="407.4" width="70" height="43.1"/><rect x="555.5" y="407.4" width="70" height="16.7"/><rect x="563.5" y="407.4" width="71" height="75.2"/><rect x="572.5" y="407.4" width="70" height="90.2"/><rect x="581.5" y="407.4" width="70" height="24"/><rect x="590.5" y="407.4" width="70" height="46.2"/><rect x="599.5" y="407.4" width="70" height="75.9"/><rect x="607.5" y="407.4" width="70" height="36.9"/><rect x="616.5" y="407.4" width="70" height="79.3"/><rect x="625.5" y="407.4" width="70" height="44.3"/><rect x="634.5" y="407.4" width="70" height="21.4"/><rect x="642.5" y="407.4" width="71" height="71.6"/><rect x="651.5" y="407.4" width="70" height="97.7"/><rect x="660.5" y="407.4" width="70" height="47.8"/><rect x="669.5" y="407.4" width="70" height="67.1"/><rect x="677.5" y="407.4" width="71" height="26.6"/><rect x="686.5" y="407.4" width="70" height="27.2"/><rect x="695.5" y="407.4" width="70" height="13.1"/><rect x="704.5" y="407.4" width="70" height="37.6"/><rect x="713.5" y="407.4" width="70" height="19.2"/><rect x="721.5" y="407.4" width="71" height="24.5"/><rect x="730.5" y="407.4" width="70" height="53.3"/><rect x="739.5" y="407.4" width="70" height="11.5"/><rect x="748.5" y="407.4" width="70" height="28.5"/><rect x="756.5" y="407.4" width="71" height="11.8"/><rect x="774.5" y="407.4" width="70" height="5.6"/><rect x="783.5" y="407.4" width="70" height="5.6"/><rect x="792.5" y="407.4" width="70" height="21.5"/><rect x="800.5" y="407.4" width="70" height="16.3"/><rect x="818.5" y="407.4" width="70" height="26.8"/><rect x="827.5" y="407.4" width="70" height="10.4"/><rect x="835.5" y="407.4" width="71" height="35.7"/><rect x="844.5" y="407.4" width="70" height="5.2"/><rect x="853.5" y="407.4" width="70" height="30.7"/><rect x="862.5" y="407.4" width="70" height="5"/><rect x="870.5" y="407.4" width="71" height="4.9"/><rect x="879.5" y="407.4" width="70" height="5"/><rect x="888.5" y="407.4" width="70" height="9.7"/><rect x="897.5" y="407.4" width="70" height="38.3"/><rect x="906.5" y="407.4" width="70" height="14.5"/><rect x="914.5" y="407.4" width="71" height="4.7"/><rect x="923.5" y="407.4" width="70" height="8.9"/><rect x="932.5" y="407.4" width="70" height="14.1"/><rect x="949.5" y="407.4" width="71" height="9"/><rect x="958.5" y="407.4" width="70" height="8.8"/><rect x="967.5" y="407.4" width="70" height="4.3"/><rect x="976.5" y="407.4" width="70" height="12.9"/><rect x="993.5" y="407.4" width="70" height="8.6"/><rect x="1011.5" y="407.4" width="70" height="8.2"/><rect x="1028.5" y="407.4" width="71" height="4.2"/><rect x="1037.5" y="407.4" width="70" height="16.8"/><rect x="1046.5" y="407.4" width="70" height="12.2"/><rect x="1055.5" y="407.4" width="70" height="4.1"/><rect x="1063.5" y="407.4" width="71" height="12"/><rect x="1081.5" y="407.4" width="70" height="11.7"/><rect x="1090.5" y="407.4" width="70" height="3.7"/><rect x="1099.5" y="407.4" width="70" height="3.7"/><rect x="1142.5" y="407.4" width="71" height="10.9"/><rect x="1151.5" y="407.4" width="70" height="7.2"/><rect x="1160.5" y="407.4" width="70" height="7.2"/><rect x="1178.5" y="407.4" width="70" height="3.5"/><rect x="1213.5" y="407.4" width="70" height="3.4"/><rect x="1230.5" y="407.4" width="70" height="3.4"/><rect x="1239.5" y="407.4" width="70" height="10"/><rect x="1256.5" y="407.4" width="71" height="3.3"/><rect x="1292.5" y="407.4" width="70" height="3.2"/><rect x="1318.5" y="407.4" width="70" height="3.2"/><rect x="1335.5" y="407.4" width="71" height="3"/><rect x="1537.5" y="407.4" width="70" height="2.6"/></g>
<g fill="#ffa500" fill-opacity=".6" stroke="#000" stroke-opacity=".6"><rect x="186.5" y="399.5" width="70" height="7.9"/><rect x="204.5" y="390.5" width="70" height="16.9"/><rect x="213.5" y="399.5" width="70" height="7.9"/><rect x="221.5" y="374.5" width="71" height="32.9"/><rect x="230.5" y="390.5" width="70" height="16.9"/><rect x="239.5" y="333.5" width="70" height="73.9"/><rect x="248.5" y="350.5" width="70" height="56.9"/><rect x="256.5" y="358.5" width="71" height="48.9"/><rect x="265.5" y="366.5" width="70" height="40.9"/><rect x="274.5" y="260.5" width="70" height="146.9"/><rect x="283.5" y="325.5" width="70" height="81.9"/><rect x="292.5" y="374.5" width="70" height="32.9"/><rect x="300.5" y="382.5" width="70" height="24.9"/><rect x="309.5" y="260.5" width="70" height="146.9"/><rect x="318.5" y="235.5" width="70" height="171.9"/><rect x="327.5" y="284.5" width="70" height="122.9"/><rect x="335.5" y="350.5" width="71" height="56.9"/><rect x="344.5" y="350.5" width="70" height="56.9"/><rect x="353.5" y="219.5" width="70" height="187.9"/><rect x="362.5" y="243.5" width="70" height="163.9"/><rect x="370.5" y="260.5" width="71" height="146.9"/><rect x="379.5" y="251.5" width="70" height="155.9"/><rect x="388.5" y="243.5" width="70" height="163.9"/><rect x="397.5" y="284.5" width="70" height="122.9"/><rect x="406.5" y="243.5" width="70" height="163.9"/><rect x="414.5" y="292.5" width="71" height="114.9"/><rect x="423.5" y="161.5" width="70" height="245.9"/><rect x="432.5" y="178.5" width="70" height="228.9"/><rect x="441.5" y="300.5" width="70" height="106.9"/><rect x="449.5" y="325.5" width="71" height="81.9"/><rect x="458.5" y="145.5" width="70" height="261.9"/><rect x="467.5" y="170.5" width="70" height="236.9"/><rect x="476.5" y="202.5" width="70" height="204.9"/><rect x="485.5" y="219.5" width="70" height="187.9"/><rect x="493.5" y="309.5" width="70" height="97.9"/><rect x="502.5" y="235.5" width="70" height="171.9"/><rect x="511.5" y="219.5" width="70" height="187.9"/><rect x="520.5" y="284.5" width="70" height="122.9"/><rect x="528.5" y="104.5" width="71" height="302.9"/><rect x="537.5" y="194.5" width="70" height="212.9"/><rect x="546.5" y="219.5" width="70" height="187.9"/><rect x="555.5" y="317.5" width="70" height="89.9"/><rect x="563.5" y="219.5" width="71" height="187.9"/><rect x="572.5" y="260.5" width="70" height="146.9"/><rect x="581.5" y="284.5" width="70" height="122.9"/><rect x="590.5" y="284.5" width="70" height="122.9"/><rect x="599.5" y="219.5" width="70" height="187.9"/><rect x="607.5" y="219.5" width="70" height="187.9"/><rect x="616.5" y="251.5" width="70" height="155.9"/><rect x="625.5" y="309.5" width="70" height="97.9"/><rect x="634.5" y="284.5" width="70" height="122.9"/><rect x="642.5" y="292.5" width="71" height="114.9"/><rect x="651.5" y="284.5" width="70" height="122.9"/><rect x="660.5" y="300.5" width="70" height="106.9"/><rect x="669.5" y="260.5" width="70" height="146.9"/><rect x="677.5" y="268.5" width="71" height="138.9"/><rect x="686.5" y="284.5" width="70" height="122.9"/><rect x="695.5" y="268.5" width="70" height="138.9"/><rect x="704.5" y="350.5" width="70" height="56.9"/><rect x="713.5" y="284.5" width="70" height="122.9"/><rect x="721.5" y="350.5" width="71" height="56.9"/><rect x="730.5" y="300.5" width="70" height="106.9"/><rect x="739.5" y="284.5" width="70" height="122.9"/><rect x="748.5" y="325.5" width="70" height="81.9"/><rect x="756.5" y="292.5" width="71" height="114.9"/><rect x="765.5" y="325.5" width="70" height="81.9"/><rect x="774.5" y="300.5" width="70" height="106.9"/><rect x="783.5" y="325.5" width="70" height="81.9"/><rect x="792.5" y="374.5" width="70" height="32.9"/><rect x="800.5" y="300.5" width="70" height="106.9"/><rect x="809.5" y="341.5" width="70" height="65.9"/><rect x="818.5" y="358.5" width="70" height="48.9"/><rect x="827.5" y="358.5" width="70" height="48.9"/><rect x="835.5" y="341.5" width="71" height="65.9"/><rect x="844.5" y="358.5" width="70" height="48.9"/><rect x="853.5" y="358.5" width="70" height="48.9"/><rect x="862.5" y="341.5" width="70" height="65.9"/><rect x="870.5" y="350.5" width="71" height="56.9"/><rect x="879.5" y="366.5" width="70" height="40.9"/><rect x="888.5" y="382.5" width="70" height="24.9"/><rect x="897.5" y="374.5" width="70" height="32.9"/><rect x="906.5" y="382.5" width="70" height="24.9"/><rect x="914.5" y="382.5" width="71" height="24.9"/><rect x="923.5" y="374.5" width="70" height="32.9"/><rect x="932.5" y="366.5" width="70" height="40.9"/><rect x="941.5" y="390.5" width="70" height="16.9"/><rect x="949.5" y="382.5" width="71" height="24.9"/><rect x="958.5" y="382.5" width="70" height="24.9"/><rect x="967.5" y="382.5" width="70" height="24.9"/><rect x="976.5" y="382.5" width="70" height="24.9"/><rect x="985.5" y="382.5" width="70" height="24.9"/><rect x="993.5" y="390.5" width="70" height="16.9"/><rect x="1002.5" y="382.5" width="70" height="24.9"/><rect x="1011.5" y="390.5" width="70" height="16.9"/><rect x="1020.5" y="382.5" width="70" height="24.9"/><rect x="1028.5" y="382.5" width="71" height="24.9"/><rect x="1037.5" y="390.5" width="70" height="16.9"/><rect x="1055.5" y="382.5" width="70" height="24.9"/><rect x="1063.5" y="399.5" width="71" height="7.9"/><rect x="1081.5" y="399.5" width="70" height="7.9"/><rect x="1090.5" y="390.5" width="70" height="16.9"/><rect x="1099.5" y="399.5" width="70" height="7.9"/><rect x="1107.5" y="390.5" width="71" height="16.9"/><rect x="1125.5" y="399.5" width="70" height="7.9"/><rect x="1142.5" y="399.5" width="71" height="7.9"/><rect x="1151.5" y="390.5" width="70" height="16.9"/><rect x="1160.5" y="382.5" width="70" height="24.9"/><rect x="1169.5" y="399.5" width="70" height="7.9"/><rect x="1178.5" y="399.5" width="70" height="7.9"/><rect x="1186.5" y="399.5" width="70" height="7.9"/><rect x="1248.5" y="399.5" width="70" height="7.9"/><rect x="1274.5" y="399.5" width="70" height="7.9"/><rect x="1432.5" y="399.5" width="70" height="7.9"/></g>
<g fill="#87ceeb" fill-opacity=".6" stroke="#000" stroke-opacity=".6"><rect x="239.5" y="407.4" width="70" height="8.1"/><rect x="248.5" y="407.4" width="70" height="8.1"/><rect x="256.5" y="407.4" width="71" height="16.1"/><rect x="265.5" y="407.4" width="70" height="16.1"/><rect x="274.5" y="407.4" width="70" height="16.1"/><rect x="283.5" y="407.4" width="70" height="16.1"/><rect x="292.5" y="407.4" width="70" height="24.1"/><rect x="300.5" y="407.4" width="70" height="16.1"/><rect x="309.5" y="407.4" width="70" height="16.1"/><rect x="318.5" y="407.4" width="70" height="8.1"/><rect x="327.5" y="407.4" width="70" height="8.1"/><rect x="335.5" y="407.4" width="71" height="57.1"/><rect x="344.5" y="407.4" width="70" height="16.1"/><rect x="353.5" y="407.4" width="70" height="24.1"/><rect x="362.5" y="407.4" width="70" height="33.1"/><rect x="370.5" y="407.4" width="71" height="8.1"/><rect x="388.5" y="407.4" width="70" height="65.1"/><rect x="397.5" y="407.4" width="70" height="49.1"/><rect x="406.5" y="407.4" width="70" height="65.1"/><rect x="423.5" y="407.4" width="70" height="33.1"/><rect x="432.5" y="407.4" width="70" height="73.1"/><rect x="441.5" y="407.4" width="70" height="16.1"/><rect x="449.5" y="407.4" width="71" height="49.1"/><rect x="458.5" y="407.4" width="70" height="82.1"/><rect x="467.5" y="407.4" width="70" height="16.1"/><rect x="476.5" y="407.4" width="70" height="24.1"/><rect x="485.5" y="407.4" width="70" height="98.1"/><rect x="493.5" y="407.4" width="70" height="139.1"/><rect x="502.5" y="407.4" width="70" height="16.1"/><rect x="511.5" y="407.4" width="70" height="82.1"/><rect x="520.5" y="407.4" width="70" height="106.1"/><rect x="528.5" y="407.4" width="71" height="73.1"/><rect x="537.5" y="407.4" width="70" height="33.1"/><rect x="546.5" y="407.4" width="70" height="24.1"/><rect x="555.5" y="407.4" width="70" height="82.1"/><rect x="563.5" y="407.4" width="71" height="90.1"/><rect x="572.5" y="407.4" width="70" height="57.1"/><rect x="581.5" y="407.4" width="70" height="16.1"/><rect x="590.5" y="407.4" width="70" height="24.1"/><rect x="599.5" y="407.4" width="70" height="65.1"/><rect x="607.5" y="407.4" width="70" height="33.1"/><rect x="616.5" y="407.4" width="70" height="8.1"/><rect x="625.5" y="407.4" width="70" height="57.1"/><rect x="634.5" y="407.4" width="70" height="33.1"/><rect x="642.5" y="407.4" width="71" height="16.1"/><rect x="651.5" y="407.4" width="70" height="24.1"/><rect x="660.5" y="407.4" width="70" height="57.1"/><rect x="669.5" y="407.4" width="70" height="82.1"/><rect x="677.5" y="407.4" width="71" height="57.1"/><rect x="686.5" y="407.4" width="70" height="90.1"/><rect x="695.5" y="407.4" width="70" height="16.1"/><rect x="704.5" y="407.4" width="70" height="8.1"/><rect x="713.5" y="407.4" width="70" height="33.1"/><rect x="721.5" y="407.4" width="71" height="57.1"/><rect x="730.5" y="407.4" width="70" height="57.1"/><rect x="739.5" y="407.4" width="70" height="82.1"/><rect x="748.5" y="407.4" width="70" height="65.1"/><rect x="756.5" y="407.4" width="71" height="65.1"/><rect x="765.5" y="407.4" width="70" height="24.1"/><rect x="774.5" y="407.4" width="70" height="16.1"/><rect x="783.5" y="407.4" width="70" height="24.1"/><rect x="792.5" y="407.4" width="70" height="33.1"/><rect x="800.5" y="407.4" width="70" height="8.1"/><rect x="809.5" y="407.4" width="70" height="8.1"/><rect x="818.5" y="407.4" width="70" height="49.1"/><rect x="827.5" y="407.4" width="70" height="33.1"/><rect x="844.5" y="407.4" width="70" height="8.1"/><rect x="853.5" y="407.4" width="70" height="8.1"/><rect x="862.5" y="407.4" width="70" height="16.1"/><rect x="870.5" y="407.4" width="71" height="24.1"/><rect x="888.5" y="407.4" width="70" height="16.1"/><rect x="897.5" y="407.4" width="70" height="8.1"/><rect x="914.5" y="407.4" width="71" height="57.1"/><rect x="932.5" y="407.4" width="70" height="8.1"/><rect x="941.5" y="407.4" width="70" height="41.1"/><rect x="958.5" y="407.4" width="70" height="16.1"/><rect x="967.5" y="407.4" width="70" height="16.1"/><rect x="976.5" y="407.4" width="70" height="16.1"/><rect x="985.5" y="407.4" width="70" height="24.1"/><rect x="1002.5" y="407.4" width="70" height="16.1"/><rect x="1011.5" y="407.4" width="70" height="8.1"/><rect x="1028.5" y="407.4" width="71" height="8.1"/><rect x="1063.5" y="407.4" width="71" height="8.1"/><rect x="1072.5" y="407.4" width="70" height="16.1"/><rect x="1081.5" y="407.4" width="70" height="16.1"/><rect x="1090.5" y="407.4" width="70" height="8.1"/><rect x="1107.5" y="407.4" width="71" height="8.1"/><rect x="1125.5" y="407.4" width="70" height="24.1"/><rect x="1134.5" y="407.4" width="70" height="8.1"/><rect x="1151.5" y="407.4" width="70" height="8.1"/><rect x="1169.5" y="407.4" width="70" height="8.1"/><rect x="1178.5" y="407.4" width="70" height="8.1"/><rect x="1186.5" y="407.4" width="70" height="33.1"/><rect x="1204.5" y="407.4" width="70" height="8.1"/><rect x="1221.5" y="407.4" width="71" height="16.1"/><rect x="1256.5" y="407.4" width="71" height="16.1"/><rect x="1283.5" y="407.4" width="70" height="8.1"/><rect x="1292.5" y="407.4" width="70" height="8.1"/><rect x="1309.5" y="407.4" width="70" height="16.1"/><rect x="1327.5" y="407.4" width="70" height="8.1"/><rect x="1388.5" y="407.4" width="70" height="8.1"/></g>
<g fill="#808080" fill-opacity=".1" stroke="#000" stroke-opacity=".1"><rect x="186.5" y="401.1" width="70" height="6.2"/><rect x="204.5" y="394.9" width="70" height="12.5"/><rect x="213.5" y="400.7" width="70" height="6.6"/><rect x="221.5" y="381.8" width="71" height="25.6"/><rect x="230.5" y="394.2" width="70" height="13.2"/><rect x="239.5" y="348.4" width="70" height="59"/><rect x="248.5" y="359.7" width="70" height="47.6"/><rect x="256.5" y="366.6" width="71" height="40.8"/><rect x="265.5" y="374.9" width="70" height="32.4"/><rect x="274.5" y="286.8" width="70" height="120.5"/><rect x="283.5" y="339.7" width="70" height="67.7"/><rect x="292.5" y="380.9" width="70" height="26.4"/><rect x="300.5" y="387" width="70" height="20.4"/><rect x="309.5" y="282.4" width="70" height="125"/><rect x="318.5" y="264.9" width="70" height="142.4"/><rect x="327.5" y="304.4" width="70" height="103"/><rect x="335.5" y="359" width="71" height="48.4"/><rect x="344.5" y="358.3" width="70" height="49.1"/><rect x="353.5" y="243.2" width="70" height="164.2"/><rect x="362.5" y="264.4" width="70" height="143"/><rect x="370.5" y="281.7" width="71" height="125.7"/><rect x="379.5" y="273.6" width="70" height="133.8"/><rect x="388.5" y="262.7" width="70" height="144.7"/><rect x="397.5" y="296.5" width="70" height="110.9"/><rect x="406.5" y="262.6" width="70" height="144.7"/><rect x="414.5" y="305.9" width="71" height="101.5"/><rect x="423.5" y="185.7" width="70" height="221.6"/><rect x="432.5" y="200.1" width="70" height="207.2"/><rect x="441.5" y="309.9" width="70" height="97.4"/><rect x="449.5" y="332.4" width="71" height="75"/><rect x="458.5" y="164.4" width="70" height="243"/><rect x="467.5" y="188.8" width="70" height="218.6"/><rect x="476.5" y="215.7" width="70" height="191.7"/><rect x="485.5" y="227.9" width="70" height="179.4"/><rect x="493.5" y="313.7" width="70" height="93.7"/><rect x="502.5" y="243.1" width="70" height="164.3"/><rect x="511.5" y="228.1" width="70" height="179.2"/><rect x="520.5" y="290.7" width="70" height="116.6"/><rect x="528.5" y="112.5" width="71" height="294.9"/><rect x="537.5" y="198.8" width="70" height="208.6"/><rect x="546.5" y="222.5" width="70" height="184.9"/><rect x="555.5" y="316" width="70" height="91.4"/><rect x="563.5" y="219.1" width="71" height="188.2"/><rect x="572.5" y="256" width="70" height="151.4"/><rect x="581.5" y="279.2" width="70" height="128.1"/><rect x="590.5" y="279.8" width="70" height="127.6"/><rect x="599.5" y="214.6" width="70" height="192.7"/><rect x="607.5" y="211.2" width="70" height="196.2"/><rect x="616.5" y="245.8" width="70" height="161.5"/><rect x="625.5" y="303.9" width="70" height="103.4"/><rect x="634.5" y="277" width="70" height="130.4"/><rect x="642.5" y="287.7" width="71" height="119.6"/><rect x="651.5" y="275.8" width="70" height="131.5"/><rect x="660.5" y="291.9" width="70" height="115.4"/><rect x="669.5" y="245.5" width="70" height="161.9"/><rect x="677.5" y="254.1" width="71" height="153.3"/><rect x="686.5" y="271.5" width="70" height="135.8"/><rect x="695.5" y="253.1" width="70" height="154.2"/><rect x="704.5" y="342" width="70" height="65.4"/><rect x="713.5" y="269.7" width="70" height="137.7"/><rect x="721.5" y="342.7" width="71" height="64.7"/><rect x="730.5" y="285.2" width="70" height="122.2"/><rect x="739.5" y="265.9" width="70" height="141.5"/><rect x="748.5" y="313.8" width="70" height="93.6"/><rect x="756.5" y="271.4" width="71" height="136"/><rect x="765.5" y="308.9" width="70" height="98.5"/><rect x="774.5" y="280" width="70" height="127.4"/><rect x="783.5" y="308.8" width="70" height="98.5"/><rect x="792.5" y="367.5" width="70" height="39.8"/><rect x="800.5" y="275.4" width="70" height="131.9"/><rect x="809.5" y="327.7" width="70" height="79.6"/><rect x="818.5" y="346.2" width="70" height="61.2"/><rect x="827.5" y="344.7" width="70" height="62.7"/><rect x="835.5" y="325.5" width="71" height="81.8"/><rect x="844.5" y="344" width="70" height="63.3"/><rect x="853.5" y="346" width="70" height="61.4"/><rect x="862.5" y="321.2" width="70" height="86.2"/><rect x="870.5" y="330.4" width="71" height="76.9"/><rect x="879.5" y="352.6" width="70" height="54.8"/><rect x="888.5" y="374.4" width="70" height="33"/><rect x="897.5" y="363.9" width="70" height="43.4"/><rect x="906.5" y="374.5" width="70" height="32.9"/><rect x="914.5" y="374.2" width="71" height="33.1"/><rect x="923.5" y="361.7" width="70" height="45.6"/><rect x="932.5" y="350.4" width="70" height="57"/><rect x="941.5" y="383.9" width="70" height="23.4"/><rect x="949.5" y="372.6" width="71" height="34.8"/><rect x="958.5" y="371.7" width="70" height="35.6"/><rect x="967.5" y="371.5" width="70" height="35.8"/><rect x="976.5" y="371.4" width="70" height="35.9"/><rect x="985.5" y="371.3" width="70" height="36"/><rect x="993.5" y="382.6" width="70" height="24.7"/><rect x="1002.5" y="371.6" width="70" height="35.7"/><rect x="1011.5" y="381.5" width="70" height="25.8"/><rect x="1020.5" y="369.8" width="70" height="37.5"/><rect x="1028.5" y="368.8" width="71" height="38.5"/><rect x="1037.5" y="380.8" width="70" height="26.5"/><rect x="1055.5" y="368.4" width="70" height="38.9"/><rect x="1063.5" y="393.8" width="71" height="13.5"/><rect x="1081.5" y="393.8" width="70" height="13.6"/><rect x="1090.5" y="379.9" width="70" height="27.4"/><rect x="1099.5" y="393.4" width="70" height="14"/><rect x="1107.5" y="379.3" width="71" height="28"/><rect x="1125.5" y="393.1" width="70" height="14.2"/><rect x="1142.5" y="392.9" width="71" height="14.4"/><rect x="1151.5" y="377.3" width="70" height="30.1"/><rect x="1160.5" y="362.1" width="70" height="45.3"/><rect x="1169.5" y="392" width="70" height="15.4"/><rect x="1178.5" y="392" width="70" height="15.3"/><rect x="1186.5" y="391.3" width="70" height="16"/><rect x="1248.5" y="390.1" width="70" height="17.2"/><rect x="1274.5" y="389.3" width="70" height="18"/><rect x="1432.5" y="382.8" width="70" height="24.6"/><rect x="239.5" y="407.4" width="70" height="29.7"/><rect x="248.5" y="407.4" width="70" height="28.6"/><rect x="256.5" y="407.4" width="71" height="53.7"/><rect x="265.5" y="407.4" width="70" height="51.6"/><rect x="274.5" y="407.4" width="70" height="46.5"/><rect x="283.5" y="407.4" width="70" height="44.5"/><rect x="292.5" y="407.4" width="70" height="64.2"/><rect x="300.5" y="407.4" width="70" height="39.9"/><rect x="309.5" y="407.4" width="70" height="38.1"/><rect x="318.5" y="407.4" width="70" height="19"/><rect x="327.5" y="407.4" width="70" height="17.8"/><rect x="335.5" y="407.4" width="71" height="119.8"/><rect x="344.5" y="407.4" width="70" height="32.2"/><rect x="353.5" y="407.4" width="70" height="48.3"/><rect x="362.5" y="407.4" width="70" height="62"/><rect x="370.5" y="407.4" width="71" height="15.3"/><rect x="388.5" y="407.4" width="70" height="112.9"/><rect x="397.5" y="407.4" width="70" height="81.6"/><rect x="406.5" y="407.4" width="70" height="103.3"/><rect x="423.5" y="407.4" width="70" height="47.9"/><rect x="432.5" y="407.4" width="70" height="104.9"/><rect x="441.5" y="407.4" width="70" height="22.9"/><rect x="449.5" y="407.4" width="71" height="68"/><rect x="458.5" y="407.4" width="70" height="111.2"/><rect x="467.5" y="407.4" width="70" height="20.8"/><rect x="476.5" y="407.4" width="70" height="31.4"/><rect x="485.5" y="407.4" width="70" height="122.7"/><rect x="493.5" y="407.4" width="70" height="168.2"/><rect x="502.5" y="407.4" width="70" height="18.9"/><rect x="511.5" y="407.4" width="70" height="92"/><rect x="520.5" y="407.4" width="70" height="120.2"/><rect x="528.5" y="407.4" width="71" height="81"/><rect x="537.5" y="407.4" width="70" height="35.3"/><rect x="546.5" y="407.4" width="70" height="26.8"/><rect x="555.5" y="407.4" width="70" height="83.7"/><rect x="563.5" y="407.4" width="71" height="88.9"/><rect x="572.5" y="407.4" width="70" height="56.4"/><rect x="581.5" y="407.4" width="70" height="16.5"/><rect x="590.5" y="407.4" width="70" height="23.5"/><rect x="599.5" y="407.4" width="70" height="62.5"/><rect x="607.5" y="407.4" width="70" height="30.7"/><rect x="616.5" y="407.4" width="70" height="7.8"/><rect x="625.5" y="407.4" width="70" height="50.5"/><rect x="634.5" y="407.4" width="70" height="29"/><rect x="642.5" y="407.4" width="71" height="14.3"/><rect x="651.5" y="407.4" width="70" height="20.8"/><rect x="660.5" y="407.4" width="70" height="48.2"/><rect x="669.5" y="407.4" width="70" height="65.2"/><rect x="677.5" y="407.4" width="71" height="46.9"/><rect x="686.5" y="407.4" width="70" height="72"/><rect x="695.5" y="407.4" width="70" height="13.1"/><rect x="704.5" y="407.4" width="70" height="6.3"/><rect x="713.5" y="407.4" width="70" height="24.2"/><rect x="721.5" y="407.4" width="71" height="42.7"/><rect x="730.5" y="407.4" width="70" height="43.1"/><rect x="739.5" y="407.4" width="70" height="60"/><rect x="748.5" y="407.4" width="70" height="45.2"/><rect x="756.5" y="407.4" width="71" height="46.4"/><rect x="765.5" y="407.4" width="70" height="17.2"/><rect x="774.5" y="407.4" width="70" height="11.3"/><rect x="783.5" y="407.4" width="70" height="16.9"/><rect x="792.5" y="407.4" width="70" height="22.6"/><rect x="800.5" y="407.4" width="70" height="5.6"/><rect x="809.5" y="407.4" width="70" height="5.5"/><rect x="818.5" y="407.4" width="70" height="31.8"/><rect x="827.5" y="407.4" width="70" height="21.8"/><rect x="844.5" y="407.4" width="70" height="5"/><rect x="853.5" y="407.4" width="70" height="5"/><rect x="862.5" y="407.4" width="70" height="10"/><rect x="870.5" y="407.4" width="71" height="14.9"/><rect x="888.5" y="407.4" width="70" height="9.7"/><rect x="897.5" y="407.4" width="70" height="4.9"/><rect x="914.5" y="407.4" width="71" height="32.8"/><rect x="932.5" y="407.4" width="70" height="4.7"/><rect x="941.5" y="407.4" width="70" height="22.3"/><rect x="958.5" y="407.4" width="70" height="8.6"/><rect x="967.5" y="407.4" width="70" height="8.6"/><rect x="976.5" y="407.4" width="70" height="8.5"/><rect x="985.5" y="407.4" width="70" height="12.8"/><rect x="1002.5" y="407.4" width="70" height="8.4"/><rect x="1011.5" y="407.4" width="70" height="4.2"/><rect x="1028.5" y="407.4" width="71" height="4"/><rect x="1063.5" y="407.4" width="71" height="3.9"/><rect x="1072.5" y="407.4" width="70" height="7.8"/><rect x="1081.5" y="407.4" width="70" height="7.8"/><rect x="1090.5" y="407.4" width="70" height="3.9"/><rect x="1107.5" y="407.4" width="71" height="3.7"/><rect x="1125.5" y="407.4" width="70" height="11"/><rect x="1134.5" y="407.4" width="70" height="3.7"/><rect x="1151.5" y="407.4" width="70" height="3.6"/><rect x="1169.5" y="407.4" width="70" height="3.6"/><rect x="1178.5" y="407.4" width="70" height="3.4"/><rect x="1186.5" y="407.4" width="70" height="14"/><rect x="1204.5" y="407.4" width="70" height="3.4"/><rect x="1221.5" y="407.4" width="71" height="7"/><rect x="1256.5" y="407.4" width="71" height="6.6"/><rect x="1283.5" y="407.4" width="70" height="3.3"/><rect x="1292.5" y="407.4" width="70" height="3.2"/><rect x="1309.5" y="407.4" width="70" height="6.2"/><rect x="1327.5" y="407.4" width="70" height="3"/><rect x="1388.5" y="407.4" width="70" height="2.9"/></g>
<g fill="#ffa500" fill-opacity=".6" stroke="#000" stroke-opacity=".6"><rect x="177.5" y="390.5" width="71" height="16.9"/><rect x="204.5" y="390.5" width="70" height="16.9"/><rect x="213.5" y="390.5" width="70" height="16.9"/><rect x="221.5" y="390.5" width="71" height="16.9"/><rect x="230.5" y="390.5" width="70" height="16.9"/><rect x="239.5" y="366.5" width="70" height="40.9"/><rect x="248.5" y="350.5" width="70" height="56.9"/><rect x="256.5" y="382.5" width="71" height="24.9"/><rect x="265.5" y="325.5" width="70" height="81.9"/><rect x="274.5" y="325.5" width="70" height="81.9"/><rect x="283.5" y="309.5" width="70" height="97.9"/><rect x="292.5" y="374.5" width="70" height="32.9"/><rect x="300.5" y="260.5" width="70" height="146.9"/><rect x="309.5" y="260.5" width="70" height="146.9"/><rect x="318.5" y="235.5" width="70" height="171.9"/><rect x="327.5" y="251.5" width="70" height="155.9"/><rect x="335.5" y="202.5" width="71" height="204.9"/><rect x="344.5" y="260.5" width="70" height="146.9"/><rect x="353.5" y="317.5" width="70" height="89.9"/><rect x="362.5" y="284.5" width="70" height="122.9"/><rect x="370.5" y="268.5" width="71" height="138.9"/><rect x="379.5" y="243.5" width="70" height="163.9"/><rect x="388.5" y="243.5" width="70" height="163.9"/><rect x="397.5" y="300.5" width="70" height="106.9"/><rect x="406.5" y="300.5" width="70" height="106.9"/><rect x="414.5" y="251.5" width="71" height="155.9"/><rect x="423.5" y="202.5" width="70" height="204.9"/><rect x="432.5" y="251.5" width="70" height="155.9"/><rect x="441.5" y="194.5" width="70" height="212.9"/><rect x="449.5" y="129.5" width="71" height="277.9"/><rect x="458.5" y="170.5" width="70" height="236.9"/><rect x="467.5" y="260.5" width="70" height="146.9"/><rect x="476.5" y="268.5" width="70" height="138.9"/><rect x="485.5" y="325.5" width="70" height="81.9"/><rect x="493.5" y="186.5" width="70" height="220.9"/><rect x="502.5" y="202.5" width="70" height="204.9"/><rect x="511.5" y="161.5" width="70" height="245.9"/><rect x="520.5" y="251.5" width="70" height="155.9"/><rect x="528.5" y="202.5" width="71" height="204.9"/><rect x="537.5" y="219.5" width="70" height="187.9"/><rect x="546.5" y="243.5" width="70" height="163.9"/><rect x="555.5" y="317.5" width="70" height="89.9"/><rect x="563.5" y="251.5" width="71" height="155.9"/><rect x="572.5" y="194.5" width="70" height="212.9"/><rect x="581.5" y="202.5" width="70" height="204.9"/><rect x="590.5" y="178.5" width="70" height="228.9"/><rect x="599.5" y="341.5" width="70" height="65.9"/><rect x="607.5" y="268.5" width="70" height="138.9"/><rect x="616.5" y="300.5" width="70" height="106.9"/><rect x="625.5" y="260.5" width="70" height="146.9"/><rect x="634.5" y="284.5" width="70" height="122.9"/><rect x="642.5" y="292.5" width="71" height="114.9"/><rect x="651.5" y="317.5" width="70" height="89.9"/><rect x="660.5" y="292.5" width="70" height="114.9"/><rect x="669.5" y="243.5" width="70" height="163.9"/><rect x="677.5" y="292.5" width="71" height="114.9"/><rect x="686.5" y="300.5" width="70" height="106.9"/><rect x="695.5" y="325.5" width="70" height="81.9"/><rect x="704.5" y="317.5" width="70" height="89.9"/><rect x="713.5" y="333.5" width="70" height="73.9"/><rect x="721.5" y="325.5" width="71" height="81.9"/><rect x="730.5" y="276.5" width="70" height="130.9"/><rect x="739.5" y="374.5" width="70" height="32.9"/><rect x="748.5" y="292.5" width="70" height="114.9"/><rect x="756.5" y="292.5" width="71" height="114.9"/><rect x="765.5" y="366.5" width="70" height="40.9"/><rect x="774.5" y="300.5" width="70" height="106.9"/><rect x="783.5" y="317.5" width="70" height="89.9"/><rect x="792.5" y="358.5" width="70" height="48.9"/><rect x="800.5" y="325.5" width="70" height="81.9"/><rect x="809.5" y="350.5" width="70" height="56.9"/><rect x="818.5" y="366.5" width="70" height="40.9"/><rect x="827.5" y="374.5" width="70" height="32.9"/><rect x="835.5" y="350.5" width="71" height="56.9"/><rect x="844.5" y="374.5" width="70" height="32.9"/><rect x="853.5" y="358.5" width="70" height="48.9"/><rect x="862.5" y="358.5" width="70" height="48.9"/><rect x="870.5" y="350.5" width="71" height="56.9"/><rect x="879.5" y="358.5" width="70" height="48.9"/><rect x="888.5" y="358.5" width="70" height="48.9"/><rect x="897.5" y="358.5" width="70" height="48.9"/><rect x="906.5" y="374.5" width="70" height="32.9"/><rect x="914.5" y="358.5" width="71" height="48.9"/><rect x="923.5" y="382.5" width="70" height="24.9"/><rect x="932.5" y="382.5" width="70" height="24.9"/><rect x="941.5" y="374.5" width="70" height="32.9"/><rect x="949.5" y="390.5" width="71" height="16.9"/><rect x="958.5" y="382.5" width="70" height="24.9"/><rect x="967.5" y="382.5" width="70" height="24.9"/><rect x="976.5" y="382.5" width="70" height="24.9"/><rect x="985.5" y="382.5" width="70" height="24.9"/><rect x="993.5" y="390.5" width="70" height="16.9"/><rect x="1002.5" y="382.5" width="70" height="24.9"/><rect x="1011.5" y="390.5" width="70" height="16.9"/><rect x="1020.5" y="382.5" width="70" height="24.9"/><rect x="1028.5" y="390.5" width="71" height="16.9"/><rect x="1037.5" y="390.5" width="70" height="16.9"/><rect x="1055.5" y="390.5" width="70" height="16.9"/><rect x="1072.5" y="390.5" width="70" height="16.9"/><rect x="1081.5" y="399.5" width="70" height="7.9"/><rect x="1099.5" y="390.5" width="70" height="16.9"/><rect x="1107.5" y="390.5" width="71" height="16.9"/><rect x="1125.5" y="399.5" width="70" height="7.9"/><rect x="1134.5" y="390.5" width="70" height="16.9"/><rect x="1142.5" y="399.5" width="71" height="7.9"/><rect x="1151.5" y="399.5" width="70" height="7.9"/><rect x="1160.5" y="399.5" width="70" height="7.9"/><rect x="1169.5" y="390.5" width="70" height="16.9"/><rect x="1178.5" y="399.5" width="70" height="7.9"/><rect x="1186.5" y="374.5" width="70" height="32.9"/><rect x="1300.5" y="399.5" width="70" height="7.9"/></g>
<g fill="#87ceeb" fill-opacity=".6" stroke="#000" stroke-opacity=".6"><rect x="239.5" y="407.4" width="70" height="16.1"/><rect x="248.5" y="407.4" width="70" height="16.1"/><rect x="256.5" y="407.4" width="71" height="16.1"/><rect x="265.5" y="407.4" width="70" height="8.1"/><rect x="274.5" y="407.4" width="70" height="16.1"/><rect x="283.5" y="407.4" width="70" height="24.1"/><rect x="292.5" y="407.4" width="70" height="24.1"/><rect x="300.5" y="407.4" width="70" height="8.1"/><rect x="309.5" y="407.4" width="70" height="8.1"/><rect x="318.5" y="407.4" width="70" height="8.1"/><rect x="327.5" y="407.4" width="70" height="49.1"/><rect x="335.5" y="407.4" width="71" height="49.1"/><rect x="344.5" y="407.4" width="70" height="33.1"/><rect x="353.5" y="407.4" width="70" height="49.1"/><rect x="362.5" y="407.4" width="70" height="49.1"/><rect x="370.5" y="407.4" width="71" height="49.1"/><rect x="379.5" y="407.4" width="70" height="8.1"/><rect x="388.5" y="407.4" width="70" height="73.1"/><rect x="397.5" y="407.4" width="70" height="33.1"/><rect x="406.5" y="407.4" width="70" height="41.1"/><rect x="414.5" y="407.4" width="71" height="65.1"/><rect x="423.5" y="407.4" width="70" height="65.1"/><rect x="432.5" y="407.4" width="70" height="49.1"/><rect x="441.5" y="407.4" width="70" height="82.1"/><rect x="449.5" y="407.4" width="71" height="49.1"/><rect x="458.5" y="407.4" width="70" height="8.1"/><rect x="467.5" y="407.4" width="70" height="73.1"/><rect x="476.5" y="407.4" width="70" height="33.1"/><rect x="485.5" y="407.4" width="70" height="41.1"/><rect x="493.5" y="407.4" width="70" height="33.1"/><rect x="502.5" y="407.4" width="70" height="49.1"/><rect x="520.5" y="407.4" width="70" height="73.1"/><rect x="528.5" y="407.4" width="71" height="41.1"/><rect x="537.5" y="407.4" width="70" height="65.1"/><rect x="546.5" y="407.4" width="70" height="8.1"/><rect x="555.5" y="407.4" width="70" height="49.1"/><rect x="563.5" y="407.4" width="71" height="65.1"/><rect x="572.5" y="407.4" width="70" height="57.1"/><rect x="581.5" y="407.4" width="70" height="73.1"/><rect x="590.5" y="407.4" width="70" height="24.1"/><rect x="599.5" y="407.4" width="70" height="33.1"/><rect x="607.5" y="407.4" width="70" height="73.1"/><rect x="616.5" y="407.4" width="70" height="8.1"/><rect x="625.5" y="407.4" width="70" height="33.1"/><rect x="634.5" y="407.4" width="70" height="98.1"/><rect x="642.5" y="407.4" width="71" height="73.1"/><rect x="651.5" y="407.4" width="70" height="65.1"/><rect x="660.5" y="407.4" width="70" height="57.1"/><rect x="669.5" y="407.4" width="70" height="16.1"/><rect x="677.5" y="407.4" width="71" height="49.1"/><rect x="686.5" y="407.4" width="70" height="73.1"/><rect x="695.5" y="407.4" width="70" height="73.1"/><rect x="713.5" y="407.4" width="70" height="16.1"/><rect x="721.5" y="407.4" width="71" height="49.1"/><rect x="730.5" y="407.4" width="70" height="73.1"/><rect x="739.5" y="407.4" width="70" height="65.1"/><rect x="748.5" y="407.4" width="70" height="49.1"/><rect x="756.5" y="407.4" width="71" height="49.1"/><rect x="765.5" y="407.4" width="70" height="16.1"/><rect x="774.5" y="407.4" width="70" height="41.1"/><rect x="783.5" y="407.4" width="70" height="8.1"/><rect x="792.5" y="407.4" width="70" height="16.1"/><rect x="800.5" y="407.4" width="70" height="57.1"/><rect x="809.5" y="407.4" width="70" height="33.1"/><rect x="818.5" y="407.4" width="70" height="24.1"/><rect x="827.5" y="407.4" width="70" height="24.1"/><rect x="844.5" y="407.4" width="70" height="24.1"/><rect x="862.5" y="407.4" width="70" height="16.1"/><rect x="879.5" y="407.4" width="70" height="8.1"/><rect x="888.5" y="407.4" width="70" height="57.1"/><rect x="897.5" y="407.4" width="70" height="8.1"/><rect x="906.5" y="407.4" width="70" height="24.1"/><rect x="914.5" y="407.4" width="71" height="16.1"/><rect x="923.5" y="407.4" width="70" height="8.1"/><rect x="941.5" y="407.4" width="70" height="33.1"/><rect x="949.5" y="407.4" width="71" height="41.1"/><rect x="958.5" y="407.4" width="70" height="33.1"/><rect x="967.5" y="407.4" width="70" height="8.1"/><rect x="976.5" y="407.4" width="70" height="8.1"/><rect x="985.5" y="407.4" width="70" height="33.1"/><rect x="1002.5" y="407.4" width="70" height="8.1"/><rect x="1011.5" y="407.4" width="70" height="8.1"/><rect x="1020.5" y="407.4" width="70" height="8.1"/><rect x="1046.5" y="407.4" width="70" height="16.1"/><rect x="1055.5" y="407.4" width="70" height="33.1"/><rect x="1063.5" y="407.4" width="71" height="8.1"/><rect x="1090.5" y="407.4" width="70" height="8.1"/><rect x="1107.5" y="407.4" width="71" height="16.1"/><rect x="1116.5" y="407.4" width="70" height="24.1"/><rect x="1134.5" y="407.4" width="70" height="24.1"/><rect x="1151.5" y="407.4" width="70" height="8.1"/><rect x="1160.5" y="407.4" width="70" height="16.1"/><rect x="1195.5" y="407.4" width="70" height="8.1"/><rect x="1213.5" y="407.4" width="70" height="8.1"/><rect x="1221.5" y="407.4" width="71" height="8.1"/><rect x="1239.5" y="407.4" width="70" height="8.1"/><rect x="1256.5" y="407.4" width="71" height="16.1"/><rect x="1283.5" y="407.4" width="70" height="16.1"/><rect x="1388.5" y="407.4" width="70" height="8.1"/></g>
<g fill="#808080" fill-opacity=".1" stroke="#000" stroke-opacity=".1"><rect x="177.5" y="394.7" width="71" height="12.6"/><rect x="204.5" y="394.7" width="70" height="12.7"/><rect x="213.5" y="394.3" width="70" height="13.1"/><rect x="221.5" y="394.1" width="71" height="13.3"/><rect x="230.5" y="394.5" width="70" height="12.9"/><rect x="239.5" y="374.9" width="70" height="32.4"/><rect x="248.5" y="360.8" width="70" height="46.6"/><rect x="256.5" y="387.5" width="71" height="19.9"/><rect x="265.5" y="342.7" width="70" height="64.6"/><rect x="274.5" y="339.4" width="70" height="68"/><rect x="283.5" y="327.3" width="70" height="80.1"/><rect x="292.5" y="379.8" width="70" height="27.5"/><rect x="300.5" y="287.5" width="70" height="119.8"/><rect x="309.5" y="283.6" width="70" height="123.7"/><rect x="318.5" y="262" width="70" height="145.4"/><rect x="327.5" y="274.9" width="70" height="132.5"/><rect x="335.5" y="235.8" width="71" height="171.5"/><rect x="344.5" y="284.3" width="70" height="123"/><rect x="353.5" y="329.2" width="70" height="78.2"/><rect x="362.5" y="299.5" width="70" height="107.8"/><rect x="370.5" y="286" width="71" height="121.3"/><rect x="379.5" y="263" width="70" height="144.3"/><rect x="388.5" y="263.1" width="70" height="144.2"/><rect x="397.5" y="314.6" width="70" height="92.7"/><rect x="406.5" y="310.8" width="70" height="96.6"/><rect x="414.5" y="267.8" width="71" height="139.5"/><rect x="423.5" y="217.5" width="70" height="189.9"/><rect x="432.5" y="265.4" width="70" height="142"/><rect x="441.5" y="215.7" width="70" height="191.6"/><rect x="449.5" y="151.5" width="71" height="255.8"/><rect x="458.5" y="186.8" width="70" height="220.5"/><rect x="467.5" y="267.9" width="70" height="139.4"/><rect x="476.5" y="275.7" width="70" height="131.6"/><rect x="485.5" y="329.4" width="70" height="77.9"/><rect x="493.5" y="201.3" width="70" height="206"/><rect x="502.5" y="208.5" width="70" height="198.9"/><rect x="511.5" y="166.2" width="70" height="241.1"/><rect x="520.5" y="251" width="70" height="156.4"/><rect x="528.5" y="204" width="71" height="203.3"/><rect x="537.5" y="218.2" width="70" height="189.1"/><rect x="546.5" y="250.3" width="70" height="157"/><rect x="555.5" y="319.9" width="70" height="87.5"/><rect x="563.5" y="255" width="71" height="152.3"/><rect x="572.5" y="193.1" width="70" height="214.2"/><rect x="581.5" y="199.8" width="70" height="207.5"/><rect x="590.5" y="177" width="70" height="230.3"/><rect x="599.5" y="341" width="70" height="66.4"/><rect x="607.5" y="262.1" width="70" height="145.3"/><rect x="616.5" y="299.3" width="70" height="108.1"/><rect x="625.5" y="251.7" width="70" height="155.7"/><rect x="634.5" y="276.7" width="70" height="130.7"/><rect x="642.5" y="281.4" width="71" height="125.9"/><rect x="651.5" y="310.7" width="70" height="96.7"/><rect x="660.5" y="287" width="70" height="120.4"/><rect x="669.5" y="225.4" width="70" height="182"/><rect x="677.5" y="281.3" width="71" height="126"/><rect x="686.5" y="290" width="70" height="117.4"/><rect x="695.5" y="317.2" width="70" height="90.2"/><rect x="704.5" y="306" width="70" height="101.3"/><rect x="713.5" y="325" width="70" height="82.3"/><rect x="721.5" y="314.8" width="71" height="92.6"/><rect x="730.5" y="257.2" width="70" height="150.2"/><rect x="739.5" y="368.8" width="70" height="38.5"/><rect x="748.5" y="272.3" width="70" height="135"/><rect x="756.5" y="275.4" width="71" height="132"/><rect x="765.5" y="358.9" width="70" height="48.5"/><rect x="774.5" y="281.4" width="70" height="126"/><rect x="783.5" y="298.7" width="70" height="108.7"/><rect x="792.5" y="347.3" width="70" height="60"/><rect x="800.5" y="307.6" width="70" height="99.7"/><rect x="809.5" y="335.4" width="70" height="72"/><rect x="818.5" y="355.5" width="70" height="51.8"/><rect x="827.5" y="366.9" width="70" height="40.4"/><rect x="835.5" y="334.9" width="71" height="72.5"/><rect x="844.5" y="366.3" width="70" height="41.1"/><rect x="853.5" y="345.7" width="70" height="61.7"/><rect x="862.5" y="345" width="70" height="62.3"/><rect x="870.5" y="333.7" width="71" height="73.6"/><rect x="879.5" y="343.6" width="70" height="63.8"/><rect x="888.5" y="341.5" width="70" height="65.9"/><rect x="897.5" y="341" width="70" height="66.3"/><rect x="906.5" y="363.4" width="70" height="43.9"/><rect x="914.5" y="341.2" width="71" height="66.2"/><rect x="923.5" y="373.3" width="70" height="34"/><rect x="932.5" y="372.9" width="70" height="34.5"/><rect x="941.5" y="360.3" width="70" height="47"/><rect x="949.5" y="384" width="71" height="23.3"/><rect x="958.5" y="371.9" width="70" height="35.5"/><rect x="967.5" y="372.6" width="70" height="34.7"/><rect x="976.5" y="371.6" width="70" height="35.7"/><rect x="985.5" y="370.8" width="70" height="36.5"/><rect x="993.5" y="383.2" width="70" height="24.2"/><rect x="1002.5" y="370.8" width="70" height="36.5"/><rect x="1011.5" y="381.6" width="70" height="25.8"/><rect x="1020.5" y="369" width="70" height="38.3"/><rect x="1028.5" y="381.9" width="71" height="25.4"/><rect x="1037.5" y="381.3" width="70" height="26.1"/><rect x="1055.5" y="381.4" width="70" height="26"/><rect x="1072.5" y="380.6" width="70" height="26.8"/><rect x="1081.5" y="393.6" width="70" height="13.8"/><rect x="1099.5" y="379.6" width="70" height="27.7"/><rect x="1107.5" y="379.8" width="71" height="27.6"/><rect x="1125.5" y="393" width="70" height="14.3"/><rect x="1134.5" y="378.3" width="70" height="29"/><rect x="1142.5" y="392.5" width="71" height="14.8"/><rect x="1151.5" y="392.3" width="70" height="15"/><rect x="1160.5" y="392.2" width="70" height="15.1"/><rect x="1169.5" y="377.3" width="70" height="30.1"/><rect x="1178.5" y="391.8" width="70" height="15.6"/><rect x="1186.5" y="344.6" width="70" height="62.7"/><rect x="1300.5" y="388.5" width="70" height="18.8"/><rect x="239.5" y="407.4" width="70" height="62.2"/><rect x="248.5" y="407.4" width="70" height="57.6"/><rect x="256.5" y="407.4" width="71" height="53.7"/><rect x="265.5" y="407.4" width="70" height="26"/><rect x="274.5" y="407.4" width="70" height="48.8"/><rect x="283.5" y="407.4" width="70" height="68.3"/><rect x="292.5" y="407.4" width="70" height="66.8"/><rect x="300.5" y="407.4" width="70" height="21.1"/><rect x="309.5" y="407.4" width="70" height="20.1"/><rect x="318.5" y="407.4" width="70" height="18.8"/><rect x="327.5" y="407.4" width="70" height="107"/><rect x="335.5" y="407.4" width="71" height="107"/><rect x="344.5" y="407.4" width="70" height="67.9"/><rect x="353.5" y="407.4" width="70" height="96.8"/><rect x="362.5" y="407.4" width="70" height="90.9"/><rect x="370.5" y="407.4" width="71" height="88.2"/><rect x="379.5" y="407.4" width="70" height="14.3"/><rect x="388.5" y="407.4" width="70" height="124.3"/><rect x="397.5" y="407.4" width="70" height="54.7"/><rect x="406.5" y="407.4" width="70" height="65.9"/><rect x="414.5" y="407.4" width="71" height="97"/><rect x="423.5" y="407.4" width="70" height="98.2"/><rect x="432.5" y="407.4" width="70" height="72.1"/><rect x="441.5" y="407.4" width="70" height="113.1"/><rect x="449.5" y="407.4" width="71" height="65.5"/><rect x="458.5" y="407.4" width="70" height="10.9"/><rect x="467.5" y="407.4" width="70" height="95.8"/><rect x="476.5" y="407.4" width="70" height="42.9"/><rect x="485.5" y="407.4" width="70" height="50.9"/><rect x="493.5" y="407.4" width="70" height="40.5"/><rect x="502.5" y="407.4" width="70" height="59.9"/><rect x="520.5" y="407.4" width="70" height="82.7"/><rect x="528.5" y="407.4" width="71" height="45.5"/><rect x="537.5" y="407.4" width="70" height="70.4"/><rect x="546.5" y="407.4" width="70" height="8.5"/><rect x="555.5" y="407.4" width="70" height="52.2"/><rect x="563.5" y="407.4" width="71" height="65.1"/><rect x="572.5" y="407.4" width="70" height="56"/><rect x="581.5" y="407.4" width="70" height="70.7"/><rect x="590.5" y="407.4" width="70" height="23.7"/><rect x="599.5" y="407.4" width="70" height="30.9"/><rect x="607.5" y="407.4" width="70" height="69.1"/><rect x="616.5" y="407.4" width="70" height="7.6"/><rect x="625.5" y="407.4" width="70" height="27.5"/><rect x="634.5" y="407.4" width="70" height="84.7"/><rect x="642.5" y="407.4" width="71" height="63.7"/><rect x="651.5" y="407.4" width="70" height="56.5"/><rect x="660.5" y="407.4" width="70" height="48.7"/><rect x="669.5" y="407.4" width="70" height="13.2"/><rect x="677.5" y="407.4" width="71" height="39.5"/><rect x="686.5" y="407.4" width="70" height="56.9"/><rect x="695.5" y="407.4" width="70" height="58.9"/><rect x="713.5" y="407.4" width="70" height="12.6"/><rect x="721.5" y="407.4" width="71" height="36.9"/><rect x="730.5" y="407.4" width="70" height="53.7"/><rect x="739.5" y="407.4" width="70" height="46.3"/><rect x="748.5" y="407.4" width="70" height="36.7"/><rect x="756.5" y="407.4" width="71" height="33.8"/><rect x="765.5" y="407.4" width="70" height="11.2"/><rect x="774.5" y="407.4" width="70" height="29.1"/><rect x="783.5" y="407.4" width="70" height="5.5"/><rect x="792.5" y="407.4" width="70" height="11.2"/><rect x="800.5" y="407.4" width="70" height="39.2"/><rect x="809.5" y="407.4" width="70" height="22.1"/><rect x="818.5" y="407.4" width="70" height="16.2"/><rect x="827.5" y="407.4" width="70" height="15.9"/><rect x="844.5" y="407.4" width="70" height="15.5"/><rect x="862.5" y="407.4" width="70" height="10"/><rect x="879.5" y="407.4" width="70" height="4.8"/><rect x="888.5" y="407.4" width="70" height="34.9"/><rect x="897.5" y="407.4" width="70" height="4.8"/><rect x="906.5" y="407.4" width="70" height="14.8"/><rect x="914.5" y="407.4" width="71" height="9.1"/><rect x="923.5" y="407.4" width="70" height="4.5"/><rect x="941.5" y="407.4" width="70" height="17.8"/><rect x="949.5" y="407.4" width="71" height="22.3"/><rect x="958.5" y="407.4" width="70" height="17.5"/><rect x="967.5" y="407.4" width="70" height="4.4"/><rect x="976.5" y="407.4" width="70" height="4.4"/><rect x="985.5" y="407.4" width="70" height="17.8"/><rect x="1002.5" y="407.4" width="70" height="4.1"/><rect x="1011.5" y="407.4" width="70" height="4.2"/><rect x="1020.5" y="407.4" width="70" height="4.1"/><rect x="1046.5" y="407.4" width="70" height="7.9"/><rect x="1055.5" y="407.4" width="70" height="16"/><rect x="1063.5" y="407.4" width="71" height="3.9"/><rect x="1090.5" y="407.4" width="70" height="3.8"/><rect x="1107.5" y="407.4" width="71" height="7.8"/><rect x="1116.5" y="407.4" width="70" height="11.5"/><rect x="1134.5" y="407.4" width="70" height="11.3"/><rect x="1151.5" y="407.4" width="70" height="3.6"/><rect x="1160.5" y="407.4" width="70" height="7.3"/><rect x="1195.5" y="407.4" width="70" height="3.5"/><rect x="1213.5" y="407.4" width="70" height="3.5"/><rect x="1221.5" y="407.4" width="71" height="3.4"/><rect x="1239.5" y="407.4" width="70" height="3.3"/><rect x="1256.5" y="407.4" width="71" height="6.5"/><rect x="1283.5" y="407.4" width="70" height="6.3"/><rect x="1388.5" y="407.4" width="70" height="3"/></g>
<g fill="#ffa500" fill-opacity=".6" stroke="#000" stroke-opacity=".6"><rect x="195.5" y="399.5" width="70" height="7.9"/><rect x="204.5" y="390.5" width="70" height="16.9"/><rect x="213.5" y="374.5" width="70" height="32.9"/><rect x="221.5" y="358.5" width="71" height="48.9"/><rect x="230.5" y="350.5" width="70" height="56.9"/><rect x="239.5" y="374.5" width="70" height="32.9"/><rect x="248.5" y="382.5" width="70" height="24.9"/><rect x="256.5" y="325.5" width="71" height="81.9"/><rect x="265.5" y="341.5" width="70" height="65.9"/><rect x="274.5" y="350.5" width="70" height="56.9"/><rect x="283.5" y="317.5" width="70" height="89.9"/><rect x="292.5" y="317.5" width="70" height="89.9"/><rect x="300.5" y="366.5" width="70" height="40.9"/><rect x="309.5" y="341.5" width="70" height="65.9"/><rect x="318.5" y="317.5" width="70" height="89.9"/><rect x="327.5" y="268.5" width="70" height="138.9"/><rect x="335.5" y="276.5" width="71" height="130.9"/><rect x="344.5" y="268.5" width="70" height="138.9"/><rect x="353.5" y="309.5" width="70" height="97.9"/><rect x="362.5" y="268.5" width="70" height="138.9"/><rect x="370.5" y="284.5" width="71" height="122.9"/><rect x="379.5" y="268.5" width="70" height="138.9"/><rect x="388.5" y="309.5" width="70" height="97.9"/><rect x="397.5" y="292.5" width="70" height="114.9"/><rect x="406.5" y="243.5" width="70" height="163.9"/><rect x="414.5" y="333.5" width="71" height="73.9"/><rect x="423.5" y="309.5" width="70" height="97.9"/><rect x="432.5" y="268.5" width="70" height="138.9"/><rect x="441.5" y="260.5" width="70" height="146.9"/><rect x="449.5" y="170.5" width="71" height="236.9"/><rect x="458.5" y="268.5" width="70" height="138.9"/><rect x="467.5" y="251.5" width="70" height="155.9"/><rect x="476.5" y="137.5" width="70" height="269.9"/><rect x="485.5" y="260.5" width="70" height="146.9"/><rect x="493.5" y="276.5" width="70" height="130.9"/><rect x="502.5" y="350.5" width="70" height="56.9"/><rect x="511.5" y="178.5" width="70" height="228.9"/><rect x="520.5" y="251.5" width="70" height="155.9"/><rect x="528.5" y="251.5" width="71" height="155.9"/><rect x="537.5" y="276.5" width="70" height="130.9"/><rect x="546.5" y="235.5" width="70" height="171.9"/><rect x="555.5" y="268.5" width="70" height="138.9"/><rect x="563.5" y="341.5" width="71" height="65.9"/><rect x="572.5" y="260.5" width="70" height="146.9"/><rect x="581.5" y="325.5" width="70" height="81.9"/><rect x="590.5" y="276.5" width="70" height="130.9"/><rect x="599.5" y="374.5" width="70" height="32.9"/><rect x="607.5" y="268.5" width="70" height="138.9"/><rect x="616.5" y="309.5" width="70" height="97.9"/><rect x="625.5" y="276.5" width="70" height="130.9"/><rect x="634.5" y="292.5" width="70" height="114.9"/><rect x="642.5" y="300.5" width="71" height="106.9"/><rect x="651.5" y="276.5" width="70" height="130.9"/><rect x="660.5" y="284.5" width="70" height="122.9"/><rect x="669.5" y="309.5" width="70" height="97.9"/><rect x="677.5" y="260.5" width="71" height="146.9"/><rect x="686.5" y="292.5" width="70" height="114.9"/><rect x="695.5" y="276.5" width="70" height="130.9"/><rect x="704.5" y="300.5" width="70" height="106.9"/><rect x="713.5" y="309.5" width="70" height="97.9"/><rect x="721.5" y="358.5" width="71" height="48.9"/><rect x="730.5" y="300.5" width="70" height="106.9"/><rect x="739.5" y="292.5" width="70" height="114.9"/><rect x="748.5" y="309.5" width="70" height="97.9"/><rect x="756.5" y="341.5" width="71" height="65.9"/><rect x="765.5" y="350.5" width="70" height="56.9"/><rect x="774.5" y="382.5" width="70" height="24.9"/><rect x="783.5" y="317.5" width="70" height="89.9"/><rect x="792.5" y="341.5" width="70" height="65.9"/><rect x="800.5" y="300.5" width="70" height="106.9"/><rect x="809.5" y="341.5" width="70" height="65.9"/><rect x="818.5" y="341.5" width="70" height="65.9"/><rect x="827.5" y="341.5" width="70" height="65.9"/><rect x="835.5" y="358.5" width="71" height="48.9"/><rect x="844.5" y="366.5" width="70" height="40.9"/><rect x="853.5" y="350.5" width="70" height="56.9"/><rect x="862.5" y="366.5" width="70" height="40.9"/><rect x="870.5" y="374.5" width="71" height="32.9"/><rect x="879.5" y="366.5" width="70" height="40.9"/><rect x="888.5" y="382.5" width="70" height="24.9"/><rect x="897.5" y="366.5" width="70" height="40.9"/><rect x="906.5" y="358.5" width="70" height="48.9"/><rect x="914.5" y="374.5" width="71" height="32.9"/><rect x="923.5" y="366.5" width="70" height="40.9"/><rect x="932.5" y="382.5" width="70" height="24.9"/><rect x="941.5" y="374.5" width="70" height="32.9"/><rect x="949.5" y="382.5" width="71" height="24.9"/><rect x="958.5" y="382.5" width="70" height="24.9"/><rect x="967.5" y="390.5" width="70" height="16.9"/><rect x="976.5" y="382.5" width="70" height="24.9"/><rect x="985.5" y="382.5" width="70" height="24.9"/><rect x="993.5" y="382.5" width="70" height="24.9"/><rect x="1002.5" y="382.5" width="70" height="24.9"/><rect x="1011.5" y="390.5" width="70" height="16.9"/><rect x="1020.5" y="382.5" width="70" height="24.9"/><rect x="1028.5" y="382.5" width="71" height="24.9"/><rect x="1037.5" y="399.5" width="70" height="7.9"/><rect x="1046.5" y="390.5" width="70" height="16.9"/><rect x="1055.5" y="390.5" width="70" height="16.9"/><rect x="1063.5" y="390.5" width="71" height="16.9"/><rect x="1081.5" y="390.5" width="70" height="16.9"/><rect x="1090.5" y="390.5" width="70" height="16.9"/><rect x="1099.5" y="399.5" width="70" height="7.9"/><rect x="1107.5" y="399.5" width="71" height="7.9"/><rect x="1116.5" y="390.5" width="70" height="16.9"/><rect x="1125.5" y="399.5" width="70" height="7.9"/><rect x="1134.5" y="399.5" width="70" height="7.9"/><rect x="1142.5" y="390.5" width="71" height="16.9"/><rect x="1151.5" y="390.5" width="70" height="16.9"/><rect x="1169.5" y="390.5" width="70" height="16.9"/><rect x="1178.5" y="399.5" width="70" height="7.9"/><rect x="1186.5" y="399.5" width="70" height="7.9"/></g>
<g fill="#87ceeb" fill-opacity=".6" stroke="#000" stroke-opacity=".6"><rect x="239.5" y="407.4" width="70" height="8.1"/><rect x="248.5" y="407.4" width="70" height="8.1"/><rect x="256.5" y="407.4" width="71" height="8.1"/><rect x="265.5" y="407.4" width="70" height="16.1"/><rect x="274.5" y="407.4" width="70" height="16.1"/><rect x="283.5" y="407.4" width="70" height="8.1"/><rect x="292.5" y="407.4" width="70" height="24.1"/><rect x="300.5" y="407.4" width="70" height="16.1"/><rect x="309.5" y="407.4" width="70" height="16.1"/><rect x="327.5" y="407.4" width="70" height="16.1"/><rect x="335.5" y="407.4" width="71" height="41.1"/><rect x="344.5" y="407.4" width="70" height="33.1"/><rect x="353.5" y="407.4" width="70" height="24.1"/><rect x="362.5" y="407.4" width="70" height="33.1"/><rect x="370.5" y="407.4" width="71" height="57.1"/><rect x="379.5" y="407.4" width="70" height="90.1"/><rect x="388.5" y="407.4" width="70" height="33.1"/><rect x="397.5" y="407.4" width="70" height="24.1"/><rect x="406.5" y="407.4" width="70" height="65.1"/><rect x="414.5" y="407.4" width="71" height="57.1"/><rect x="423.5" y="407.4" width="70" height="41.1"/><rect x="432.5" y="407.4" width="70" height="33.1"/><rect x="441.5" y="407.4" width="70" height="57.1"/><rect x="449.5" y="407.4" width="71" height="16.1"/><rect x="458.5" y="407.4" width="70" height="33.1"/><rect x="467.5" y="407.4" width="70" height="106.1"/><rect x="476.5" y="407.4" width="70" height="16.1"/><rect x="485.5" y="407.4" width="70" height="57.1"/><rect x="493.5" y="407.4" width="70" height="57.1"/><rect x="502.5" y="407.4" width="70" height="49.1"/><rect x="511.5" y="407.4" width="70" height="73.1"/><rect x="520.5" y="407.4" width="70" height="90.1"/><rect x="528.5" y="407.4" width="71" height="49.1"/><rect x="537.5" y="407.4" width="70" height="24.1"/><rect x="546.5" y="407.4" width="70" height="65.1"/><rect x="555.5" y="407.4" width="70" height="16.1"/><rect x="563.5" y="407.4" width="71" height="8.1"/><rect x="572.5" y="407.4" width="70" height="73.1"/><rect x="581.5" y="407.4" width="70" height="49.1"/><rect x="590.5" y="407.4" width="70" height="73.1"/><rect x="599.5" y="407.4" width="70" height="41.1"/><rect x="607.5" y="407.4" width="70" height="82.1"/><rect x="616.5" y="407.4" width="70" height="49.1"/><rect x="625.5" y="407.4" width="70" height="82.1"/><rect x="634.5" y="407.4" width="70" height="41.1"/><rect x="642.5" y="407.4" width="71" height="24.1"/><rect x="651.5" y="407.4" width="70" height="16.1"/><rect x="660.5" y="407.4" width="70" height="49.1"/><rect x="669.5" y="407.4" width="70" height="98.1"/><rect x="677.5" y="407.4" width="71" height="90.1"/><rect x="686.5" y="407.4" width="70" height="49.1"/><rect x="695.5" y="407.4" width="70" height="41.1"/><rect x="704.5" y="407.4" width="70" height="49.1"/><rect x="713.5" y="407.4" width="70" height="8.1"/><rect x="721.5" y="407.4" width="71" height="8.1"/><rect x="730.5" y="407.4" width="70" height="33.1"/><rect x="739.5" y="407.4" width="70" height="65.1"/><rect x="748.5" y="407.4" width="70" height="41.1"/><rect x="756.5" y="407.4" width="71" height="16.1"/><rect x="765.5" y="407.4" width="70" height="49.1"/><rect x="774.5" y="407.4" width="70" height="33.1"/><rect x="783.5" y="407.4" width="70" height="24.1"/><rect x="792.5" y="407.4" width="70" height="41.1"/><rect x="800.5" y="407.4" width="70" height="49.1"/><rect x="809.5" y="407.4" width="70" height="8.1"/><rect x="818.5" y="407.4" width="70" height="8.1"/><rect x="827.5" y="407.4" width="70" height="24.1"/><rect x="862.5" y="407.4" width="70" height="8.1"/><rect x="870.5" y="407.4" width="71" height="8.1"/><rect x="879.5" y="407.4" width="70" height="33.1"/><rect x="888.5" y="407.4" width="70" height="33.1"/><rect x="897.5" y="407.4" width="70" height="24.1"/><rect x="906.5" y="407.4" width="70" height="16.1"/><rect x="923.5" y="407.4" width="70" height="16.1"/><rect x="941.5" y="407.4" width="70" height="8.1"/><rect x="949.5" y="407.4" width="71" height="8.1"/><rect x="958.5" y="407.4" width="70" height="16.1"/><rect x="967.5" y="407.4" width="70" height="33.1"/><rect x="976.5" y="407.4" width="70" height="8.1"/><rect x="985.5" y="407.4" width="70" height="16.1"/><rect x="993.5" y="407.4" width="70" height="8.1"/><rect x="1002.5" y="407.4" width="70" height="16.1"/><rect x="1011.5" y="407.4" width="70" height="8.1"/><rect x="1037.5" y="407.4" width="70" height="16.1"/><rect x="1046.5" y="407.4" width="70" height="16.1"/><rect x="1055.5" y="407.4" width="70" height="16.1"/><rect x="1063.5" y="407.4" width="71" height="8.1"/><rect x="1072.5" y="407.4" width="70" height="16.1"/><rect x="1099.5" y="407.4" width="70" height="8.1"/><rect x="1107.5" y="407.4" width="71" height="16.1"/><rect x="1116.5" y="407.4" width="70" height="8.1"/><rect x="1125.5" y="407.4" width="70" height="8.1"/><rect x="1134.5" y="407.4" width="70" height="16.1"/><rect x="1142.5" y="407.4" width="71" height="8.1"/><rect x="1151.5" y="407.4" width="70" height="16.1"/><rect x="1160.5" y="407.4" width="70" height="8.1"/><rect x="1186.5" y="407.4" width="70" height="8.1"/><rect x="1195.5" y="407.4" width="70" height="8.1"/><rect x="1204.5" y="407.4" width="70" height="8.1"/><rect x="1248.5" y="407.4" width="70" height="24.1"/><rect x="1256.5" y="407.4" width="71" height="8.1"/><rect x="1274.5" y="407.4" width="70" height="16.1"/><rect x="1318.5" y="407.4" width="70" height="16.1"/><rect x="1362.5" y="407.4" width="70" height="8.1"/><rect x="1686.5" y="407.4" width="70" height="8.1"/></g>
<g fill="#808080" fill-opacity=".1" stroke="#000" stroke-opacity=".1"><rect x="195.5" y="400.8" width="70" height="6.5"/><rect x="204.5" y="394.8" width="70" height="12.6"/><rect x="213.5" y="381.5" width="70" height="25.8"/><rect x="221.5" y="369" width="71" height="38.3"/><rect x="230.5" y="360.9" width="70" height="46.4"/><rect x="239.5" y="380.4" width="70" height="26.9"/><rect x="248.5" y="388.2" width="70" height="19.2"/><rect x="256.5" y="340.7" width="71" height="66.6"/><rect x="265.5" y="353.8" width="70" height="53.5"/><rect x="274.5" y="359.9" width="70" height="47.5"/><rect x="283.5" y="332.1" width="70" height="75.3"/><rect x="292.5" y="332.3" width="70" height="75"/><rect x="300.5" y="372.9" width="70" height="34.4"/><rect x="309.5" y="352.6" width="70" height="54.8"/><rect x="318.5" y="329.4" width="70" height="77.9"/><rect x="327.5" y="289.6" width="70" height="117.7"/><rect x="335.5" y="295.9" width="71" height="111.4"/><rect x="344.5" y="288.3" width="70" height="119.1"/><rect x="353.5" y="322.8" width="70" height="84.5"/><rect x="362.5" y="286.9" width="70" height="120.5"/><rect x="370.5" y="300.4" width="71" height="106.9"/><rect x="379.5" y="287" width="70" height="120.4"/><rect x="388.5" y="319.5" width="70" height="87.8"/><rect x="397.5" y="305.8" width="70" height="101.6"/><rect x="406.5" y="260.6" width="70" height="146.8"/><rect x="414.5" y="339.8" width="71" height="67.6"/><rect x="423.5" y="318.7" width="70" height="88.7"/><rect x="432.5" y="281" width="70" height="126.4"/><rect x="441.5" y="272.7" width="70" height="134.6"/><rect x="449.5" y="186.4" width="71" height="220.9"/><rect x="458.5" y="279.9" width="70" height="127.4"/><rect x="467.5" y="262.8" width="70" height="144.6"/><rect x="476.5" y="154.7" width="70" height="252.7"/><rect x="485.5" y="268.5" width="70" height="138.9"/><rect x="493.5" y="283.1" width="70" height="124.2"/><rect x="502.5" y="352" width="70" height="55.3"/><rect x="511.5" y="190.3" width="70" height="217"/><rect x="520.5" y="256.9" width="70" height="150.4"/><rect x="528.5" y="255.9" width="71" height="151.4"/><rect x="537.5" y="281.9" width="70" height="125.5"/><rect x="546.5" y="237.8" width="70" height="169.6"/><rect x="555.5" y="269.2" width="70" height="138.2"/><rect x="563.5" y="341" width="71" height="66.4"/><rect x="572.5" y="261" width="70" height="146.4"/><rect x="581.5" y="324.4" width="70" height="83"/><rect x="590.5" y="273.7" width="70" height="133.6"/><rect x="599.5" y="373.5" width="70" height="33.8"/><rect x="607.5" y="263.4" width="70" height="144"/><rect x="616.5" y="305" width="70" height="102.3"/><rect x="625.5" y="269.9" width="70" height="137.4"/><rect x="634.5" y="286.3" width="70" height="121.1"/><rect x="642.5" y="294.1" width="71" height="113.3"/><rect x="651.5" y="266.7" width="70" height="140.7"/><rect x="660.5" y="274.9" width="70" height="132.4"/><rect x="669.5" y="304.2" width="70" height="103.1"/><rect x="677.5" y="247.4" width="71" height="160"/><rect x="686.5" y="278.5" width="70" height="128.8"/><rect x="695.5" y="262.6" width="70" height="144.7"/><rect x="704.5" y="291.5" width="70" height="115.8"/><rect x="713.5" y="296.9" width="70" height="110.5"/><rect x="721.5" y="352" width="71" height="55.4"/><rect x="730.5" y="284.2" width="70" height="123.2"/><rect x="739.5" y="275.1" width="70" height="132.3"/><rect x="748.5" y="292.6" width="70" height="114.7"/><rect x="756.5" y="328.7" width="71" height="78.7"/><rect x="765.5" y="339.9" width="70" height="67.4"/><rect x="774.5" y="378.4" width="70" height="28.9"/><rect x="783.5" y="298.9" width="70" height="108.4"/><rect x="792.5" y="327.6" width="70" height="79.8"/><rect x="800.5" y="279.5" width="70" height="127.8"/><rect x="809.5" y="325.9" width="70" height="81.4"/><rect x="818.5" y="327.9" width="70" height="79.4"/><rect x="827.5" y="326.5" width="70" height="80.9"/><rect x="835.5" y="344.8" width="71" height="62.5"/><rect x="844.5" y="354.1" width="70" height="53.2"/><rect x="853.5" y="334" width="70" height="73.4"/><rect x="862.5" y="353.5" width="70" height="53.8"/><rect x="870.5" y="364.6" width="71" height="42.7"/><rect x="879.5" y="354.1" width="70" height="53.3"/><rect x="888.5" y="374.8" width="70" height="32.5"/><rect x="897.5" y="351.8" width="70" height="55.5"/><rect x="906.5" y="340.2" width="70" height="67.2"/><rect x="914.5" y="361.5" width="71" height="45.9"/><rect x="923.5" y="350.5" width="70" height="56.9"/><rect x="932.5" y="372.4" width="70" height="34.9"/><rect x="941.5" y="360.2" width="70" height="47.1"/><rect x="949.5" y="373" width="71" height="34.4"/><rect x="958.5" y="372.7" width="70" height="34.7"/><rect x="967.5" y="383.7" width="70" height="23.7"/><rect x="976.5" y="370.8" width="70" height="36.5"/><rect x="985.5" y="370.3" width="70" height="37"/><rect x="993.5" y="371" width="70" height="36.3"/><rect x="1002.5" y="370.5" width="70" height="36.8"/><rect x="1011.5" y="382.8" width="70" height="24.6"/><rect x="1020.5" y="369.9" width="70" height="37.5"/><rect x="1028.5" y="367.8" width="71" height="39.6"/><rect x="1037.5" y="394.5" width="70" height="12.9"/><rect x="1046.5" y="381.8" width="70" height="25.6"/><rect x="1055.5" y="381.4" width="70" height="25.9"/><rect x="1063.5" y="381.4" width="71" height="25.9"/><rect x="1081.5" y="380.2" width="70" height="27.2"/><rect x="1090.5" y="378.9" width="70" height="28.4"/><rect x="1099.5" y="393.1" width="70" height="14.3"/><rect x="1107.5" y="393.5" width="71" height="13.9"/><rect x="1116.5" y="379.5" width="70" height="27.9"/><rect x="1125.5" y="393.2" width="70" height="14.1"/><rect x="1134.5" y="392.6" width="70" height="14.8"/><rect x="1142.5" y="376.6" width="71" height="30.7"/><rect x="1151.5" y="377.6" width="70" height="29.7"/><rect x="1169.5" y="376.9" width="70" height="30.5"/><rect x="1178.5" y="392" width="70" height="15.3"/><rect x="1186.5" y="392.1" width="70" height="15.3"/><rect x="239.5" y="407.4" width="70" height="30.9"/><rect x="248.5" y="407.4" width="70" height="29.2"/><rect x="256.5" y="407.4" width="71" height="27.3"/><rect x="265.5" y="407.4" width="70" height="49"/><rect x="274.5" y="407.4" width="70" height="47.5"/><rect x="283.5" y="407.4" width="70" height="23.2"/><rect x="292.5" y="407.4" width="70" height="64.7"/><rect x="300.5" y="407.4" width="70" height="41.8"/><rect x="309.5" y="407.4" width="70" height="38.7"/><rect x="327.5" y="407.4" width="70" height="35.6"/><rect x="335.5" y="407.4" width="71" height="85.2"/><rect x="344.5" y="407.4" width="70" height="66"/><rect x="353.5" y="407.4" width="70" height="48.4"/><rect x="362.5" y="407.4" width="70" height="60.2"/><rect x="370.5" y="407.4" width="71" height="102.8"/><rect x="379.5" y="407.4" width="70" height="156.5"/><rect x="388.5" y="407.4" width="70" height="54.7"/><rect x="397.5" y="407.4" width="70" height="39.9"/><rect x="406.5" y="407.4" width="70" height="102.9"/><rect x="414.5" y="407.4" width="71" height="87.8"/><rect x="423.5" y="407.4" width="70" height="62.3"/><rect x="432.5" y="407.4" width="70" height="46.5"/><rect x="441.5" y="407.4" width="70" height="77.2"/><rect x="449.5" y="407.4" width="71" height="23.1"/><rect x="458.5" y="407.4" width="70" height="45.3"/><rect x="467.5" y="407.4" width="70" height="138.3"/><rect x="476.5" y="407.4" width="70" height="20.6"/><rect x="485.5" y="407.4" width="70" height="72.1"/><rect x="493.5" y="407.4" width="70" height="69.1"/><rect x="502.5" y="407.4" width="70" height="57.4"/><rect x="511.5" y="407.4" width="70" height="83.5"/><rect x="520.5" y="407.4" width="70" height="98.3"/><rect x="528.5" y="407.4" width="71" height="55.6"/><rect x="537.5" y="407.4" width="70" height="26.5"/><rect x="546.5" y="407.4" width="70" height="67.1"/><rect x="555.5" y="407.4" width="70" height="17.2"/><rect x="563.5" y="407.4" width="71" height="8.5"/><rect x="572.5" y="407.4" width="70" height="73.8"/><rect x="581.5" y="407.4" width="70" height="48.5"/><rect x="590.5" y="407.4" width="70" height="68.9"/><rect x="599.5" y="407.4" width="70" height="39.1"/><rect x="607.5" y="407.4" width="70" height="75.6"/><rect x="616.5" y="407.4" width="70" height="44.4"/><rect x="625.5" y="407.4" width="70" height="72.2"/><rect x="634.5" y="407.4" width="70" height="36.2"/><rect x="642.5" y="407.4" width="71" height="22.4"/><rect x="651.5" y="407.4" width="70" height="13.9"/><rect x="660.5" y="407.4" width="70" height="41.2"/><rect x="669.5" y="407.4" width="70" height="81.1"/><rect x="677.5" y="407.4" width="71" height="73.1"/><rect x="686.5" y="407.4" width="70" height="40.6"/><rect x="695.5" y="407.4" width="70" height="32.8"/><rect x="704.5" y="407.4" width="70" height="39.7"/><rect x="713.5" y="407.4" width="70" height="6.5"/><rect x="721.5" y="407.4" width="71" height="6"/><rect x="730.5" y="407.4" width="70" height="24.9"/><rect x="739.5" y="407.4" width="70" height="48"/><rect x="748.5" y="407.4" width="70" height="28.7"/><rect x="756.5" y="407.4" width="71" height="11.4"/><rect x="765.5" y="407.4" width="70" height="34.5"/><rect x="774.5" y="407.4" width="70" height="23.3"/><rect x="783.5" y="407.4" width="70" height="17.1"/><rect x="792.5" y="407.4" width="70" height="27.8"/><rect x="800.5" y="407.4" width="70" height="32.3"/><rect x="809.5" y="407.4" width="70" height="5.4"/><rect x="818.5" y="407.4" width="70" height="5.4"/><rect x="827.5" y="407.4" width="70" height="16"/><rect x="862.5" y="407.4" width="70" height="5.1"/><rect x="870.5" y="407.4" width="71" height="5"/><rect x="879.5" y="407.4" width="70" height="19.9"/><rect x="888.5" y="407.4" width="70" height="19.6"/><rect x="897.5" y="407.4" width="70" height="14.2"/><rect x="906.5" y="407.4" width="70" height="9.6"/><rect x="923.5" y="407.4" width="70" height="9.1"/><rect x="941.5" y="407.4" width="70" height="4.6"/><rect x="949.5" y="407.4" width="71" height="4.5"/><rect x="958.5" y="407.4" width="70" height="8.9"/><rect x="967.5" y="407.4" width="70" height="17.5"/><rect x="976.5" y="407.4" width="70" height="4.4"/><rect x="985.5" y="407.4" width="70" height="8.6"/><rect x="993.5" y="407.4" width="70" height="4.4"/><rect x="1002.5" y="407.4" width="70" height="8.5"/><rect x="1011.5" y="407.4" width="70" height="4.2"/><rect x="1037.5" y="407.4" width="70" height="8"/><rect x="1046.5" y="407.4" width="70" height="7.9"/><rect x="1055.5" y="407.4" width="70" height="8.3"/><rect x="1063.5" y="407.4" width="71" height="3.9"/><rect x="1072.5" y="407.4" width="70" height="7.7"/><rect x="1099.5" y="407.4" width="70" height="3.9"/><rect x="1107.5" y="407.4" width="71" height="7.7"/><rect x="1116.5" y="407.4" width="70" height="3.7"/><rect x="1125.5" y="407.4" width="70" height="3.9"/><rect x="1134.5" y="407.4" width="70" height="7.6"/><rect x="1142.5" y="407.4" width="71" height="3.6"/><rect x="1151.5" y="407.4" width="70" height="7.2"/><rect x="1160.5" y="407.4" width="70" height="3.4"/><rect x="1186.5" y="407.4" width="70" height="3.6"/><rect x="1195.5" y="407.4" width="70" height="3.5"/><rect x="1204.5" y="407.4" width="70" height="3.4"/><rect x="1248.5" y="407.4" width="70" height="9.5"/><rect x="1256.5" y="407.4" width="71" height="3.3"/><rect x="1274.5" y="407.4" width="70" height="6.6"/><rect x="1318.5" y="407.4" width="70" height="6.2"/><rect x="1362.5" y="407.4" width="70" height="3"/><rect x="1686.5" y="407.4" width="70" height="2.4"/></g>
</g>
<line x1="81" x2="2002" y1="407.4" y2="407.4" stroke="#808080" stroke-width="2.78"/>
<line x1="292" x2="292" y1="599" y2="72" stroke="#000" stroke-width="2.08" stroke-dasharray="7.71 3.33"/>
<line x1="1695" x2="1695" y1="599" y2="72" stroke="#000" stroke-width="2.08" stroke-dasharray="7.71 3.33"/>
<text x="116.4" y="620.6" font-size="19.44" text-anchor="middle">0.0</text>
<text x="467.3" y="620.6" font-size="19.44" text-anchor="middle">0.2</text>
<text x="818.2" y="620.6" font-size="19.44" text-anchor="middle">0.4</text>
<text x="1169" y="620.6" font-size="19.44" text-anchor="middle">0.6</text>
<text x="1519.9" y="620.6" font-size="19.44" text-anchor="middle">0.8</text>
<text x="1870.8" y="620.6" font-size="19.44" text-anchor="middle">1.0</text>
<text x="76.1" y="87.5" font-size="19.44" text-anchor="end">40</text>
<text x="76.1" y="169.3" font-size="19.44" text-anchor="end">30</text>
<text x="76.1" y="251.1" font-size="19.44" text-anchor="end">20</text>
<text x="76.1" y="332.9" font-size="19.44" text-anchor="end">10</text>
<text x="76.1" y="414.8" font-size="19.44" text-anchor="end">0</text>
<text x="76.1" y="496.6" font-size="19.44" text-anchor="end">−10</text>
<text x="76.1" y="578.4" font-size="19.44" text-anchor="end">−20</text>
<text x="1041.5" y="645" font-size="20.83" text-anchor="middle">Propensity Scores</text>
<text transform="translate(24.5 337.2) rotate(-90)" font-size="20.83" text-anchor="middle">Counts of Observations</text>
<text x="1036.8" y="31.8" font-size="27.78" text-anchor="middle">Weighted and Unweighted Draws from the Posterior</text>
<text x="1051.2" y="63.6" font-size="27.78" text-anchor="middle">Propensity Scores Distribution</text>
<line x1="876.7" x2="915.6" y1="98.3" y2="98.3" stroke="#87ceeb" stroke-width="2.78" stroke-linecap="round"/>
<text x="930.1" y="105.4" font-size="19.44" text-anchor="start">Treatment PS</text>
<line x1="876.7" x2="915.6" y1="126.8" y2="126.8" stroke="#ffa500" stroke-width="2.78" stroke-linecap="round"/>
<text x="930.1" y="133.9" font-size="19.44" text-anchor="start">Control PS</text>
<line x1="876.7" x2="915.6" y1="155.3" y2="155.3" stroke="#808080" stroke-width="2.78" stroke-linecap="round"/>
<text x="930.1" y="162.4" font-size="19.44" text-anchor="start">Weighted Pseudo Population</text>
<line x1="875.3" x2="917" y1="183.8" y2="183.8" stroke="#000" stroke-width="2.78" stroke-dasharray="10.28 4.44"/>
<text x="930.1" y="190.9" font-size="19.44" text-anchor="start">Extreme PS</text>
<rect x="81" y="724" width="1261" height="528" fill="#eee"/>
<g stroke="#fff" stroke-width="1.39"><line x1="214.5" x2="214.5" y1="724" y2="1252"/><line x1="466.5" x2="466.5" y1="724" y2="1252"/><line x1="718.5" x2="718.5" y1="724" y2="1252"/><line x1="969.5" x2="969.5" y1="724" y2="1252"/><line x1="1221.5" x2="1221.5" y1="724" y2="1252"/><line x1="81" x2="1342" y1="1165.5" y2="1165.5"/><line x1="81" x2="1342" y1="1078.5" y2="1078.5"/><line x1="81" x2="1342" y1="992.5" y2="992.5"/><line x1="81" x2="1342" y1="905.5" y2="905.5"/><line x1="81" x2="1342" y1="819.5" y2="819.5"/><line x1="81" x2="1342" y1="732.5" y2="732.5"/></g>
<clipPath id="c2"><rect x="81" y="724" width="1261" height="528"/></clipPath>
<clipPath id="c3"><rect x="1401" y="724" width="601" height="527.6"/></clipPath>
<g clip-path="url(#c2)" stroke="#000" stroke-opacity=".6" stroke-width="1.39" fill-opacity=".6">
<g fill="#87ceeb"><rect x="809.5" y="1217.5" width="48" height="34.5"/><rect x="857.5" y="1083.5" width="47" height="168.5"/><rect x="904.5" y="875.5" width="48" height="376.5"/><rect x="952.5" y="797.5" width="47" height="454.5"/><rect x="999.5" y="762.5" width="48" height="489.5"/><rect x="1047.5" y="905.5" width="48" height="346.5"/><rect x="1095.5" y="1057.5" width="47" height="194.5"/><rect x="1142.5" y="1174.5" width="48" height="77.5"/><rect x="1190.5" y="1239.5" width="47" height="12.5"/><rect x="1237.5" y="1243.5" width="48" height="8.5"/></g><g fill="#ffa500"><rect x="139.5" y="1226.5" width="6" height="25.5"/><rect x="145.5" y="1152.5" width="7" height="99.5"/><rect x="152.5" y="970.5" width="6" height="281.5"/><rect x="158.5" y="853.5" width="6" height="398.5"/><rect x="164.5" y="749.5" width="7" height="502.5"/><rect x="171.5" y="801.5" width="6" height="450.5"/><rect x="177.5" y="1009.5" width="7" height="242.5"/><rect x="184.5" y="1135.5" width="6" height="116.5"/><rect x="190.5" y="1213.5" width="7" height="38.5"/><rect x="197.5" y="1243.5" width="6" height="8.5"/></g><rect x="1203.5" y="744.5" width="39" height="13" fill="#87ceeb"/><rect x="1203.5" y="773.5" width="39" height="13" fill="#ffa500"/></g>
<text x="1258.9" y="758" font-size="19.44" text-anchor="start">E(Y(1))</text>
<text x="1258.9" y="787" font-size="19.44" text-anchor="start">E(Y(0))</text>
<text x="214.4" y="1272.1" font-size="19.44" text-anchor="middle">2</text>
<text x="466.2" y="1272.1" font-size="19.44" text-anchor="middle">3</text>
<text x="718" y="1272.1" font-size="19.44" text-anchor="middle">4</text>
<text x="969.7" y="1272.1" font-size="19.44" text-anchor="middle">5</text>
<text x="1221.5" y="1272.1" font-size="19.44" text-anchor="middle">6</text>
<text x="76.1" y="1259.5" font-size="19.44" text-anchor="end">0</text>
<text x="76.1" y="1172.9" font-size="19.44" text-anchor="end">20</text>
<text x="76.1" y="1086.3" font-size="19.44" text-anchor="end">40</text>
<text x="76.1" y="999.7" font-size="19.44" text-anchor="end">60</text>
<text x="76.1" y="913.1" font-size="19.44" text-anchor="end">80</text>
<text x="76.1" y="826.4" font-size="19.44" text-anchor="end">100</text>
<text x="76.1" y="739.8" font-size="19.44" text-anchor="end">120</text>
<text x="711.5" y="1298" font-size="20.83" text-anchor="middle">outcome</text>
<text x="707.2" y="684" font-size="27.78" text-anchor="middle">The Outcomes</text>
<text x="716.3" y="717" font-size="27.78" text-anchor="middle">Under the robust re-weighting scheme</text>
<rect x="1401" y="724" width="601" height="527.6" fill="#eee"/>
<g stroke="#fff" stroke-width="1.39"><line x1="1440.5" x2="1440.5" y1="724" y2="1251.6"/><line x1="1571.5" x2="1571.5" y1="724" y2="1251.6"/><line x1="1702.5" x2="1702.5" y1="724" y2="1251.6"/><line x1="1832.5" x2="1832.5" y1="724" y2="1251.6"/><line x1="1963.5" x2="1963.5" y1="724" y2="1251.6"/><line x1="1401" x2="2002" y1="1251.5" y2="1251.5"/><line x1="1401" x2="2002" y1="1163.5" y2="1163.5"/><line x1="1401" x2="2002" y1="1075.5" y2="1075.5"/><line x1="1401" x2="2002" y1="987.5" y2="987.5"/><line x1="1401" x2="2002" y1="899.5" y2="899.5"/><line x1="1401" x2="2002" y1="811.5" y2="811.5"/></g>
<g clip-path="url(#c3)" stroke="#000" stroke-opacity=".6" stroke-width="1.39" fill-opacity=".6" fill="#808080"><rect x="1428.5" y="1216.5" width="55" height="35.1"/><rect x="1483.5" y="1102.5" width="54" height="149.1"/><rect x="1537.5" y="895.5" width="55" height="356.1"/><rect x="1592.5" y="750.5" width="55" height="501.1"/><rect x="1647.5" y="772.5" width="54" height="479.1"/><rect x="1701.5" y="895.5" width="55" height="356.1"/><rect x="1756.5" y="1031.5" width="54" height="220.1"/><rect x="1810.5" y="1176.5" width="55" height="75.1"/><rect x="1865.5" y="1233.5" width="55" height="18.1"/><rect x="1920.5" y="1242.5" width="54" height="9.1"/><rect x="1866.5" y="744.5" width="39" height="13"/></g>
<line x1="1657" x2="1657" y1="724" y2="1251.6" stroke="#2a2eec" stroke-width="2.08"/>
<line x1="1866.8" x2="1905.7" y1="778.8" y2="778.8" stroke="#2a2eec" stroke-width="2.08"/>
<text x="1921.3" y="757.8" font-size="19.44" text-anchor="start">ATE</text>
<text x="1920.9" y="787" font-size="19.44" text-anchor="start">E(ATE)</text>
<text x="1440.5" y="1272.1" font-size="19.44" text-anchor="middle">2.5</text>
<text x="1571.3" y="1272.1" font-size="19.44" text-anchor="middle">3.0</text>
<text x="1702.1" y="1272.1" font-size="19.44" text-anchor="middle">3.5</text>
<text x="1832.9" y="1272.1" font-size="19.44" text-anchor="middle">4.0</text>
<text x="1963.7" y="1272.1" font-size="19.44" text-anchor="middle">4.5</text>
<text x="1395.3" y="1258.9" font-size="19.44" text-anchor="end">0</text>
<text x="1395.3" y="1171" font-size="19.44" text-anchor="end">20</text>
<text x="1395.3" y="1083" font-size="19.44" text-anchor="end">40</text>
<text x="1395.3" y="995.1" font-size="19.44" text-anchor="end">60</text>
<text x="1395.3" y="907.1" font-size="19.44" text-anchor="end">80</text>
<text x="1395.3" y="819.2" font-size="19.44" text-anchor="end">100</text>
<text x="1701.5" y="1298" font-size="20.83" text-anchor="middle">Difference</text>
<text x="1701.2" y="716.7" font-size="27.78" text-anchor="middle">Average Treatment Effect</text>
</svg></body></html>
